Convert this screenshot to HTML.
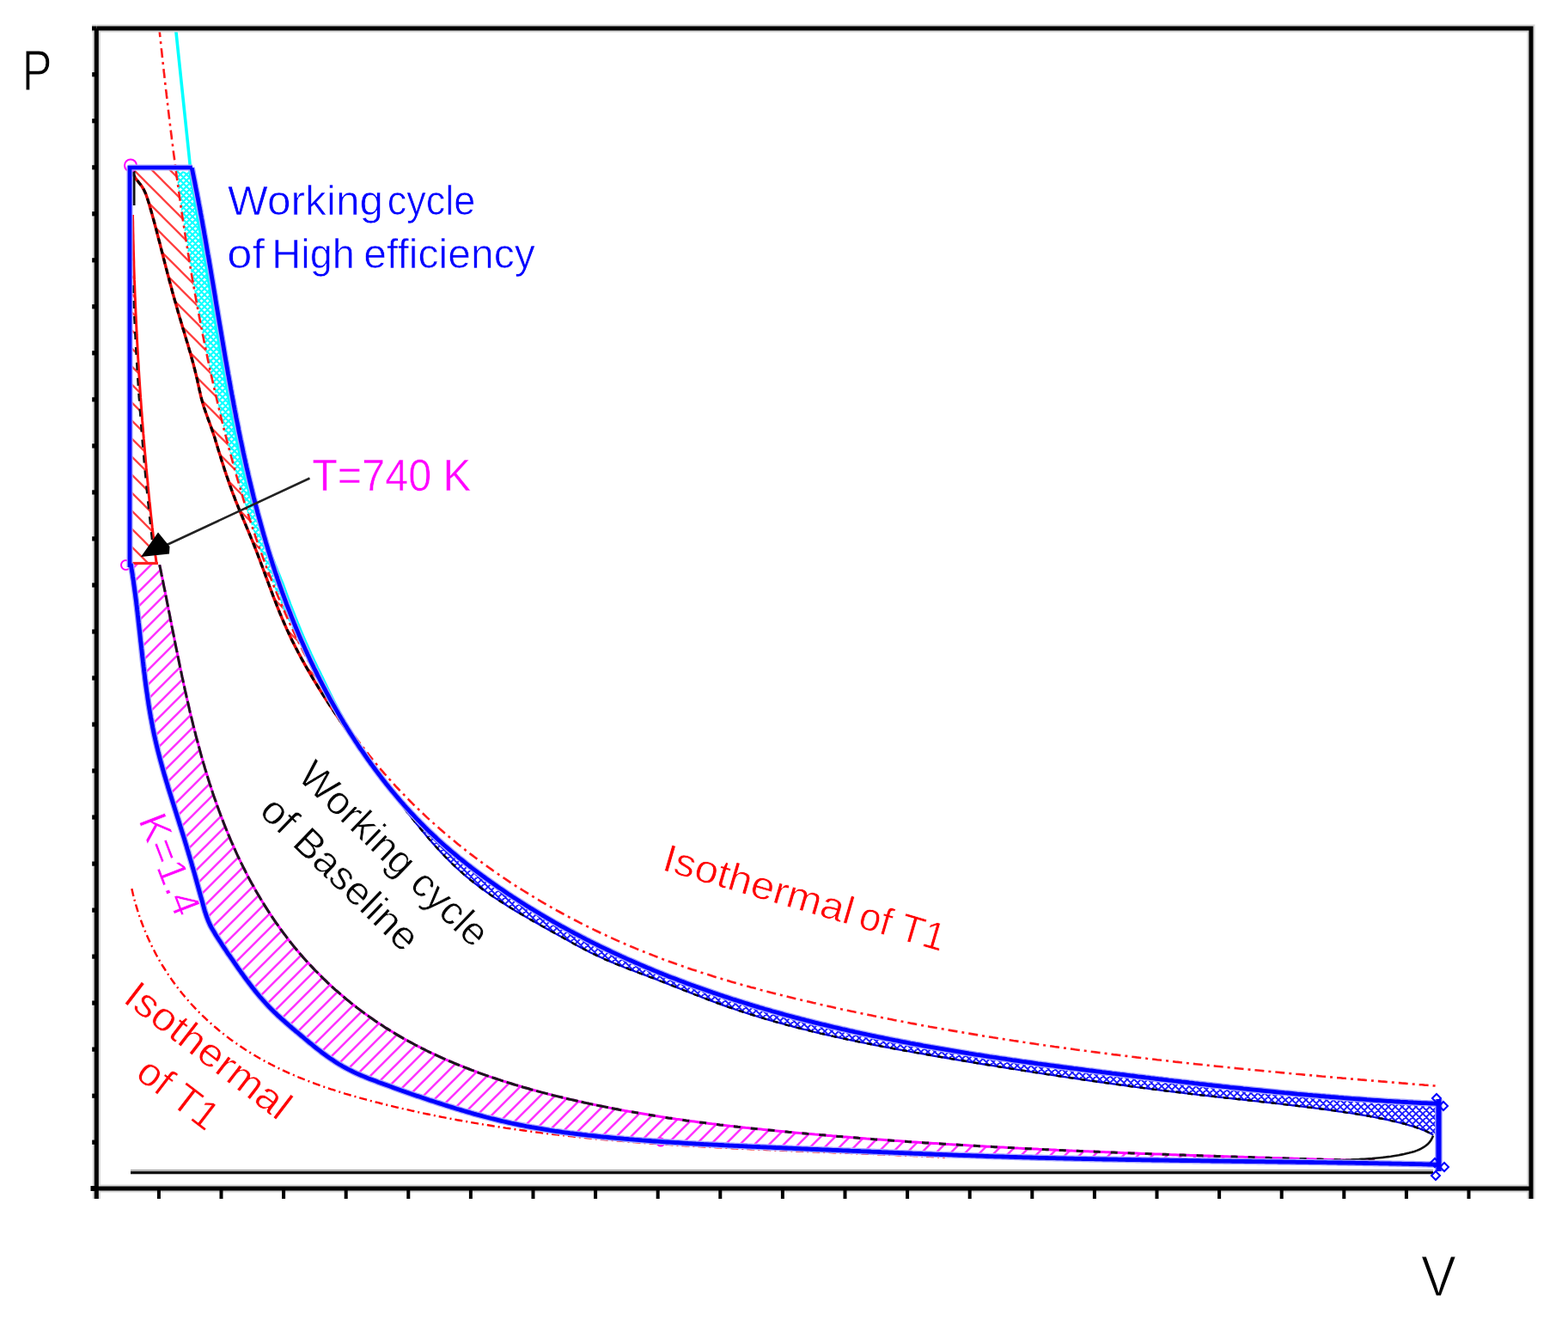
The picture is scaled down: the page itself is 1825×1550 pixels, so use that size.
<!DOCTYPE html>
<html><head><meta charset="utf-8"><title>P-V diagram</title>
<style>html,body{margin:0;padding:0;background:#fff;}svg{display:block;}</style></head>
<body><svg width="1825" height="1550" viewBox="0 0 1825 1550">
<rect width="1825" height="1550" fill="#fff"/>

<defs>
 <pattern id="hr" patternUnits="userSpaceOnUse" width="21" height="21">
   <path d="M-5,-5 L26,26 M-26,-5 L5,26 M16,-5 L47,26" stroke="#ff4040" stroke-width="2.3"/>
 </pattern>
 <pattern id="hm" patternUnits="userSpaceOnUse" width="17" height="17">
   <path d="M-4,21 L21,-4 M-21,21 L4,-4 M13,21 L38,-4" stroke="#ff33ff" stroke-width="2.6"/>
 </pattern>
 <pattern id="hc" patternUnits="userSpaceOnUse" width="7" height="7">
   <path d="M-2,-2 L9,9 M-9,-2 L2,9 M5,-2 L16,9 M-2,9 L9,-2 M-9,9 L2,-2 M5,9 L16,-2" stroke="#10ffff" stroke-width="2.2"/>
 </pattern>
 <pattern id="hb" patternUnits="userSpaceOnUse" width="8" height="8">
   <path d="M-2,-2 L10,10 M-10,-2 L2,10 M6,-2 L18,10 M-2,10 L10,-2 M-10,10 L2,-2 M6,10 L18,-2" stroke="#1818ff" stroke-width="1.9"/>
 </pattern>
</defs>
<path d="M153.0,250.0 L154.5,250.0 L154.5,253.0 L154.6,256.1 L154.7,259.1 L154.7,262.1 L154.8,265.2 L154.8,268.2 L154.9,271.3 L155.0,274.3 L155.0,277.3 L155.1,280.4 L155.2,283.4 L155.3,286.5 L155.3,289.5 L155.4,292.5 L155.5,295.6 L155.6,298.6 L155.7,301.6 L155.8,304.7 L155.8,307.7 L155.9,310.7 L156.0,313.8 L156.1,316.8 L156.2,319.9 L156.3,322.9 L156.4,325.9 L156.6,329.0 L156.7,332.0 L156.8,335.0 L156.9,338.1 L157.0,341.1 L157.1,344.1 L157.3,347.2 L157.4,350.2 L157.5,353.3 L157.6,356.3 L157.8,359.3 L157.9,362.4 L158.0,365.4 L158.2,368.4 L158.3,371.5 L158.5,374.5 L158.6,377.5 L158.8,380.6 L158.9,383.6 L159.1,386.6 L159.2,389.7 L159.4,392.7 L159.5,395.7 L159.7,398.8 L159.9,401.8 L160.0,404.8 L160.2,407.9 L160.4,410.9 L160.5,413.9 L160.7,417.0 L160.9,420.0 L161.1,423.0 L161.3,426.1 L161.4,429.1 L161.6,432.1 L161.8,435.2 L162.0,438.2 L162.2,441.2 L162.4,444.3 L162.6,447.3 L162.8,450.3 L163.0,453.4 L163.2,456.4 L163.4,459.4 L163.6,462.4 L163.9,465.5 L164.1,468.5 L164.3,471.5 L164.5,474.6 L164.7,477.6 L165.0,480.6 L165.2,483.7 L165.4,486.7 L165.6,489.7 L165.9,492.7 L166.1,495.8 L166.4,498.8 L166.6,501.8 L166.8,504.9 L167.1,507.9 L167.3,510.9 L167.6,513.9 L167.8,517.0 L168.1,520.0 L168.4,523.0 L168.6,526.0 L168.9,529.1 L169.2,532.1 L169.4,535.1 L169.7,538.2 L170.0,541.2 L170.2,544.2 L170.5,547.2 L170.8,550.3 L171.1,553.3 L171.4,556.3 L171.7,559.3 L172.0,562.4 L172.2,565.4 L172.5,568.4 L172.8,571.4 L173.1,574.4 L173.4,577.5 L173.7,580.5 L174.0,583.5 L174.4,586.5 L174.7,589.6 L175.0,592.6 L175.3,595.6 L175.6,598.6 L175.9,601.6 L176.3,604.7 L176.6,607.7 L176.9,610.7 L177.2,613.7 L177.6,616.7 L177.9,619.8 L178.3,622.8 L178.6,625.8 L178.9,628.8 L179.3,631.8 L179.6,634.9 L180.0,637.9 L180.3,640.9 L180.7,643.9 L181.0,646.9 L181.4,650.0 L181.8,653.0 L182.1,656.0 L182.0,657.0 L153.0,657.0 Z" fill="url(#hr)"/>
<path d="M153.0,197.0 L204.6,197.7 L205.0,200.7 L205.4,203.7 L205.8,206.6 L206.3,209.6 L206.7,212.6 L207.1,215.5 L207.5,218.5 L207.9,221.5 L208.3,224.4 L208.7,227.4 L209.1,230.3 L209.6,233.3 L210.0,236.3 L210.4,239.2 L210.8,242.2 L211.3,245.1 L211.7,248.1 L212.1,251.1 L212.6,254.0 L213.0,257.0 L213.5,259.9 L213.9,262.9 L214.4,265.8 L214.8,268.8 L215.3,271.7 L215.7,274.7 L216.2,277.6 L216.7,280.6 L217.1,283.5 L217.6,286.4 L218.1,289.4 L218.5,292.3 L219.0,295.3 L219.5,298.2 L220.0,301.2 L220.5,304.1 L220.9,307.0 L221.4,310.0 L221.9,312.9 L222.4,315.9 L222.9,318.8 L223.4,321.7 L223.9,324.7 L224.5,327.6 L225.0,330.6 L225.5,333.5 L226.0,336.4 L226.5,339.4 L227.0,342.3 L227.6,345.2 L228.1,348.2 L228.6,351.1 L229.2,354.0 L229.7,357.0 L230.3,359.9 L230.8,362.8 L231.4,365.8 L231.9,368.7 L232.5,371.6 L233.1,374.5 L233.6,377.5 L234.2,380.4 L234.8,383.3 L235.3,386.3 L235.9,389.2 L236.5,392.1 L237.1,395.0 L237.7,398.0 L238.3,400.9 L238.9,403.8 L239.5,406.7 L240.1,409.7 L240.7,412.6 L241.3,415.5 L241.9,418.4 L242.6,421.4 L243.2,424.3 L243.8,427.2 L244.4,430.1 L245.1,433.1 L245.7,436.0 L246.4,438.9 L247.0,441.8 L247.7,444.8 L248.3,447.7 L249.0,450.6 L249.7,453.5 L250.3,456.5 L251.0,459.4 L251.7,462.3 L252.4,465.2 L253.1,468.1 L253.8,471.1 L254.5,474.0 L255.2,476.9 L255.9,479.8 L256.6,482.8 L257.3,485.7 L258.0,488.6 L258.7,491.5 L259.5,494.5 L260.2,497.4 L260.9,500.3 L261.7,503.2 L262.4,506.1 L263.2,509.1 L263.9,512.0 L264.7,514.9 L265.5,517.8 L266.2,520.8 L267.0,523.7 L267.8,526.6 L268.6,529.5 L269.4,532.5 L270.2,535.4 L271.0,538.3 L271.8,541.2 L272.6,544.1 L273.4,547.1 L274.2,550.0 L275.0,552.9 L275.9,555.8 L276.7,558.7 L277.6,561.6 L278.4,564.5 L279.3,567.4 L280.1,570.4 L281.0,573.3 L281.9,576.2 L282.7,579.1 L283.6,582.0 L284.5,584.9 L285.4,587.8 L286.3,590.7 L287.2,593.6 L288.1,596.5 L289.1,599.4 L290.0,602.2 L290.9,605.1 L291.9,608.0 L292.8,610.9 L293.8,613.8 L294.7,616.7 L295.7,619.5 L296.7,622.4 L297.6,625.3 L298.6,628.1 L299.6,631.0 L300.6,633.9 L301.6,636.7 L302.6,639.6 L303.7,642.4 L304.7,645.3 L305.7,648.1 L306.8,651.0 L307.8,653.8 L308.9,656.7 L309.9,659.5 L311.0,662.3 L312.1,665.2 L313.2,668.0 L314.3,670.8 L315.4,673.6 L316.5,676.4 L317.6,679.2 L318.7,682.0 L319.8,684.8 L321.0,687.6 L322.1,690.4 L323.3,693.2 L324.4,696.0 L325.6,698.8 L326.8,701.6 L328.0,704.3 L329.1,707.1 L330.4,709.9 L331.6,712.6 L332.8,715.4 L334.0,718.1 L335.2,720.9 L336.5,723.6 L337.7,726.4 L339.0,729.1 L340.3,731.8 L341.5,734.5 L342.8,737.3 L344.1,740.0 L345.4,742.7 L346.7,745.4 L348.0,748.1 L349.4,750.8 L350.7,753.4 L352.1,756.1 L353.4,758.8 L354.8,761.5 L356.2,764.1 L357.5,766.8 L358.9,769.4 L360.3,772.1 L361.7,774.7 L363.2,777.3 L364.6,780.0 L366.0,782.6 L367.5,785.2 L368.9,787.8 L370.4,790.4 L371.9,793.0 L373.4,795.6 L374.9,798.2 L376.4,800.7 L377.9,803.3 L379.4,805.9 L380.9,808.4 L382.5,811.0 L384.0,813.5 L385.6,816.0 L387.2,818.6 L388.8,821.1 L390.4,823.6 L392.0,826.1 L393.6,828.6 L395.2,831.1 L396.9,833.6 L398.5,836.0 L400.2,838.5 L401.8,841.0 L403.5,843.4 L405.2,845.9 L406.9,848.3 L408.6,850.7 L410.3,853.2 L412.1,855.6 L413.8,858.0 L415.6,860.4 L417.3,862.8 L419.1,865.1 L420.9,867.5 L422.7,869.9 L416.6,868.1 L414.9,865.7 L413.1,863.2 L411.4,860.8 L409.7,858.3 L407.9,855.9 L406.2,853.4 L404.5,850.9 L402.8,848.5 L401.0,846.0 L399.3,843.5 L397.6,841.0 L395.9,838.6 L394.2,836.1 L392.5,833.6 L390.8,831.1 L389.1,828.6 L387.5,826.1 L385.8,823.6 L384.1,821.1 L382.5,818.6 L380.8,816.1 L379.2,813.5 L377.6,811.0 L376.0,808.5 L374.3,805.9 L372.7,803.4 L371.1,800.8 L369.6,798.3 L368.0,795.7 L366.4,793.2 L364.9,790.6 L363.3,788.0 L361.8,785.4 L360.3,782.9 L358.8,780.3 L357.3,777.7 L355.8,775.1 L354.3,772.4 L352.9,769.8 L351.4,767.2 L350.0,764.6 L348.6,761.9 L347.1,759.3 L345.8,756.6 L344.4,754.0 L343.0,751.3 L341.7,748.6 L340.3,745.9 L339.0,743.3 L337.7,740.6 L336.4,737.8 L335.2,735.1 L333.9,732.4 L332.7,729.7 L331.5,726.9 L330.3,724.2 L329.1,721.4 L327.9,718.7 L326.8,715.9 L325.6,713.1 L324.5,710.3 L323.4,707.6 L322.3,704.8 L321.2,702.0 L320.1,699.2 L319.0,696.4 L317.9,693.5 L316.9,690.7 L315.8,687.9 L314.8,685.1 L313.7,682.3 L312.7,679.5 L311.6,676.6 L310.6,673.8 L309.5,671.0 L308.5,668.2 L307.4,665.3 L306.4,662.5 L305.4,659.7 L304.3,656.9 L303.3,654.1 L302.2,651.2 L301.1,648.4 L300.1,645.6 L299.0,642.8 L297.9,640.0 L296.8,637.2 L295.7,634.4 L294.6,631.6 L293.5,628.8 L292.3,626.1 L291.2,623.3 L290.0,620.5 L288.9,617.8 L287.7,615.0 L286.5,612.2 L285.4,609.5 L284.2,606.7 L283.0,603.9 L281.9,601.2 L280.7,598.4 L279.6,595.6 L278.4,592.9 L277.3,590.1 L276.2,587.3 L275.0,584.5 L273.9,581.7 L272.9,578.9 L271.8,576.1 L270.7,573.3 L269.7,570.5 L268.7,567.6 L267.6,564.8 L266.6,562.0 L265.7,559.1 L264.7,556.3 L263.7,553.4 L262.8,550.6 L261.8,547.7 L260.9,544.9 L260.0,542.0 L259.0,539.1 L258.1,536.3 L257.2,533.4 L256.4,530.6 L255.5,527.7 L254.6,524.9 L253.7,522.0 L252.9,519.2 L252.0,516.3 L251.1,513.5 L250.3,510.6 L249.4,507.8 L248.4,505.0 L247.5,502.2 L246.5,499.4 L245.5,496.5 L244.5,493.7 L243.5,490.9 L242.4,488.1 L241.4,485.3 L240.4,482.5 L239.4,479.7 L238.4,476.8 L237.4,474.0 L236.5,471.1 L235.7,468.3 L234.9,465.4 L234.1,462.5 L233.4,459.6 L232.8,456.7 L232.1,453.8 L231.5,450.8 L230.8,447.9 L230.2,445.0 L229.6,442.1 L228.9,439.1 L228.2,436.2 L227.5,433.3 L226.8,430.4 L226.0,427.5 L225.3,424.6 L224.5,421.7 L223.7,418.8 L222.9,415.9 L222.1,413.0 L221.3,410.1 L220.4,407.2 L219.6,404.4 L218.8,401.5 L217.9,398.6 L217.0,395.7 L216.2,392.9 L215.3,390.0 L214.5,387.1 L213.6,384.2 L212.7,381.4 L211.9,378.5 L211.0,375.6 L210.2,372.8 L209.3,369.9 L208.5,367.0 L207.6,364.2 L206.8,361.3 L206.0,358.4 L205.2,355.5 L204.4,352.7 L203.5,349.8 L202.7,346.9 L201.9,344.0 L201.1,341.2 L200.3,338.3 L199.6,335.4 L198.8,332.5 L198.0,329.6 L197.2,326.7 L196.5,323.8 L195.7,320.9 L194.9,318.0 L194.2,315.1 L193.4,312.2 L192.7,309.3 L191.9,306.4 L191.2,303.5 L190.4,300.6 L189.7,297.7 L188.9,294.7 L188.2,291.8 L187.4,288.9 L186.7,286.0 L186.0,283.1 L185.2,280.2 L184.4,277.3 L183.7,274.4 L182.9,271.5 L182.2,268.5 L181.4,265.6 L180.6,262.8 L179.9,259.9 L179.1,257.0 L178.3,254.1 L177.5,251.2 L176.7,248.3 L175.9,245.5 L175.0,242.6 L174.2,239.7 L173.4,236.9 L172.5,234.0 L171.6,231.2 L170.7,228.5 L169.7,225.7 L168.5,223.1 L167.3,220.6 L165.9,218.1 L164.3,215.8 L162.6,213.6 L160.9,211.4 L159.1,209.3 L157.5,207.0 L156.1,204.7 L155.0,202.2 L154.3,199.5 Z" fill="url(#hr)"/>
<path d="M204.6,197.7 L205.0,200.7 L205.4,203.7 L205.8,206.6 L206.3,209.6 L206.7,212.6 L207.1,215.5 L207.5,218.5 L207.9,221.5 L208.3,224.4 L208.7,227.4 L209.1,230.3 L209.6,233.3 L210.0,236.3 L210.4,239.2 L210.8,242.2 L211.3,245.1 L211.7,248.1 L212.1,251.1 L212.6,254.0 L213.0,257.0 L213.5,259.9 L213.9,262.9 L214.4,265.8 L214.8,268.8 L215.3,271.7 L215.7,274.7 L216.2,277.6 L216.7,280.6 L217.1,283.5 L217.6,286.4 L218.1,289.4 L218.5,292.3 L219.0,295.3 L219.5,298.2 L220.0,301.2 L220.5,304.1 L220.9,307.0 L221.4,310.0 L221.9,312.9 L222.4,315.9 L222.9,318.8 L223.4,321.7 L223.9,324.7 L224.5,327.6 L225.0,330.6 L225.5,333.5 L226.0,336.4 L226.5,339.4 L227.0,342.3 L227.6,345.2 L228.1,348.2 L228.6,351.1 L229.2,354.0 L229.7,357.0 L230.3,359.9 L230.8,362.8 L231.4,365.8 L231.9,368.7 L232.5,371.6 L233.1,374.5 L233.6,377.5 L234.2,380.4 L234.8,383.3 L235.3,386.3 L235.9,389.2 L236.5,392.1 L237.1,395.0 L237.7,398.0 L238.3,400.9 L238.9,403.8 L239.5,406.7 L240.1,409.7 L240.7,412.6 L241.3,415.5 L241.9,418.4 L242.6,421.4 L243.2,424.3 L243.8,427.2 L244.4,430.1 L245.1,433.1 L245.7,436.0 L246.4,438.9 L247.0,441.8 L247.7,444.8 L248.3,447.7 L249.0,450.6 L249.7,453.5 L250.3,456.5 L251.0,459.4 L251.7,462.3 L252.4,465.2 L253.1,468.1 L253.8,471.1 L254.5,474.0 L255.2,476.9 L255.9,479.8 L256.6,482.8 L257.3,485.7 L258.0,488.6 L258.7,491.5 L259.5,494.5 L260.2,497.4 L260.9,500.3 L261.7,503.2 L262.4,506.1 L263.2,509.1 L263.9,512.0 L264.7,514.9 L265.5,517.8 L266.2,520.8 L267.0,523.7 L267.8,526.6 L268.6,529.5 L269.4,532.5 L270.2,535.4 L271.0,538.3 L271.8,541.2 L272.6,544.1 L273.4,547.1 L274.2,550.0 L275.0,552.9 L275.9,555.8 L276.7,558.7 L277.6,561.6 L278.4,564.5 L279.3,567.4 L280.1,570.4 L281.0,573.3 L281.9,576.2 L282.7,579.1 L283.6,582.0 L284.5,584.9 L285.4,587.8 L286.3,590.7 L287.2,593.6 L288.1,596.5 L289.1,599.4 L290.0,602.2 L290.9,605.1 L291.9,608.0 L292.8,610.9 L293.8,613.8 L294.7,616.7 L295.7,619.5 L296.7,622.4 L297.6,625.3 L298.6,628.1 L299.6,631.0 L300.6,633.9 L301.6,636.7 L302.6,639.6 L303.7,642.4 L304.7,645.3 L305.7,648.1 L306.8,651.0 L307.8,653.8 L308.9,656.7 L309.9,659.5 L311.0,662.3 L312.1,665.2 L313.2,668.0 L314.3,670.8 L315.4,673.6 L316.5,676.4 L317.6,679.2 L318.7,682.0 L319.8,684.8 L321.0,687.6 L322.1,690.4 L323.3,693.2 L324.4,696.0 L325.6,698.8 L326.8,701.6 L328.0,704.3 L329.1,707.1 L330.4,709.9 L331.6,712.6 L332.8,715.4 L334.0,718.1 L335.2,720.9 L336.5,723.6 L337.7,726.4 L339.0,729.1 L340.3,731.8 L341.5,734.5 L342.8,737.3 L344.1,740.0 L345.4,742.7 L346.7,745.4 L348.0,748.1 L349.4,750.8 L350.7,753.4 L352.1,756.1 L353.4,758.8 L354.8,761.5 L356.2,764.1 L357.5,766.8 L358.9,769.4 L360.3,772.1 L361.7,774.7 L363.2,777.3 L364.6,780.0 L366.0,782.6 L367.5,785.2 L368.9,787.8 L370.4,790.4 L371.9,793.0 L373.4,795.6 L374.9,798.2 L376.4,800.7 L377.9,803.3 L379.4,805.9 L380.9,808.4 L382.5,811.0 L384.0,813.5 L385.6,816.0 L387.2,818.6 L388.8,821.1 L390.4,823.6 L392.0,826.1 L393.6,828.6 L395.2,831.1 L396.9,833.6 L398.5,836.0 L400.2,838.5 L401.8,841.0 L403.5,843.4 L405.2,845.9 L406.9,848.3 L408.6,850.7 L410.3,853.2 L412.1,855.6 L413.8,858.0 L412.2,858.7 L410.7,856.2 L409.2,853.7 L407.7,851.1 L406.2,848.6 L404.8,846.0 L403.3,843.5 L401.9,840.9 L400.4,838.3 L399.0,835.8 L397.6,833.2 L396.2,830.6 L394.8,828.0 L393.4,825.4 L392.0,822.8 L390.6,820.2 L389.3,817.5 L387.9,814.9 L386.6,812.3 L385.3,809.6 L384.0,807.0 L382.7,804.3 L381.4,801.7 L380.1,799.0 L378.8,796.3 L377.6,793.7 L376.3,791.0 L375.0,788.3 L373.6,785.6 L372.3,782.9 L371.0,780.2 L369.6,777.5 L368.3,774.8 L367.0,772.1 L365.7,769.4 L364.4,766.6 L363.2,763.9 L361.9,761.2 L360.7,758.4 L359.4,755.7 L358.2,752.9 L357.0,750.2 L355.7,747.4 L354.5,744.7 L353.3,741.9 L352.1,739.1 L351.0,736.4 L349.8,733.6 L348.6,730.8 L347.5,728.0 L346.3,725.2 L345.2,722.4 L344.1,719.6 L343.0,716.8 L341.9,714.0 L340.8,711.2 L339.7,708.4 L338.6,705.6 L337.5,702.8 L336.5,700.0 L335.4,697.1 L334.4,694.3 L333.3,691.5 L332.3,688.7 L331.3,685.8 L330.3,683.0 L329.3,680.2 L328.1,677.3 L326.9,674.5 L325.8,671.6 L324.6,668.8 L323.4,665.9 L322.3,663.1 L321.2,660.2 L320.0,657.4 L318.9,654.5 L317.8,651.6 L316.7,648.8 L315.6,645.9 L314.5,643.0 L313.4,640.2 L312.3,637.3 L311.3,634.4 L310.2,631.5 L309.2,628.6 L308.1,625.8 L307.1,622.9 L306.0,620.0 L305.0,617.1 L304.0,614.2 L303.0,611.3 L302.0,608.4 L301.0,605.5 L300.0,602.6 L299.0,599.7 L298.0,596.8 L297.1,593.9 L296.1,591.0 L295.2,588.1 L294.2,585.2 L293.3,582.3 L292.3,579.4 L291.4,576.5 L290.5,573.6 L289.5,570.6 L288.6,567.7 L287.7,564.8 L286.8,561.9 L286.0,559.0 L285.3,556.0 L284.6,553.1 L284.0,550.2 L283.3,547.3 L282.6,544.3 L282.0,541.4 L281.3,538.5 L280.7,535.5 L280.0,532.6 L279.4,529.7 L278.7,526.7 L278.1,523.8 L277.5,520.8 L276.9,517.9 L276.3,515.0 L275.6,512.0 L275.0,509.1 L274.4,506.1 L273.8,503.2 L273.2,500.2 L272.7,497.3 L272.1,494.3 L271.5,491.4 L270.9,488.4 L270.3,485.5 L269.8,482.5 L269.2,479.6 L268.6,476.6 L268.1,473.7 L267.5,470.7 L267.0,467.7 L266.4,464.8 L265.9,461.8 L265.3,458.9 L264.8,455.9 L264.2,452.9 L263.7,450.0 L263.2,447.0 L262.6,444.1 L262.1,441.1 L261.6,438.1 L261.0,435.2 L260.5,432.2 L260.0,429.2 L259.5,426.3 L259.0,423.3 L258.4,420.3 L257.9,417.4 L257.4,414.4 L256.9,411.4 L256.4,408.5 L255.9,405.5 L255.4,402.5 L254.9,399.5 L254.4,396.6 L253.9,393.6 L253.4,390.6 L252.9,387.7 L252.4,384.7 L251.9,381.7 L251.4,378.7 L250.9,375.8 L250.4,372.8 L249.9,369.8 L249.4,366.9 L248.9,363.9 L248.4,360.9 L247.9,357.9 L247.4,355.0 L246.9,352.0 L246.4,349.0 L246.0,346.1 L245.5,343.1 L245.0,340.1 L244.5,337.1 L244.0,334.2 L243.5,331.2 L243.0,328.2 L242.5,325.3 L242.0,322.3 L241.5,319.3 L241.0,316.4 L240.5,313.4 L240.0,310.4 L239.5,307.5 L239.0,304.5 L238.5,301.5 L238.0,298.6 L237.4,295.6 L236.9,292.6 L236.4,289.7 L235.9,286.7 L235.4,283.7 L234.9,280.8 L234.4,277.8 L233.8,274.8 L233.3,271.9 L232.8,268.9 L232.3,266.0 L231.7,263.0 L231.2,260.0 L230.7,257.1 L230.3,254.1 L229.8,251.2 L229.3,248.2 L228.8,245.3 L228.3,242.3 L227.9,239.4 L227.4,236.4 L226.9,233.5 L226.4,230.5 L225.9,227.6 L225.4,224.6 L224.9,221.7 L224.4,218.7 L223.9,215.8 L223.3,212.8 L222.8,209.9 L222.3,207.0 L221.8,204.0 L221.2,201.1 Z" fill="url(#hc)"/>
<path d="M421.3,873.7 L423.0,876.2 L424.7,878.7 L426.4,881.1 L428.1,883.6 L429.9,886.0 L431.6,888.5 L433.4,890.9 L435.2,893.3 L437.0,895.7 L438.8,898.1 L440.6,900.5 L442.4,902.9 L444.2,905.3 L446.1,907.7 L447.9,910.0 L449.8,912.4 L451.7,914.7 L453.5,917.1 L455.4,919.4 L457.4,921.7 L459.3,924.0 L461.2,926.3 L463.2,928.6 L465.1,930.9 L467.1,933.2 L469.1,935.4 L471.0,937.7 L473.0,939.9 L475.1,942.1 L477.1,944.3 L479.1,946.5 L481.2,948.7 L483.2,950.9 L485.3,953.1 L487.4,955.2 L489.5,957.4 L491.6,959.5 L493.7,961.6 L495.8,963.8 L498.0,965.9 L500.1,967.9 L502.3,970.0 L504.5,972.1 L506.7,974.1 L508.9,976.2 L511.1,978.2 L513.3,980.2 L515.5,982.2 L517.8,984.2 L520.0,986.1 L522.3,988.1 L524.6,990.1 L526.9,992.0 L529.2,993.9 L531.5,995.8 L533.8,997.8 L536.1,999.6 L538.5,1001.5 L540.8,1003.4 L543.2,1005.3 L545.5,1007.1 L547.9,1009.0 L550.3,1010.8 L552.7,1012.6 L555.0,1014.4 L557.4,1016.2 L559.9,1018.0 L562.3,1019.8 L564.7,1021.5 L567.1,1023.3 L569.6,1025.0 L572.0,1026.8 L574.5,1028.5 L576.9,1030.2 L579.4,1032.0 L581.9,1033.7 L584.4,1035.3 L586.8,1037.0 L589.3,1038.7 L591.8,1040.4 L594.3,1042.0 L596.8,1043.7 L599.3,1045.3 L601.9,1047.0 L604.4,1048.6 L606.9,1050.2 L609.5,1051.8 L612.0,1053.4 L614.5,1055.0 L617.1,1056.6 L619.7,1058.1 L622.2,1059.7 L624.8,1061.2 L627.4,1062.8 L629.9,1064.3 L632.5,1065.8 L635.1,1067.4 L637.7,1068.9 L640.3,1070.4 L642.9,1071.9 L645.5,1073.4 L648.1,1074.8 L650.8,1076.3 L653.4,1077.8 L656.0,1079.2 L658.7,1080.7 L661.3,1082.1 L663.9,1083.5 L666.6,1084.9 L669.2,1086.3 L671.9,1087.7 L674.6,1089.1 L677.2,1090.5 L679.9,1091.9 L682.6,1093.3 L685.3,1094.6 L687.9,1096.0 L690.6,1097.3 L693.3,1098.7 L696.0,1100.0 L698.7,1101.3 L701.4,1102.6 L704.1,1103.9 L706.9,1105.2 L709.6,1106.5 L712.3,1107.8 L715.0,1109.1 L717.8,1110.4 L720.5,1111.6 L723.2,1112.9 L726.0,1114.1 L728.7,1115.4 L731.5,1116.6 L734.2,1117.8 L737.0,1119.0 L739.7,1120.2 L742.5,1121.4 L745.3,1122.6 L748.0,1123.8 L750.8,1125.0 L753.6,1126.2 L756.4,1127.3 L759.2,1128.5 L761.9,1129.6 L764.7,1130.8 L767.5,1131.9 L770.3,1133.0 L773.1,1134.1 L775.9,1135.3 L778.7,1136.4 L781.5,1137.5 L784.4,1138.5 L787.2,1139.6 L790.0,1140.7 L792.8,1141.8 L795.6,1142.8 L798.5,1143.9 L801.3,1144.9 L804.1,1146.0 L806.9,1147.0 L809.8,1148.1 L812.6,1149.1 L815.5,1150.1 L818.3,1151.1 L821.2,1152.1 L824.0,1153.1 L826.9,1154.1 L829.7,1155.1 L832.6,1156.0 L835.4,1157.0 L838.3,1158.0 L841.1,1158.9 L844.0,1159.9 L846.9,1160.8 L849.7,1161.7 L852.6,1162.7 L855.5,1163.6 L858.4,1164.5 L861.2,1165.4 L864.1,1166.3 L867.0,1167.2 L869.9,1168.1 L872.7,1169.0 L875.6,1169.9 L878.5,1170.7 L881.4,1171.6 L884.3,1172.5 L887.2,1173.3 L890.1,1174.2 L893.0,1175.0 L895.9,1175.8 L898.7,1176.7 L901.6,1177.5 L904.5,1178.3 L907.4,1179.1 L910.3,1179.9 L913.2,1180.7 L916.1,1181.5 L919.0,1182.3 L922.0,1183.1 L924.9,1183.9 L927.8,1184.6 L930.7,1185.4 L933.6,1186.2 L936.5,1186.9 L939.4,1187.7 L942.3,1188.4 L945.2,1189.1 L948.1,1189.9 L951.1,1190.6 L954.0,1191.3 L956.9,1192.0 L959.8,1192.7 L962.7,1193.4 L965.7,1194.1 L968.6,1194.8 L971.5,1195.5 L974.4,1196.2 L977.3,1196.9 L980.3,1197.6 L983.2,1198.2 L986.1,1198.9 L989.1,1199.6 L992.0,1200.2 L994.9,1200.9 L997.9,1201.5 L1000.8,1202.2 L1003.7,1202.8 L1006.7,1203.4 L1009.6,1204.0 L1012.5,1204.7 L1015.5,1205.3 L1018.4,1205.9 L1021.3,1206.5 L1024.3,1207.1 L1027.2,1207.7 L1030.2,1208.3 L1033.1,1208.9 L1036.1,1209.5 L1039.0,1210.1 L1041.9,1210.7 L1044.9,1211.2 L1047.8,1211.8 L1050.8,1212.4 L1053.7,1212.9 L1056.7,1213.5 L1059.6,1214.1 L1062.6,1214.6 L1065.5,1215.2 L1068.5,1215.7 L1071.4,1216.2 L1074.4,1216.8 L1077.3,1217.3 L1080.3,1217.8 L1083.3,1218.4 L1086.2,1218.9 L1089.2,1219.4 L1092.1,1219.9 L1095.1,1220.4 L1098.1,1220.9 L1101.0,1221.4 L1104.0,1221.9 L1106.9,1222.4 L1109.9,1222.9 L1112.9,1223.4 L1115.8,1223.9 L1118.8,1224.4 L1121.8,1224.9 L1124.7,1225.4 L1127.7,1225.9 L1130.7,1226.3 L1133.6,1226.8 L1136.6,1227.3 L1139.6,1227.7 L1142.5,1228.2 L1145.5,1228.7 L1148.5,1229.1 L1151.4,1229.6 L1154.4,1230.0 L1157.4,1230.5 L1160.4,1230.9 L1163.3,1231.4 L1166.3,1231.8 L1169.3,1232.2 L1172.2,1232.7 L1175.2,1233.1 L1178.2,1233.6 L1181.2,1234.0 L1184.2,1234.4 L1187.1,1234.8 L1190.1,1235.3 L1193.1,1235.7 L1196.1,1236.1 L1199.0,1236.5 L1202.0,1236.9 L1205.0,1237.3 L1208.0,1237.8 L1211.0,1238.2 L1213.9,1238.6 L1216.9,1239.0 L1219.9,1239.4 L1222.9,1239.8 L1225.9,1240.2 L1228.8,1240.6 L1231.8,1241.0 L1234.8,1241.4 L1237.8,1241.8 L1240.8,1242.2 L1243.8,1242.6 L1246.7,1243.0 L1249.7,1243.4 L1252.7,1243.7 L1255.7,1244.1 L1258.7,1244.5 L1261.7,1244.9 L1264.7,1245.3 L1267.6,1245.7 L1270.6,1246.0 L1273.6,1246.4 L1276.6,1246.8 L1279.6,1247.2 L1282.6,1247.6 L1285.6,1247.9 L1288.6,1248.3 L1291.5,1248.7 L1294.5,1249.1 L1297.5,1249.4 L1300.5,1249.8 L1303.5,1250.2 L1306.5,1250.5 L1309.5,1250.9 L1312.5,1251.3 L1315.4,1251.7 L1318.4,1252.0 L1321.4,1252.4 L1324.4,1252.8 L1327.4,1253.1 L1330.4,1253.5 L1333.4,1253.9 L1336.4,1254.2 L1339.4,1254.6 L1342.4,1254.9 L1345.3,1255.3 L1348.3,1255.7 L1351.3,1256.0 L1354.3,1256.4 L1357.3,1256.7 L1360.3,1257.1 L1363.3,1257.4 L1366.3,1257.8 L1369.3,1258.1 L1372.3,1258.5 L1375.3,1258.9 L1378.2,1259.2 L1381.2,1259.5 L1384.2,1259.9 L1387.2,1260.2 L1390.2,1260.6 L1393.2,1260.9 L1396.2,1261.3 L1399.2,1261.6 L1402.2,1261.9 L1405.2,1262.3 L1408.2,1262.6 L1411.2,1263.0 L1414.2,1263.3 L1417.1,1263.6 L1420.1,1263.9 L1423.1,1264.3 L1426.1,1264.6 L1429.1,1264.9 L1432.1,1265.3 L1435.1,1265.6 L1438.1,1265.9 L1441.1,1266.2 L1444.1,1266.5 L1447.1,1266.9 L1450.1,1267.2 L1453.1,1267.5 L1456.1,1267.8 L1459.1,1268.1 L1462.1,1268.4 L1465.1,1268.7 L1468.1,1269.0 L1471.0,1269.3 L1474.0,1269.6 L1477.0,1269.9 L1480.0,1270.2 L1483.0,1270.5 L1486.0,1270.8 L1489.0,1271.1 L1492.0,1271.4 L1495.0,1271.7 L1498.0,1271.9 L1501.0,1272.2 L1504.0,1272.5 L1507.0,1272.8 L1510.0,1273.1 L1513.0,1273.3 L1516.0,1273.6 L1519.0,1273.9 L1522.0,1274.2 L1525.0,1274.4 L1528.0,1274.7 L1531.0,1274.9 L1534.0,1275.2 L1537.0,1275.5 L1540.0,1275.7 L1543.0,1276.0 L1546.0,1276.2 L1549.0,1276.5 L1552.0,1276.7 L1555.0,1276.9 L1558.0,1277.2 L1561.0,1277.4 L1563.9,1277.7 L1566.9,1277.9 L1569.9,1278.1 L1572.9,1278.4 L1575.9,1278.6 L1578.9,1278.8 L1581.9,1279.0 L1584.9,1279.2 L1587.9,1279.4 L1590.9,1279.7 L1593.9,1279.9 L1596.9,1280.1 L1599.9,1280.3 L1602.9,1280.5 L1605.9,1280.7 L1608.9,1280.9 L1611.9,1281.1 L1614.9,1281.3 L1617.9,1281.4 L1620.9,1281.6 L1623.9,1281.8 L1626.9,1282.0 L1629.9,1282.2 L1632.9,1282.3 L1635.9,1282.5 L1638.9,1282.7 L1641.9,1282.8 L1644.9,1283.0 L1647.9,1283.1 L1650.9,1283.3 L1653.9,1283.5 L1656.9,1283.6 L1659.9,1283.7 L1662.9,1283.9 L1665.9,1284.0 L1668.9,1284.2 L1671.9,1284.3 L1674.9,1284.4 L1675.0,1284.0 L1675.0,1322.0 L1668.2,1320.5 L1665.7,1319.2 L1663.1,1317.9 L1660.4,1316.6 L1657.7,1315.5 L1654.9,1314.4 L1652.1,1313.3 L1649.3,1312.3 L1646.5,1311.3 L1643.6,1310.4 L1640.7,1309.6 L1637.8,1308.7 L1634.9,1307.9 L1631.9,1307.1 L1629.0,1306.4 L1626.0,1305.7 L1623.1,1305.0 L1620.1,1304.3 L1617.2,1303.6 L1614.2,1303.0 L1611.3,1302.4 L1608.4,1301.7 L1605.4,1301.2 L1602.5,1300.6 L1599.5,1300.0 L1596.6,1299.5 L1593.6,1298.9 L1590.7,1298.4 L1587.7,1297.9 L1584.8,1297.4 L1581.8,1296.9 L1578.9,1296.4 L1575.9,1295.9 L1573.0,1295.5 L1570.0,1295.0 L1567.1,1294.6 L1564.1,1294.1 L1561.2,1293.7 L1558.2,1293.3 L1555.2,1292.8 L1552.3,1292.4 L1549.3,1292.0 L1546.3,1291.6 L1543.4,1291.2 L1540.4,1290.8 L1537.4,1290.4 L1534.5,1290.0 L1531.5,1289.6 L1528.5,1289.2 L1525.5,1288.8 L1522.6,1288.5 L1519.6,1288.1 L1516.6,1287.7 L1513.6,1287.4 L1510.6,1287.0 L1507.7,1286.6 L1504.7,1286.3 L1501.7,1285.9 L1498.7,1285.6 L1495.7,1285.2 L1492.7,1284.9 L1489.8,1284.5 L1486.8,1284.2 L1483.8,1283.9 L1480.8,1283.5 L1477.8,1283.2 L1474.8,1282.8 L1471.8,1282.5 L1468.8,1282.2 L1465.8,1281.8 L1462.9,1281.5 L1459.9,1281.2 L1456.9,1280.9 L1453.9,1280.5 L1450.9,1280.2 L1447.9,1279.9 L1444.9,1279.5 L1441.9,1279.2 L1438.9,1278.9 L1435.9,1278.6 L1432.9,1278.2 L1429.9,1277.9 L1426.9,1277.6 L1424.0,1277.2 L1421.0,1276.9 L1418.0,1276.6 L1415.0,1276.2 L1412.0,1275.9 L1409.0,1275.6 L1406.0,1275.2 L1403.0,1274.9 L1400.0,1274.6 L1397.0,1274.2 L1394.0,1273.9 L1391.1,1273.5 L1388.1,1273.2 L1385.1,1272.8 L1382.1,1272.5 L1379.1,1272.1 L1376.1,1271.7 L1373.1,1271.4 L1370.2,1271.0 L1367.2,1270.7 L1364.2,1270.3 L1361.2,1269.9 L1358.2,1269.6 L1355.2,1269.2 L1352.3,1268.8 L1349.3,1268.4 L1346.3,1268.0 L1343.3,1267.7 L1340.3,1267.3 L1337.4,1266.9 L1334.4,1266.5 L1331.4,1266.1 L1328.4,1265.7 L1325.4,1265.3 L1322.5,1265.0 L1319.5,1264.6 L1316.5,1264.2 L1313.5,1263.8 L1310.5,1263.4 L1307.6,1263.0 L1304.6,1262.6 L1301.6,1262.1 L1298.6,1261.7 L1295.7,1261.3 L1292.7,1260.9 L1289.7,1260.5 L1286.7,1260.1 L1283.8,1259.7 L1280.8,1259.3 L1277.8,1258.8 L1274.8,1258.4 L1271.9,1258.0 L1268.9,1257.6 L1265.9,1257.1 L1263.0,1256.7 L1260.0,1256.3 L1257.0,1255.8 L1254.0,1255.4 L1251.1,1255.0 L1248.1,1254.5 L1245.1,1254.1 L1242.2,1253.7 L1239.2,1253.2 L1236.2,1252.8 L1233.2,1252.3 L1230.3,1251.9 L1227.3,1251.4 L1224.3,1251.0 L1221.4,1250.5 L1218.4,1250.1 L1215.4,1249.6 L1212.5,1249.2 L1209.5,1248.7 L1206.5,1248.2 L1203.6,1247.8 L1200.6,1247.3 L1197.6,1246.9 L1194.7,1246.4 L1191.7,1245.9 L1188.7,1245.5 L1185.8,1245.0 L1182.8,1244.5 L1179.8,1244.0 L1176.9,1243.6 L1173.9,1243.1 L1170.9,1242.6 L1168.0,1242.1 L1165.0,1241.7 L1162.0,1241.2 L1159.1,1240.7 L1156.1,1240.2 L1153.1,1239.7 L1150.2,1239.3 L1147.2,1238.8 L1144.2,1238.3 L1141.3,1237.8 L1138.3,1237.3 L1135.3,1236.8 L1132.4,1236.3 L1129.4,1235.8 L1126.4,1235.3 L1123.5,1234.8 L1120.5,1234.3 L1117.5,1233.8 L1114.6,1233.3 L1111.6,1232.8 L1108.6,1232.3 L1105.7,1231.8 L1102.7,1231.3 L1099.7,1230.8 L1096.8,1230.3 L1093.8,1229.8 L1090.8,1229.3 L1087.9,1228.8 L1084.9,1228.3 L1081.9,1227.7 L1079.0,1227.2 L1076.0,1226.7 L1073.0,1226.2 L1070.1,1225.7 L1067.1,1225.1 L1064.2,1224.6 L1061.2,1224.1 L1058.2,1223.5 L1055.3,1223.0 L1052.3,1222.5 L1049.3,1221.9 L1046.4,1221.4 L1043.4,1220.8 L1040.5,1220.3 L1037.5,1219.7 L1034.5,1219.2 L1031.6,1218.6 L1028.6,1218.1 L1025.7,1217.5 L1022.7,1216.9 L1019.8,1216.4 L1016.8,1215.8 L1013.9,1215.2 L1010.9,1214.6 L1008.0,1214.0 L1005.0,1213.4 L1002.1,1212.8 L999.1,1212.2 L996.2,1211.6 L993.2,1211.0 L990.3,1210.4 L987.3,1209.8 L984.4,1209.1 L981.5,1208.5 L978.5,1207.9 L975.6,1207.2 L972.7,1206.6 L969.7,1205.9 L966.8,1205.3 L963.9,1204.6 L960.9,1203.9 L958.0,1203.2 L955.1,1202.6 L952.2,1201.9 L949.2,1201.2 L946.3,1200.5 L943.4,1199.8 L940.5,1199.0 L937.6,1198.3 L934.7,1197.6 L931.8,1196.9 L928.8,1196.1 L925.9,1195.4 L923.0,1194.6 L920.1,1193.8 L917.2,1193.1 L914.3,1192.3 L911.4,1191.5 L908.5,1190.7 L905.7,1189.9 L902.8,1189.1 L899.9,1188.3 L897.0,1187.5 L894.1,1186.6 L891.2,1185.8 L888.4,1184.9 L885.5,1184.1 L882.6,1183.2 L879.7,1182.3 L876.9,1181.4 L874.0,1180.5 L871.2,1179.6 L868.3,1178.7 L865.4,1177.8 L862.6,1176.9 L859.7,1175.9 L856.9,1175.0 L854.1,1174.0 L851.2,1173.0 L848.4,1172.1 L845.5,1171.1 L842.7,1170.1 L839.9,1169.1 L837.1,1168.0 L834.2,1167.0 L831.4,1166.0 L828.6,1164.9 L825.8,1163.9 L823.0,1162.8 L820.2,1161.7 L817.4,1160.7 L814.6,1159.6 L811.8,1158.5 L808.9,1157.4 L806.1,1156.3 L803.3,1155.2 L800.5,1154.1 L797.7,1153.0 L794.9,1151.9 L792.1,1150.8 L789.3,1149.7 L786.5,1148.6 L783.7,1147.5 L780.9,1146.4 L778.1,1145.3 L775.3,1144.2 L772.5,1143.1 L769.7,1142.0 L766.9,1140.9 L764.1,1139.8 L761.2,1138.7 L758.4,1137.6 L755.6,1136.6 L752.8,1135.5 L749.9,1134.4 L747.1,1133.4 L744.3,1132.3 L741.5,1131.3 L738.6,1130.2 L735.8,1129.1 L733.0,1128.1 L730.2,1127.0 L727.4,1125.9 L724.6,1124.8 L721.8,1123.7 L719.0,1122.6 L716.2,1121.5 L713.5,1120.3 L710.7,1119.2 L707.9,1118.0 L705.2,1116.8 L702.5,1115.6 L699.8,1114.3 L697.0,1113.1 L694.4,1111.8 L691.7,1110.5 L689.0,1109.2 L686.3,1107.9 L683.7,1106.5 L681.0,1105.2 L678.4,1103.8 L675.8,1102.4 L673.1,1101.0 L670.5,1099.6 L667.9,1098.2 L665.3,1096.7 L662.6,1095.3 L660.0,1093.8 L657.4,1092.4 L654.8,1090.9 L652.2,1089.5 L649.5,1088.0 L646.9,1086.6 L644.3,1085.1 L641.6,1083.7 L639.0,1082.2 L636.4,1080.7 L633.7,1079.3 L631.1,1077.8 L628.5,1076.3 L625.8,1074.9 L623.2,1073.4 L620.5,1071.9 L617.9,1070.4 L615.3,1068.9 L612.7,1067.4 L610.1,1065.8 L607.4,1064.3 L604.8,1062.8 L602.2,1061.2 L599.6,1059.7 L597.0,1058.1 L594.5,1056.5 L591.9,1055.0 L589.3,1053.4 L586.8,1051.7 L584.2,1050.1 L581.7,1048.5 L579.2,1046.8 L576.6,1045.2 L574.1,1043.5 L571.6,1041.8 L569.2,1040.1 L566.7,1038.4 L564.3,1036.6 L561.8,1034.9 L559.4,1033.1 L557.0,1031.3 L554.6,1029.5 L552.2,1027.6 L549.9,1025.8 L547.5,1023.9 L545.2,1022.0 L542.9,1020.1 L540.6,1018.2 L538.4,1016.2 L536.1,1014.2 L533.9,1012.2 L531.7,1010.2 L529.5,1008.2 L527.4,1006.1 L525.2,1004.0 L523.1,1001.9 L521.0,999.8 L518.9,997.7 L516.8,995.5 L514.7,993.3 L512.7,991.2 L510.7,989.0 L508.6,986.7 L506.6,984.5 L504.6,982.3 L502.6,980.0 L500.7,977.8 L498.7,975.5 L496.8,973.2 L494.8,970.9 L492.9,968.6 L491.0,966.3 L489.1,964.0 L487.2,961.6 L485.3,959.3 L483.4,957.0 L481.5,954.6 L479.6,952.3 L477.8,949.9 L475.9,947.5 L474.0,945.2 L472.2,942.8 L470.3,940.4 L468.5,938.1 L466.7,935.7 L464.8,933.3 L463.0,930.9 L461.2,928.5 L459.3,926.2 L457.5,923.8 L455.7,921.4 L453.9,919.0 L452.1,916.6 L450.3,914.2 L448.5,911.8 L446.7,909.4 L444.9,907.0 L443.1,904.6 L441.3,902.2 L439.5,899.7 L437.8,897.3 L436.0,894.9 L434.2,892.5 L432.4,890.1 L430.7,887.6 L428.9,885.2 L427.2,882.8 L425.4,880.3 L423.6,877.9 L421.9,875.5 L420.1,873.0 Z" fill="url(#hb)"/>
<path d="M185.7,657.3 L186.3,660.1 L186.9,662.9 L187.5,665.7 L188.0,668.6 L188.6,671.4 L189.2,674.2 L189.8,677.0 L190.3,679.9 L190.9,682.7 L191.5,685.6 L192.1,688.4 L192.6,691.3 L193.2,694.1 L193.8,697.0 L194.3,699.9 L194.9,702.7 L195.5,705.6 L196.0,708.5 L196.6,711.4 L197.2,714.3 L197.8,717.2 L198.3,720.1 L198.9,723.0 L199.5,725.9 L200.0,728.8 L200.6,731.7 L201.2,734.6 L201.8,737.6 L202.4,740.5 L202.9,743.4 L203.5,746.4 L204.1,749.3 L204.7,752.2 L205.3,755.2 L205.9,758.1 L206.5,761.0 L207.1,764.0 L207.7,766.9 L208.3,769.9 L208.9,772.8 L209.5,775.8 L210.2,778.7 L210.8,781.7 L211.4,784.7 L212.0,787.6 L212.7,790.6 L213.3,793.5 L213.9,796.5 L214.6,799.4 L215.2,802.4 L215.9,805.4 L216.6,808.3 L217.2,811.3 L217.9,814.3 L218.6,817.2 L219.3,820.2 L220.0,823.2 L220.6,826.1 L221.3,829.1 L222.1,832.0 L222.8,835.0 L223.5,838.0 L224.2,840.9 L224.9,843.9 L225.7,846.8 L226.4,849.8 L227.2,852.7 L227.9,855.7 L228.7,858.7 L229.5,861.6 L230.3,864.5 L231.1,867.5 L231.9,870.4 L232.7,873.4 L233.5,876.3 L234.3,879.3 L235.1,882.2 L236.0,885.1 L236.8,888.1 L237.7,891.0 L238.5,893.9 L239.4,896.8 L240.3,899.7 L241.2,902.7 L242.1,905.6 L243.0,908.5 L243.9,911.4 L244.9,914.3 L245.8,917.2 L246.8,920.1 L247.7,923.0 L248.7,925.9 L249.7,928.7 L250.7,931.6 L251.7,934.5 L252.7,937.3 L253.8,940.2 L254.8,943.1 L255.9,945.9 L256.9,948.8 L258.0,951.6 L259.1,954.4 L260.2,957.3 L261.3,960.1 L262.4,962.9 L263.6,965.7 L264.7,968.5 L265.9,971.3 L267.1,974.1 L268.2,976.9 L269.4,979.7 L270.7,982.5 L271.9,985.2 L273.1,988.0 L274.4,990.8 L275.6,993.5 L276.9,996.3 L278.2,999.0 L279.5,1001.7 L280.8,1004.4 L282.2,1007.1 L283.5,1009.8 L284.9,1012.5 L286.2,1015.2 L287.6,1017.9 L289.0,1020.6 L290.4,1023.2 L291.9,1025.9 L293.3,1028.5 L294.8,1031.1 L296.2,1033.7 L297.7,1036.4 L299.2,1039.0 L300.7,1041.6 L302.2,1044.1 L303.8,1046.7 L305.3,1049.3 L306.9,1051.8 L308.5,1054.4 L310.1,1056.9 L311.7,1059.4 L313.3,1061.9 L314.9,1064.4 L316.6,1066.9 L318.3,1069.4 L320.0,1071.8 L321.7,1074.3 L323.4,1076.7 L325.1,1079.1 L326.8,1081.5 L328.6,1083.9 L330.4,1086.3 L332.2,1088.7 L334.0,1091.1 L335.8,1093.4 L337.6,1095.8 L339.5,1098.1 L341.3,1100.4 L343.2,1102.7 L345.1,1105.0 L347.0,1107.3 L348.9,1109.5 L350.9,1111.8 L352.8,1114.0 L354.8,1116.2 L356.8,1118.4 L358.8,1120.6 L360.8,1122.8 L362.8,1124.9 L364.9,1127.1 L366.9,1129.2 L369.0,1131.3 L371.1,1133.4 L373.2,1135.5 L375.3,1137.6 L377.4,1139.7 L379.5,1141.7 L381.7,1143.8 L383.9,1145.8 L386.0,1147.8 L388.2,1149.8 L390.4,1151.8 L392.6,1153.7 L394.9,1155.7 L397.1,1157.6 L399.4,1159.5 L401.6,1161.4 L403.9,1163.3 L406.2,1165.2 L408.5,1167.1 L410.8,1168.9 L413.2,1170.7 L415.5,1172.6 L417.9,1174.4 L420.2,1176.1 L422.6,1177.9 L425.0,1179.7 L427.4,1181.4 L429.8,1183.1 L432.2,1184.8 L434.7,1186.5 L437.1,1188.2 L439.6,1189.9 L442.1,1191.5 L444.5,1193.1 L447.0,1194.8 L449.5,1196.4 L452.0,1197.9 L454.6,1199.5 L457.1,1201.0 L459.7,1202.6 L462.2,1204.1 L464.8,1205.6 L467.4,1207.1 L469.9,1208.6 L472.5,1210.0 L475.2,1211.5 L477.8,1212.9 L480.4,1214.3 L483.0,1215.7 L485.7,1217.1 L488.3,1218.4 L491.0,1219.8 L493.7,1221.1 L496.3,1222.5 L499.0,1223.8 L501.7,1225.1 L504.4,1226.4 L507.2,1227.6 L509.9,1228.9 L512.6,1230.1 L515.3,1231.4 L518.1,1232.6 L520.8,1233.8 L523.6,1235.0 L526.4,1236.1 L529.1,1237.3 L531.9,1238.5 L534.7,1239.6 L537.5,1240.7 L540.3,1241.8 L543.1,1242.9 L545.9,1244.0 L548.7,1245.1 L551.6,1246.2 L554.4,1247.2 L557.2,1248.3 L560.1,1249.3 L562.9,1250.3 L565.8,1251.3 L568.7,1252.3 L571.5,1253.3 L574.4,1254.3 L577.3,1255.2 L580.1,1256.2 L583.0,1257.1 L585.9,1258.1 L588.8,1259.0 L591.7,1259.9 L594.6,1260.8 L597.5,1261.7 L600.4,1262.6 L603.3,1263.4 L606.2,1264.3 L609.2,1265.2 L612.1,1266.0 L615.0,1266.8 L617.9,1267.7 L620.9,1268.5 L623.8,1269.3 L626.7,1270.1 L629.7,1270.9 L632.6,1271.6 L635.5,1272.4 L638.5,1273.2 L641.4,1273.9 L644.4,1274.7 L647.3,1275.4 L650.3,1276.1 L653.2,1276.8 L656.2,1277.6 L659.1,1278.3 L662.1,1279.0 L665.1,1279.6 L668.0,1280.3 L671.0,1281.0 L673.9,1281.7 L676.9,1282.3 L679.8,1283.0 L682.8,1283.6 L685.8,1284.3 L688.7,1284.9 L691.7,1285.5 L694.7,1286.1 L697.6,1286.7 L700.6,1287.3 L703.6,1287.9 L706.5,1288.5 L709.5,1289.1 L712.5,1289.7 L715.4,1290.3 L718.4,1290.8 L721.4,1291.4 L724.4,1291.9 L727.3,1292.5 L730.3,1293.0 L733.3,1293.6 L736.3,1294.1 L739.2,1294.6 L742.2,1295.1 L745.2,1295.6 L748.2,1296.1 L751.2,1296.6 L754.1,1297.1 L757.1,1297.6 L760.1,1298.1 L763.1,1298.6 L766.1,1299.0 L769.1,1299.5 L772.0,1299.9 L775.0,1300.4 L778.0,1300.9 L781.0,1301.3 L784.0,1301.7 L787.0,1302.2 L789.9,1302.6 L792.9,1303.0 L795.9,1303.4 L798.9,1303.9 L801.9,1304.3 L804.9,1304.7 L807.9,1305.1 L810.9,1305.5 L813.9,1305.9 L816.9,1306.2 L819.8,1306.6 L822.8,1307.0 L825.8,1307.4 L828.8,1307.8 L831.8,1308.1 L834.8,1308.5 L837.8,1308.9 L840.8,1309.2 L843.8,1309.6 L846.8,1309.9 L849.8,1310.3 L852.8,1310.6 L855.8,1310.9 L858.8,1311.3 L861.7,1311.6 L864.7,1311.9 L867.7,1312.3 L870.7,1312.6 L873.7,1312.9 L876.7,1313.2 L879.7,1313.5 L882.7,1313.8 L885.7,1314.1 L888.7,1314.4 L891.7,1314.7 L894.7,1315.0 L897.7,1315.3 L900.7,1315.6 L903.7,1315.9 L906.7,1316.2 L909.7,1316.5 L912.7,1316.8 L915.7,1317.1 L918.7,1317.4 L921.7,1317.6 L924.7,1317.9 L927.7,1318.2 L930.7,1318.5 L933.7,1318.7 L936.7,1319.0 L939.6,1319.3 L942.6,1319.5 L945.6,1319.8 L948.6,1320.1 L951.6,1320.3 L954.6,1320.6 L957.6,1320.8 L960.6,1321.1 L963.6,1321.4 L966.6,1321.6 L969.6,1321.9 L972.6,1322.1 L975.6,1322.4 L978.6,1322.6 L981.6,1322.9 L984.6,1323.1 L987.6,1323.3 L990.6,1323.6 L993.6,1323.8 L996.6,1324.0 L999.6,1324.3 L1002.5,1324.5 L1005.5,1324.7 L1008.5,1325.0 L1011.5,1325.2 L1014.5,1325.4 L1017.5,1325.7 L1020.5,1325.9 L1023.5,1326.1 L1026.5,1326.3 L1029.5,1326.5 L1032.5,1326.8 L1035.5,1327.0 L1038.5,1327.2 L1041.5,1327.4 L1044.5,1327.6 L1047.5,1327.8 L1050.5,1328.0 L1053.5,1328.2 L1056.5,1328.5 L1059.4,1328.7 L1062.4,1328.9 L1065.4,1329.1 L1068.4,1329.3 L1071.4,1329.5 L1074.4,1329.7 L1077.4,1329.9 L1080.4,1330.0 L1083.4,1330.2 L1086.4,1330.4 L1089.4,1330.6 L1092.4,1330.8 L1095.4,1331.0 L1098.4,1331.2 L1101.4,1331.4 L1104.4,1331.6 L1107.4,1331.7 L1110.4,1331.9 L1113.3,1332.1 L1116.3,1332.3 L1119.3,1332.5 L1122.3,1332.6 L1125.3,1332.8 L1128.3,1333.0 L1131.3,1333.2 L1134.3,1333.3 L1137.3,1333.5 L1140.3,1333.7 L1143.3,1333.8 L1146.3,1334.0 L1149.3,1334.2 L1152.3,1334.3 L1155.3,1334.5 L1158.3,1334.7 L1161.3,1334.8 L1164.3,1335.0 L1167.3,1335.1 L1170.3,1335.3 L1173.2,1335.5 L1176.2,1335.6 L1179.2,1335.8 L1182.2,1335.9 L1185.2,1336.1 L1188.2,1336.2 L1191.2,1336.4 L1194.2,1336.5 L1197.2,1336.7 L1200.2,1336.8 L1203.2,1337.0 L1206.2,1337.1 L1209.2,1337.3 L1212.2,1337.4 L1215.2,1337.6 L1218.2,1337.7 L1221.2,1337.8 L1224.2,1338.0 L1227.2,1338.1 L1230.2,1338.3 L1233.2,1338.4 L1236.2,1338.5 L1239.2,1338.7 L1242.2,1338.8 L1245.2,1338.9 L1248.2,1339.1 L1251.2,1339.2 L1254.2,1339.3 L1257.2,1339.5 L1260.2,1339.6 L1263.2,1339.7 L1266.2,1339.8 L1269.2,1340.0 L1272.2,1340.1 L1275.2,1340.2 L1278.2,1340.3 L1281.2,1340.5 L1284.2,1340.6 L1287.2,1340.7 L1290.2,1340.8 L1293.2,1341.0 L1296.2,1341.1 L1299.2,1341.2 L1302.2,1341.3 L1305.2,1341.4 L1308.2,1341.6 L1311.2,1341.7 L1314.2,1341.8 L1317.2,1341.9 L1320.2,1342.0 L1323.2,1342.1 L1326.2,1342.2 L1329.2,1342.4 L1332.2,1342.5 L1335.2,1342.6 L1338.2,1342.7 L1341.2,1342.8 L1344.2,1342.9 L1347.2,1343.0 L1350.2,1343.1 L1353.2,1343.2 L1356.2,1343.3 L1359.2,1343.4 L1362.2,1343.6 L1365.2,1343.7 L1368.2,1343.8 L1371.2,1343.9 L1374.2,1344.0 L1377.2,1344.1 L1380.2,1344.2 L1383.2,1344.3 L1386.2,1344.4 L1389.2,1344.5 L1392.2,1344.6 L1395.3,1344.7 L1398.3,1344.8 L1401.3,1344.9 L1404.3,1345.0 L1407.3,1345.1 L1410.3,1345.2 L1413.3,1345.3 L1416.3,1345.4 L1419.3,1345.5 L1422.3,1345.6 L1425.3,1345.7 L1428.3,1345.8 L1431.3,1345.9 L1434.3,1346.0 L1437.4,1346.1 L1440.4,1346.2 L1443.4,1346.3 L1446.4,1346.3 L1449.4,1346.4 L1452.4,1346.5 L1455.4,1346.6 L1458.4,1346.7 L1461.4,1346.8 L1464.4,1346.9 L1467.5,1347.0 L1470.5,1347.1 L1473.5,1347.2 L1476.5,1347.3 L1479.5,1347.4 L1482.5,1347.5 L1485.5,1347.6 L1488.5,1347.6 L1491.6,1347.7 L1494.6,1347.8 L1497.6,1347.9 L1500.6,1348.0 L1503.6,1348.1 L1506.6,1348.2 L1509.6,1348.3 L1512.7,1348.4 L1515.7,1348.5 L1518.7,1348.6 L1521.7,1348.6 L1524.7,1348.7 L1527.7,1348.8 L1530.8,1348.9 L1533.8,1349.0 L1536.8,1349.1 L1539.8,1349.2 L1542.8,1349.3 L1545.9,1349.4 L1548.9,1349.5 L1551.9,1349.5 L1554.9,1349.6 L1557.9,1349.7 L1560.9,1349.8 L1564.0,1349.9 L1567.0,1350.0 L1570.0,1350.1 L1573.0,1350.2 L1576.1,1350.3 L1579.1,1350.4 L1582.1,1350.5 L1585.1,1350.5 L1588.1,1350.6 L1591.2,1350.7 L1594.2,1350.8 L1597.2,1350.9 L1600.2,1351.0 L1675.0,1352.0 L1675.0,1355.2 L1672.0,1355.2 L1669.0,1355.1 L1666.0,1355.0 L1663.0,1355.0 L1660.0,1354.9 L1657.0,1354.8 L1654.0,1354.7 L1651.0,1354.7 L1648.0,1354.6 L1645.0,1354.5 L1642.0,1354.5 L1638.9,1354.4 L1635.9,1354.4 L1632.9,1354.3 L1629.9,1354.2 L1626.9,1354.2 L1623.9,1354.1 L1620.9,1354.1 L1617.9,1354.0 L1614.9,1353.9 L1611.9,1353.9 L1608.9,1353.8 L1605.9,1353.8 L1602.9,1353.7 L1599.9,1353.7 L1596.9,1353.6 L1593.9,1353.6 L1590.9,1353.5 L1587.9,1353.5 L1584.9,1353.4 L1581.9,1353.3 L1578.9,1353.3 L1575.9,1353.2 L1572.9,1353.2 L1569.9,1353.2 L1566.8,1353.1 L1563.8,1353.1 L1560.8,1353.0 L1557.8,1353.0 L1554.8,1352.9 L1551.8,1352.9 L1548.8,1352.8 L1545.8,1352.8 L1542.8,1352.7 L1539.8,1352.7 L1536.8,1352.6 L1533.8,1352.6 L1530.8,1352.6 L1527.8,1352.5 L1524.8,1352.5 L1521.8,1352.4 L1518.8,1352.4 L1515.8,1352.3 L1512.8,1352.3 L1509.8,1352.3 L1506.7,1352.2 L1503.7,1352.2 L1500.7,1352.1 L1497.7,1352.1 L1494.7,1352.1 L1491.7,1352.0 L1488.7,1352.0 L1485.7,1351.9 L1482.7,1351.9 L1479.7,1351.9 L1476.7,1351.8 L1473.7,1351.8 L1470.7,1351.7 L1467.7,1351.7 L1464.7,1351.7 L1461.7,1351.6 L1458.7,1351.6 L1455.7,1351.5 L1452.7,1351.5 L1449.7,1351.5 L1446.6,1351.4 L1443.6,1351.4 L1440.6,1351.3 L1437.6,1351.3 L1434.6,1351.3 L1431.6,1351.2 L1428.6,1351.2 L1425.6,1351.2 L1422.6,1351.1 L1419.6,1351.1 L1416.6,1351.0 L1413.6,1351.0 L1410.6,1351.0 L1407.6,1350.9 L1404.6,1350.9 L1401.6,1350.8 L1398.6,1350.8 L1395.6,1350.7 L1392.6,1350.7 L1389.5,1350.7 L1386.5,1350.6 L1383.5,1350.6 L1380.5,1350.5 L1377.5,1350.5 L1374.5,1350.5 L1371.5,1350.4 L1368.5,1350.4 L1365.5,1350.3 L1362.5,1350.3 L1359.5,1350.2 L1356.5,1350.2 L1353.5,1350.1 L1350.5,1350.1 L1347.5,1350.0 L1344.5,1350.0 L1341.5,1350.0 L1338.5,1349.9 L1335.5,1349.9 L1332.5,1349.8 L1329.4,1349.8 L1326.4,1349.7 L1323.4,1349.7 L1320.4,1349.6 L1317.4,1349.6 L1314.4,1349.5 L1311.4,1349.5 L1308.4,1349.4 L1305.4,1349.3 L1302.4,1349.3 L1299.4,1349.2 L1296.4,1349.2 L1293.4,1349.1 L1290.4,1349.1 L1287.4,1349.0 L1284.4,1349.0 L1281.4,1348.9 L1278.4,1348.8 L1275.4,1348.8 L1272.4,1348.7 L1269.4,1348.7 L1266.4,1348.6 L1263.4,1348.5 L1260.3,1348.5 L1257.3,1348.4 L1254.3,1348.3 L1251.3,1348.3 L1248.3,1348.2 L1245.3,1348.1 L1242.3,1348.1 L1239.3,1348.0 L1236.3,1347.9 L1233.3,1347.9 L1230.3,1347.8 L1227.3,1347.7 L1224.3,1347.6 L1221.3,1347.6 L1218.3,1347.5 L1215.3,1347.4 L1212.3,1347.3 L1209.3,1347.3 L1206.3,1347.2 L1203.3,1347.1 L1200.3,1347.0 L1197.3,1346.9 L1194.3,1346.8 L1191.3,1346.8 L1188.3,1346.7 L1185.3,1346.6 L1182.3,1346.5 L1179.3,1346.4 L1176.3,1346.3 L1173.3,1346.2 L1170.3,1346.1 L1167.2,1346.0 L1164.2,1345.9 L1161.2,1345.8 L1158.2,1345.8 L1155.2,1345.7 L1152.2,1345.6 L1149.2,1345.5 L1146.2,1345.4 L1143.2,1345.2 L1140.2,1345.1 L1137.2,1345.0 L1134.2,1344.9 L1131.2,1344.8 L1128.2,1344.7 L1125.2,1344.6 L1122.2,1344.5 L1119.2,1344.4 L1116.2,1344.3 L1113.2,1344.2 L1110.2,1344.1 L1107.2,1343.9 L1104.2,1343.8 L1101.2,1343.7 L1098.2,1343.6 L1095.2,1343.5 L1092.2,1343.4 L1089.2,1343.3 L1086.2,1343.1 L1083.2,1343.0 L1080.2,1342.9 L1077.2,1342.8 L1074.2,1342.7 L1071.2,1342.5 L1068.2,1342.4 L1065.2,1342.3 L1062.2,1342.2 L1059.2,1342.0 L1056.2,1341.9 L1053.2,1341.8 L1050.2,1341.7 L1047.2,1341.6 L1044.2,1341.4 L1041.2,1341.3 L1038.2,1341.2 L1035.2,1341.1 L1032.2,1340.9 L1029.1,1340.8 L1026.1,1340.7 L1023.1,1340.5 L1020.1,1340.4 L1017.1,1340.3 L1014.1,1340.2 L1011.1,1340.0 L1008.1,1339.9 L1005.1,1339.8 L1002.1,1339.7 L999.1,1339.5 L996.1,1339.4 L993.1,1339.3 L990.1,1339.2 L987.1,1339.0 L984.1,1338.9 L981.1,1338.8 L978.1,1338.6 L975.1,1338.5 L972.1,1338.4 L969.1,1338.3 L966.1,1338.1 L963.0,1338.0 L960.0,1337.9 L957.0,1337.8 L954.0,1337.6 L951.0,1337.5 L948.0,1337.4 L945.0,1337.3 L942.0,1337.1 L939.0,1337.0 L936.0,1336.9 L933.0,1336.8 L930.0,1336.6 L927.0,1336.5 L924.0,1336.4 L921.0,1336.2 L918.0,1336.1 L915.0,1336.0 L911.9,1335.9 L908.9,1335.7 L905.9,1335.6 L902.9,1335.5 L899.9,1335.3 L896.9,1335.2 L893.9,1335.1 L890.9,1334.9 L887.9,1334.8 L884.9,1334.7 L881.9,1334.5 L878.9,1334.4 L875.9,1334.3 L872.9,1334.1 L869.9,1334.0 L866.9,1333.8 L863.9,1333.7 L860.9,1333.6 L857.9,1333.4 L854.9,1333.3 L851.9,1333.1 L848.9,1333.0 L845.9,1332.8 L842.9,1332.7 L839.9,1332.5 L836.9,1332.4 L833.9,1332.2 L830.9,1332.1 L827.9,1331.9 L825.0,1331.8 L822.0,1331.6 L819.0,1331.5 L816.0,1331.3 L813.0,1331.1 L810.0,1331.0 L807.0,1330.8 L804.0,1330.6 L801.0,1330.5 L798.0,1330.3 L795.0,1330.1 L792.0,1329.9 L789.1,1329.7 L786.1,1329.6 L783.1,1329.4 L780.1,1329.2 L777.1,1329.0 L774.1,1328.8 L771.1,1328.6 L768.1,1328.4 L765.1,1328.2 L762.1,1328.0 L759.1,1327.8 L756.2,1327.5 L753.2,1327.3 L750.2,1327.1 L747.2,1326.9 L744.2,1326.6 L741.2,1326.4 L738.2,1326.2 L735.2,1325.9 L732.2,1325.7 L729.2,1325.4 L726.2,1325.2 L723.2,1324.9 L720.2,1324.6 L717.2,1324.4 L714.2,1324.1 L711.2,1323.8 L708.2,1323.5 L705.2,1323.2 L702.2,1323.0 L699.2,1322.7 L696.2,1322.3 L693.2,1322.0 L690.2,1321.7 L687.2,1321.4 L684.2,1321.1 L681.2,1320.7 L678.2,1320.4 L675.3,1320.0 L672.3,1319.7 L669.3,1319.3 L666.3,1318.9 L663.3,1318.6 L660.3,1318.2 L657.3,1317.8 L654.3,1317.4 L651.3,1316.9 L648.3,1316.5 L645.4,1316.1 L642.4,1315.6 L639.4,1315.2 L636.4,1314.7 L633.5,1314.2 L630.5,1313.7 L627.5,1313.2 L624.5,1312.7 L621.6,1312.2 L618.6,1311.7 L615.7,1311.1 L612.7,1310.6 L609.8,1310.0 L606.8,1309.4 L603.9,1308.8 L600.9,1308.2 L598.0,1307.6 L595.1,1307.0 L592.2,1306.3 L589.2,1305.7 L586.3,1305.0 L583.4,1304.3 L580.5,1303.6 L577.6,1302.9 L574.7,1302.2 L571.8,1301.5 L568.9,1300.7 L566.0,1300.0 L563.1,1299.2 L560.2,1298.4 L557.3,1297.6 L554.4,1296.9 L551.5,1296.1 L548.6,1295.2 L545.8,1294.4 L542.9,1293.6 L540.0,1292.8 L537.1,1291.9 L534.3,1291.0 L531.4,1290.2 L528.5,1289.3 L525.7,1288.4 L522.8,1287.5 L519.9,1286.6 L517.1,1285.7 L514.2,1284.8 L511.4,1283.9 L508.5,1283.0 L505.7,1282.1 L502.8,1281.1 L499.9,1280.2 L497.1,1279.2 L494.2,1278.3 L491.4,1277.3 L488.6,1276.3 L485.7,1275.4 L482.9,1274.4 L480.0,1273.4 L477.2,1272.4 L474.3,1271.4 L471.5,1270.4 L468.6,1269.4 L465.8,1268.4 L463.0,1267.4 L460.1,1266.4 L457.3,1265.4 L454.4,1264.3 L451.6,1263.3 L448.7,1262.3 L445.9,1261.3 L443.1,1260.2 L440.2,1259.2 L437.4,1258.1 L434.6,1257.1 L431.7,1256.0 L428.9,1254.9 L426.1,1253.8 L423.4,1252.6 L420.6,1251.5 L417.8,1250.3 L415.1,1249.1 L412.4,1247.8 L409.7,1246.5 L407.0,1245.2 L404.4,1243.8 L401.7,1242.4 L399.1,1241.0 L396.6,1239.5 L394.0,1238.0 L391.5,1236.4 L389.0,1234.8 L386.5,1233.1 L384.1,1231.5 L381.6,1229.8 L379.2,1228.0 L376.8,1226.3 L374.4,1224.5 L372.1,1222.7 L369.7,1220.8 L367.3,1219.0 L365.0,1217.1 L362.7,1215.2 L360.3,1213.3 L358.0,1211.4 L355.7,1209.5 L353.4,1207.5 L351.1,1205.6 L348.8,1203.7 L346.5,1201.7 L344.1,1199.8 L341.8,1197.8 L339.5,1195.9 L337.2,1193.9 L334.9,1191.9 L332.6,1189.9 L330.4,1187.9 L328.1,1185.9 L325.9,1183.9 L323.6,1181.9 L321.5,1179.8 L319.3,1177.7 L317.1,1175.6 L315.0,1173.5 L312.9,1171.4 L310.9,1169.2 L308.9,1167.0 L306.9,1164.8 L304.9,1162.5 L302.9,1160.3 L301.0,1158.0 L299.1,1155.7 L297.2,1153.4 L295.4,1151.1 L293.5,1148.7 L291.7,1146.4 L289.9,1144.0 L288.1,1141.6 L286.3,1139.2 L284.5,1136.8 L282.8,1134.4 L281.0,1132.0 L279.3,1129.5 L277.5,1127.1 L275.8,1124.6 L274.1,1122.2 L272.4,1119.7 L270.7,1117.2 L268.9,1114.7 L267.2,1112.2 L265.5,1109.8 L263.8,1107.3 L262.2,1104.8 L260.5,1102.3 L258.8,1099.8 L257.2,1097.2 L255.5,1094.7 L253.9,1092.2 L252.3,1089.7 L250.7,1087.2 L249.2,1084.6 L247.7,1082.1 L246.2,1079.5 L244.8,1076.9 L243.6,1074.2 L242.4,1071.5 L241.3,1068.7 L240.3,1065.9 L239.4,1063.1 L238.4,1060.2 L237.6,1057.3 L236.8,1054.4 L236.0,1051.5 L235.2,1048.6 L234.4,1045.7 L233.6,1042.8 L232.8,1039.9 L232.0,1037.0 L231.2,1034.1 L230.4,1031.2 L229.6,1028.3 L228.8,1025.4 L228.0,1022.5 L227.2,1019.6 L226.4,1016.7 L225.6,1013.8 L224.8,1011.0 L223.9,1008.1 L223.1,1005.2 L222.3,1002.3 L221.4,999.4 L220.6,996.6 L219.7,993.7 L218.9,990.8 L218.0,988.0 L217.2,985.1 L216.3,982.2 L215.4,979.3 L214.6,976.5 L213.7,973.6 L212.8,970.7 L211.9,967.9 L211.0,965.0 L210.1,962.1 L209.2,959.3 L208.3,956.4 L207.4,953.5 L206.5,950.7 L205.6,947.8 L204.7,944.9 L203.8,942.1 L202.9,939.2 L202.0,936.3 L201.1,933.5 L200.2,930.6 L199.3,927.7 L198.4,924.8 L197.5,922.0 L196.6,919.1 L195.7,916.2 L194.9,913.3 L194.0,910.4 L193.1,907.6 L192.3,904.7 L191.4,901.8 L190.6,898.9 L189.8,896.0 L189.0,893.1 L188.2,890.2 L187.4,887.3 L186.6,884.4 L185.8,881.5 L185.1,878.6 L184.3,875.7 L183.6,872.8 L182.9,869.9 L182.2,867.0 L181.5,864.0 L180.8,861.1 L180.2,858.2 L179.5,855.3 L178.9,852.3 L178.3,849.4 L177.7,846.4 L177.2,843.5 L176.6,840.6 L176.1,837.6 L175.5,834.7 L175.0,831.7 L174.5,828.8 L174.0,825.8 L173.5,822.8 L173.0,819.9 L172.6,816.9 L172.1,814.0 L171.7,811.0 L171.3,808.0 L170.8,805.0 L170.4,802.1 L170.0,799.1 L169.6,796.1 L169.2,793.1 L168.8,790.2 L168.5,787.2 L168.1,784.2 L167.7,781.2 L167.4,778.2 L167.0,775.3 L166.7,772.3 L166.3,769.3 L166.0,766.3 L165.6,763.3 L165.3,760.3 L165.0,757.3 L164.6,754.3 L164.3,751.4 L164.0,748.4 L163.6,745.4 L163.3,742.4 L163.0,739.4 L162.7,736.4 L162.3,733.4 L162.0,730.4 L161.7,727.4 L161.3,724.5 L161.0,721.5 L160.7,718.5 L160.3,715.5 L160.0,712.5 L159.6,709.5 L159.3,706.5 L158.9,703.5 L158.6,700.6 L158.2,697.6 L157.8,694.6 L157.4,691.6 L157.0,688.6 L156.6,685.7 L156.2,682.7 L155.8,679.7 L155.4,676.7 L155.0,673.8 L154.5,670.8 L154.1,667.8 L153.6,664.9 L153.1,661.9 L152.7,659.0 L152.2,656.0 Z" fill="url(#hm)"/>
<path d="M152,1364.5 L1668,1364.5" stroke="#111" stroke-width="3.4" fill="none"/>
<path d="M152,1361.5 L1668,1361.5" stroke="#999" stroke-width="1.2" fill="none"/>
<path d="M153.3,1034.1 L154.1,1037.3 L154.8,1040.5 L155.7,1043.7 L156.5,1046.9 L157.3,1050.0 L158.2,1053.2 L159.2,1056.3 L160.1,1059.4 L161.1,1062.4 L162.1,1065.5 L163.1,1068.5 L164.2,1071.5 L165.3,1074.5 L166.4,1077.4 L167.6,1080.4 L168.8,1083.3 L170.0,1086.2 L171.2,1089.1 L172.5,1091.9 L173.8,1094.7 L175.1,1097.6 L176.4,1100.3 L177.8,1103.1 L179.2,1105.8 L180.6,1108.6 L182.0,1111.3 L183.5,1114.0 L185.0,1116.6 L186.5,1119.3 L188.1,1121.9 L189.7,1124.5 L191.3,1127.0 L192.9,1129.6 L194.5,1132.1 L196.2,1134.6 L197.9,1137.1 L199.6,1139.6 L201.3,1142.0 L203.1,1144.5 L204.9,1146.9 L206.7,1149.3 L208.5,1151.6 L210.4,1154.0 L212.2,1156.3 L214.1,1158.6 L216.0,1160.9 L218.0,1163.1 L219.9,1165.3 L221.9,1167.6 L223.9,1169.8 L225.9,1171.9 L228.0,1174.1 L230.0,1176.2 L232.1,1178.3 L234.2,1180.4 L236.3,1182.5 L238.5,1184.5 L240.6,1186.5 L242.8,1188.5 L245.0,1190.5 L247.2,1192.5 L249.4,1194.4 L251.7,1196.3 L254.0,1198.2 L256.2,1200.1 L258.5,1202.0 L260.9,1203.8 L263.2,1205.6 L265.5,1207.4 L267.9,1209.2 L270.3,1210.9 L272.7,1212.6 L275.1,1214.3 L277.5,1216.0 L280.0,1217.7 L282.4,1219.3 L284.9,1221.0 L287.4,1222.6 L289.9,1224.1 L292.4,1225.7 L295.0,1227.2 L297.5,1228.8 L300.1,1230.2 L302.6,1231.7 L305.2,1233.2 L307.8,1234.6 L310.4,1236.0 L313.1,1237.4 L315.7,1238.8 L318.4,1240.1 L321.0,1241.5 L323.7,1242.8 L326.4,1244.1 L329.1,1245.3 L331.8,1246.6 L334.5,1247.8 L337.2,1249.1 L340.0,1250.3 L342.7,1251.4 L345.5,1252.6 L348.2,1253.8 L351.0,1254.9 L353.8,1256.0 L356.6,1257.1 L359.4,1258.2 L362.2,1259.3 L365.0,1260.3 L367.8,1261.4 L370.7,1262.4 L373.5,1263.4 L376.3,1264.4 L379.2,1265.4 L382.1,1266.3 L384.9,1267.3 L387.8,1268.2 L390.7,1269.2 L393.6,1270.1 L396.5,1271.0 L399.3,1271.9 L402.2,1272.8 L405.2,1273.6 L408.1,1274.5 L411.0,1275.3 L413.9,1276.2 L416.8,1277.0 L419.7,1277.8 L422.7,1278.6 L425.6,1279.4 L428.5,1280.2 L431.5,1281.0 L434.4,1281.7 L437.4,1282.5 L440.3,1283.2 L443.2,1284.0 L446.2,1284.7 L449.1,1285.5 L452.1,1286.2 L455.0,1286.9 L458.0,1287.6 L460.9,1288.3 L463.9,1289.0 L466.8,1289.7 L469.8,1290.4 L472.8,1291.0 L475.7,1291.7 L478.7,1292.4 L481.6,1293.0 L484.6,1293.7 L487.5,1294.3 L490.5,1295.0 L493.5,1295.6 L496.4,1296.2 L499.4,1296.8 L502.4,1297.4 L505.3,1298.0 L508.3,1298.6 L511.3,1299.2 L514.2,1299.8 L517.2,1300.4 L520.2,1301.0 L523.1,1301.5 L526.1,1302.1 L529.1,1302.6 L532.0,1303.2 L535.0,1303.7 L538.0,1304.3 L541.0,1304.8 L543.9,1305.3 L546.9,1305.9 L549.9,1306.4 L552.9,1306.9 L555.9,1307.4 L558.8,1307.9 L561.8,1308.4 L564.8,1308.9 L567.8,1309.3 L570.8,1309.8 L573.7,1310.3 L576.7,1310.7 L579.7,1311.2 L582.7,1311.7 L585.7,1312.1 L588.7,1312.6 L591.6,1313.0 L594.6,1313.4 L597.6,1313.9 L600.6,1314.3 L603.6,1314.7 L606.6,1315.1 L609.6,1315.5 L612.6,1315.9 L615.6,1316.3 L618.5,1316.7 L621.5,1317.1 L624.5,1317.5 L627.5,1317.9 L630.5,1318.3 L633.5,1318.6 L636.5,1319.0 L639.5,1319.4 L642.5,1319.7 L645.5,1320.1 L648.5,1320.4 L651.5,1320.8 L654.5,1321.1 L657.5,1321.4 L660.5,1321.8 L663.5,1322.1 L666.5,1322.4 L669.5,1322.7 L672.5,1323.1 L675.5,1323.4 L678.5,1323.7 L681.5,1324.0 L684.5,1324.3 L687.5,1324.6 L690.5,1324.9 L693.5,1325.2 L696.5,1325.5 L699.5,1325.7 L702.5,1326.0 L705.5,1326.3 L708.5,1326.6 L711.5,1326.8 L714.5,1327.1 L717.5,1327.4 L720.5,1327.6 L723.5,1327.9 L726.6,1328.1 L729.6,1328.4 L732.6,1328.6 L735.6,1328.9 L738.6,1329.1 L741.6,1329.3 L744.6,1329.6 L747.6,1329.8 L750.6,1330.0 L753.6,1330.2 L756.6,1330.5 L759.7,1330.7 L762.7,1330.9 L765.7,1331.1 L768.7,1331.3 L771.7,1331.5 L774.7,1331.7 L777.7,1331.9 L780.7,1332.1 L783.7,1332.3 L786.8,1332.5 L789.8,1332.7 L792.8,1332.9 L795.8,1333.1 L798.8,1333.3 L801.8,1333.4 L804.8,1333.6 L807.8,1333.8 L810.9,1334.0 L813.9,1334.1 L816.9,1334.3 L819.9,1334.5 L822.9,1334.6 L825.9,1334.8 L828.9,1335.0 L832.0,1335.1 L835.0,1335.3 L838.0,1335.4 L841.0,1335.6 L844.0,1335.8 L847.0,1335.9 L850.0,1336.1 L853.1,1336.2 L856.1,1336.4 L859.1,1336.5 L862.1,1336.6 L865.1,1336.8 L868.1,1336.9 L871.2,1337.1 L874.2,1337.2 L877.2,1337.3 L880.2,1337.5 L883.2,1337.6 L886.2,1337.7 L889.2,1337.9 L892.3,1338.0 L895.3,1338.1 L898.3,1338.3 L901.3,1338.4 L904.3,1338.5 L907.3,1338.6 L910.3,1338.8 L913.4,1338.9 L916.4,1339.0 L919.4,1339.1 L922.4,1339.3 L925.4,1339.4 L928.4,1339.5 L931.4,1339.6 L934.5,1339.8 L937.5,1339.9 L940.5,1340.0 L943.5,1340.1 L946.5,1340.2 L949.5,1340.3 L952.5,1340.5 L955.5,1340.6 L958.6,1340.7 L961.6,1340.8 L964.6,1340.9 L967.6,1341.1 L970.6,1341.2 L973.6,1341.3 L976.6,1341.4 L979.6,1341.5 L982.6,1341.6 L985.7,1341.8 L988.7,1341.9 L991.7,1342.0 L994.7,1342.1 L997.7,1342.2 L1000.7,1342.3 L1003.7,1342.5 L1006.7,1342.6 L1009.7,1342.7 L1012.7,1342.8 L1015.7,1342.9 L1018.7,1343.1 L1021.8,1343.2 L1024.8,1343.3 L1027.8,1343.4 L1030.8,1343.6 L1033.8,1343.7 L1036.8,1343.8 L1039.8,1343.9 L1042.8,1344.1 L1045.8,1344.2 L1048.8,1344.3 L1051.8,1344.5 L1054.8,1344.6 L1057.8,1344.7 L1060.8,1344.9 L1063.8,1345.0 L1066.8,1345.1 L1069.8,1345.3 L1072.8,1345.4 L1075.8,1345.6 L1078.8,1345.7 L1081.8,1345.8 L1084.8,1346.0 L1087.8,1346.1 L1090.8,1346.3 L1093.8,1346.4 L1096.8,1346.6 L1099.8,1346.7" stroke="#ff0000" stroke-width="2.4" fill="none" stroke-dasharray="9,4,2,4"/>
<path d="M185.2,32.3 L185.6,35.4 L185.9,38.4 L186.2,41.5 L186.5,44.5 L186.9,47.6 L187.2,50.6 L187.5,53.6 L187.8,56.7 L188.2,59.7 L188.5,62.7 L188.8,65.8 L189.2,68.8 L189.5,71.8 L189.8,74.8 L190.2,77.9 L190.5,80.9 L190.8,83.9 L191.2,86.9 L191.5,90.0 L191.8,93.0 L192.2,96.0 L192.5,99.0 L192.9,102.0 L193.2,105.0 L193.6,108.0 L193.9,111.0 L194.3,114.0 L194.6,117.1 L195.0,120.1 L195.3,123.1 L195.7,126.1 L196.0,129.1 L196.4,132.1 L196.7,135.1 L197.1,138.1 L197.4,141.0 L197.8,144.0 L198.2,147.0 L198.5,150.0 L198.9,153.0 L199.3,156.0 L199.7,159.0 L200.0,162.0 L200.4,165.0 L200.8,167.9 L201.2,170.9 L201.5,173.9 L201.9,176.9 L202.3,179.9 L202.7,182.8 L203.1,185.8 L203.5,188.8 L203.9,191.8 L204.3,194.7 L204.6,197.7 L205.0,200.7 L205.4,203.7 L205.8,206.6 L206.3,209.6 L206.7,212.6 L207.1,215.5 L207.5,218.5 L207.9,221.5 L208.3,224.4 L208.7,227.4 L209.1,230.3 L209.6,233.3 L210.0,236.3 L210.4,239.2 L210.8,242.2 L211.3,245.1 L211.7,248.1 L212.1,251.1 L212.6,254.0 L213.0,257.0 L213.5,259.9 L213.9,262.9 L214.4,265.8 L214.8,268.8 L215.3,271.7 L215.7,274.7 L216.2,277.6 L216.7,280.6 L217.1,283.5 L217.6,286.4 L218.1,289.4 L218.5,292.3 L219.0,295.3 L219.5,298.2 L220.0,301.2 L220.5,304.1 L220.9,307.0 L221.4,310.0 L221.9,312.9 L222.4,315.9 L222.9,318.8 L223.4,321.7 L223.9,324.7 L224.5,327.6 L225.0,330.6 L225.5,333.5 L226.0,336.4 L226.5,339.4 L227.0,342.3 L227.6,345.2 L228.1,348.2 L228.6,351.1 L229.2,354.0 L229.7,357.0 L230.3,359.9 L230.8,362.8 L231.4,365.8 L231.9,368.7 L232.5,371.6 L233.1,374.5 L233.6,377.5 L234.2,380.4 L234.8,383.3 L235.3,386.3 L235.9,389.2 L236.5,392.1 L237.1,395.0 L237.7,398.0 L238.3,400.9 L238.9,403.8 L239.5,406.7 L240.1,409.7 L240.7,412.6 L241.3,415.5 L241.9,418.4 L242.6,421.4 L243.2,424.3 L243.8,427.2 L244.4,430.1 L245.1,433.1 L245.7,436.0 L246.4,438.9 L247.0,441.8 L247.7,444.8 L248.3,447.7 L249.0,450.6 L249.7,453.5 L250.3,456.5 L251.0,459.4 L251.7,462.3 L252.4,465.2 L253.1,468.1 L253.8,471.1 L254.5,474.0 L255.2,476.9 L255.9,479.8 L256.6,482.8 L257.3,485.7 L258.0,488.6 L258.7,491.5 L259.5,494.5 L260.2,497.4 L260.9,500.3 L261.7,503.2 L262.4,506.1 L263.2,509.1 L263.9,512.0 L264.7,514.9 L265.5,517.8 L266.2,520.8 L267.0,523.7 L267.8,526.6 L268.6,529.5 L269.4,532.5 L270.2,535.4 L271.0,538.3 L271.8,541.2 L272.6,544.1 L273.4,547.1 L274.2,550.0 L275.0,552.9 L275.9,555.8 L276.7,558.7 L277.6,561.6 L278.4,564.5 L279.3,567.4 L280.1,570.4 L281.0,573.3 L281.9,576.2 L282.7,579.1 L283.6,582.0 L284.5,584.9 L285.4,587.8 L286.3,590.7 L287.2,593.6 L288.1,596.5 L289.1,599.4 L290.0,602.2 L290.9,605.1 L291.9,608.0 L292.8,610.9 L293.8,613.8 L294.7,616.7 L295.7,619.5 L296.7,622.4 L297.6,625.3 L298.6,628.1 L299.6,631.0 L300.6,633.9 L301.6,636.7 L302.6,639.6 L303.7,642.4 L304.7,645.3 L305.7,648.1 L306.8,651.0 L307.8,653.8 L308.9,656.7 L309.9,659.5 L311.0,662.3 L312.1,665.2 L313.2,668.0 L314.3,670.8 L315.4,673.6 L316.5,676.4 L317.6,679.2 L318.7,682.0 L319.8,684.8 L321.0,687.6 L322.1,690.4 L323.3,693.2 L324.4,696.0 L325.6,698.8 L326.8,701.6 L328.0,704.3 L329.1,707.1 L330.4,709.9 L331.6,712.6 L332.8,715.4 L334.0,718.1 L335.2,720.9 L336.5,723.6 L337.7,726.4 L339.0,729.1 L340.3,731.8 L341.5,734.5 L342.8,737.3 L344.1,740.0 L345.4,742.7 L346.7,745.4 L348.0,748.1 L349.4,750.8 L350.7,753.4 L352.1,756.1 L353.4,758.8 L354.8,761.5 L356.2,764.1 L357.5,766.8 L358.9,769.4 L360.3,772.1 L361.7,774.7 L363.2,777.3 L364.6,780.0 L366.0,782.6 L367.5,785.2 L368.9,787.8 L370.4,790.4 L371.9,793.0 L373.4,795.6 L374.9,798.2 L376.4,800.7 L377.9,803.3 L379.4,805.9 L380.9,808.4 L382.5,811.0 L384.0,813.5 L385.6,816.0 L387.2,818.6 L388.8,821.1 L390.4,823.6 L392.0,826.1 L393.6,828.6 L395.2,831.1 L396.9,833.6 L398.5,836.0 L400.2,838.5 L401.8,841.0 L403.5,843.4 L405.2,845.9 L406.9,848.3 L408.6,850.7 L410.3,853.2 L412.1,855.6 L413.8,858.0 L415.6,860.4 L417.3,862.8 L419.1,865.1 L420.9,867.5 L422.7,869.9 L424.5,872.2 L426.3,874.6 L428.2,876.9 L430.0,879.2 L431.9,881.6 L433.7,883.9 L435.6,886.2 L437.5,888.5 L439.4,890.7 L441.3,893.0 L443.2,895.3 L445.2,897.5 L447.1,899.8 L449.1,902.0 L451.0,904.3 L453.0,906.5 L455.0,908.7 L457.0,910.9 L459.0,913.1 L461.0,915.3 L463.1,917.5 L465.1,919.6 L467.2,921.8 L469.2,923.9 L471.3,926.1 L473.4,928.2 L475.5,930.3 L477.6,932.5 L479.7,934.6 L481.8,936.7 L483.9,938.7 L486.1,940.8 L488.2,942.9 L490.4,945.0 L492.6,947.0 L494.8,949.1 L496.9,951.1 L499.1,953.1 L501.4,955.1 L503.6,957.1 L505.8,959.1 L508.0,961.1 L510.3,963.1 L512.5,965.1 L514.8,967.0 L517.1,969.0 L519.4,970.9 L521.6,972.9 L523.9,974.8 L526.2,976.7 L528.6,978.6 L530.9,980.5 L533.2,982.4 L535.6,984.3 L537.9,986.2 L540.3,988.0 L542.6,989.9 L545.0,991.7 L547.4,993.6 L549.8,995.4 L552.2,997.2 L554.6,999.0 L557.0,1000.8 L559.4,1002.6 L561.8,1004.4 L564.3,1006.2 L566.7,1007.9 L569.2,1009.7 L571.6,1011.4 L574.1,1013.2 L576.6,1014.9 L579.0,1016.6 L581.5,1018.3 L584.0,1020.0 L586.5,1021.7 L589.0,1023.4 L591.5,1025.1 L594.0,1026.8 L596.6,1028.4 L599.1,1030.1 L601.6,1031.7 L604.2,1033.3 L606.7,1034.9 L609.3,1036.5 L611.9,1038.1 L614.4,1039.7 L617.0,1041.3 L619.6,1042.9 L622.2,1044.5 L624.8,1046.0 L627.4,1047.5 L630.0,1049.1 L632.6,1050.6 L635.2,1052.1 L637.8,1053.6 L640.5,1055.1 L643.1,1056.6 L645.7,1058.1 L648.4,1059.6 L651.0,1061.0 L653.7,1062.5 L656.3,1063.9 L659.0,1065.4 L661.7,1066.8 L664.3,1068.2 L667.0,1069.6 L669.7,1071.0 L672.4,1072.4 L675.1,1073.8 L677.8,1075.2 L680.5,1076.5 L683.2,1077.9 L685.9,1079.2 L688.6,1080.5 L691.3,1081.9 L694.1,1083.2 L696.8,1084.5 L699.5,1085.8 L702.2,1087.1 L705.0,1088.3 L707.7,1089.6 L710.5,1090.9 L713.2,1092.1 L716.0,1093.4 L718.7,1094.6 L721.5,1095.8 L724.3,1097.0 L727.0,1098.2 L729.8,1099.4 L732.6,1100.6 L735.3,1101.8 L738.1,1102.9 L740.9,1104.1 L743.7,1105.2 L746.5,1106.4 L749.3,1107.5 L752.1,1108.6 L754.9,1109.7 L757.7,1110.8 L760.5,1111.9 L763.3,1113.0 L766.1,1114.1 L768.9,1115.1 L771.7,1116.2 L774.5,1117.2 L777.3,1118.3 L780.1,1119.3 L783.0,1120.3 L785.8,1121.3 L788.6,1122.3 L791.4,1123.3 L794.3,1124.3 L797.1,1125.3 L799.9,1126.3 L802.8,1127.2 L805.6,1128.2 L808.4,1129.1 L811.3,1130.0 L814.1,1131.0 L817.0,1131.9 L819.8,1132.8 L822.7,1133.7 L825.5,1134.6 L828.4,1135.5 L831.2,1136.4 L834.1,1137.3 L836.9,1138.1 L839.8,1139.0 L842.7,1139.9 L845.5,1140.7 L848.4,1141.5 L851.3,1142.4 L854.1,1143.2 L857.0,1144.0 L859.9,1144.9 L862.8,1145.7 L865.6,1146.5 L868.5,1147.3 L871.4,1148.1 L874.3,1148.9 L877.2,1149.6 L880.0,1150.4 L882.9,1151.2 L885.8,1152.0 L888.7,1152.7 L891.6,1153.5 L894.5,1154.2 L897.4,1155.0 L900.3,1155.7 L903.2,1156.4 L906.1,1157.2 L909.0,1157.9 L911.9,1158.6 L914.8,1159.3 L917.7,1160.1 L920.6,1160.8 L923.5,1161.5 L926.4,1162.2 L929.3,1162.9 L932.2,1163.6 L935.1,1164.2 L938.0,1164.9 L940.9,1165.6 L943.9,1166.3 L946.8,1167.0 L949.7,1167.6 L952.6,1168.3 L955.5,1169.0 L958.4,1169.6 L961.4,1170.3 L964.3,1170.9 L967.2,1171.6 L970.1,1172.2 L973.0,1172.9 L976.0,1173.5 L978.9,1174.2 L981.8,1174.8 L984.7,1175.4 L987.7,1176.1 L990.6,1176.7 L993.5,1177.3 L996.5,1177.9 L999.4,1178.6 L1002.3,1179.2 L1005.3,1179.8 L1008.2,1180.4 L1011.1,1181.0 L1014.1,1181.6 L1017.0,1182.2 L1019.9,1182.8 L1022.9,1183.4 L1025.8,1184.0 L1028.8,1184.6 L1031.7,1185.2 L1034.6,1185.7 L1037.6,1186.3 L1040.5,1186.9 L1043.5,1187.5 L1046.4,1188.0 L1049.4,1188.6 L1052.3,1189.2 L1055.3,1189.7 L1058.2,1190.3 L1061.2,1190.9 L1064.1,1191.4 L1067.1,1192.0 L1070.0,1192.5 L1073.0,1193.1 L1075.9,1193.6 L1078.9,1194.1 L1081.8,1194.7 L1084.8,1195.2 L1087.7,1195.7 L1090.7,1196.3 L1093.6,1196.8 L1096.6,1197.3 L1099.6,1197.8 L1102.5,1198.4 L1105.5,1198.9 L1108.4,1199.4 L1111.4,1199.9 L1114.4,1200.4 L1117.3,1200.9 L1120.3,1201.4 L1123.3,1201.9 L1126.2,1202.4 L1129.2,1202.9 L1132.1,1203.4 L1135.1,1203.9 L1138.1,1204.4 L1141.0,1204.9 L1144.0,1205.4 L1147.0,1205.8 L1150.0,1206.3 L1152.9,1206.8 L1155.9,1207.3 L1158.9,1207.7 L1161.8,1208.2 L1164.8,1208.7 L1167.8,1209.1 L1170.8,1209.6 L1173.7,1210.1 L1176.7,1210.5 L1179.7,1211.0 L1182.6,1211.4 L1185.6,1211.9 L1188.6,1212.3 L1191.6,1212.8 L1194.6,1213.2 L1197.5,1213.7 L1200.5,1214.1 L1203.5,1214.5 L1206.5,1215.0 L1209.4,1215.4 L1212.4,1215.8 L1215.4,1216.3 L1218.4,1216.7 L1221.4,1217.1 L1224.4,1217.5 L1227.3,1218.0 L1230.3,1218.4 L1233.3,1218.8 L1236.3,1219.2 L1239.3,1219.6 L1242.2,1220.0 L1245.2,1220.4 L1248.2,1220.8 L1251.2,1221.3 L1254.2,1221.7 L1257.2,1222.1 L1260.2,1222.5 L1263.1,1222.8 L1266.1,1223.2 L1269.1,1223.6 L1272.1,1224.0 L1275.1,1224.4 L1278.1,1224.8 L1281.1,1225.2 L1284.1,1225.6 L1287.1,1225.9 L1290.0,1226.3 L1293.0,1226.7 L1296.0,1227.1 L1299.0,1227.4 L1302.0,1227.8 L1305.0,1228.2 L1308.0,1228.6 L1311.0,1228.9 L1314.0,1229.3 L1317.0,1229.7 L1320.0,1230.0 L1322.9,1230.4 L1325.9,1230.7 L1328.9,1231.1 L1331.9,1231.4 L1334.9,1231.8 L1337.9,1232.1 L1340.9,1232.5 L1343.9,1232.8 L1346.9,1233.2 L1349.9,1233.5 L1352.9,1233.9 L1355.9,1234.2 L1358.9,1234.5 L1361.9,1234.9 L1364.9,1235.2 L1367.9,1235.6 L1370.8,1235.9 L1373.8,1236.2 L1376.8,1236.6 L1379.8,1236.9 L1382.8,1237.2 L1385.8,1237.5 L1388.8,1237.9 L1391.8,1238.2 L1394.8,1238.5 L1397.8,1238.8 L1400.8,1239.1 L1403.8,1239.5 L1406.8,1239.8 L1409.8,1240.1 L1412.8,1240.4 L1415.8,1240.7 L1418.8,1241.0 L1421.8,1241.3 L1424.8,1241.6 L1427.8,1241.9 L1430.8,1242.3 L1433.8,1242.6 L1436.8,1242.9 L1439.8,1243.2 L1442.7,1243.5 L1445.7,1243.8 L1448.7,1244.1 L1451.7,1244.4 L1454.7,1244.6 L1457.7,1244.9 L1460.7,1245.2 L1463.7,1245.5 L1466.7,1245.8 L1469.7,1246.1 L1472.7,1246.4 L1475.7,1246.7 L1478.7,1247.0 L1481.7,1247.3 L1484.7,1247.5 L1487.7,1247.8 L1490.7,1248.1 L1493.7,1248.4 L1496.7,1248.7 L1499.7,1248.9 L1502.7,1249.2 L1505.6,1249.5 L1508.6,1249.8 L1511.6,1250.0 L1514.6,1250.3 L1517.6,1250.6 L1520.6,1250.9 L1523.6,1251.1 L1526.6,1251.4 L1529.6,1251.7 L1532.6,1251.9 L1535.6,1252.2 L1538.6,1252.5 L1541.6,1252.7 L1544.6,1253.0 L1547.5,1253.3 L1550.5,1253.5 L1553.5,1253.8 L1556.5,1254.1 L1559.5,1254.3 L1562.5,1254.6 L1565.5,1254.8 L1568.5,1255.1 L1571.5,1255.4 L1574.5,1255.6 L1577.4,1255.9 L1580.4,1256.1 L1583.4,1256.4 L1586.4,1256.6 L1589.4,1256.9 L1592.4,1257.1 L1595.4,1257.4 L1598.4,1257.6 L1601.3,1257.9 L1604.3,1258.1 L1607.3,1258.4 L1610.3,1258.6 L1613.3,1258.9 L1616.3,1259.1 L1619.2,1259.4 L1622.2,1259.6 L1625.2,1259.9 L1628.2,1260.1 L1631.2,1260.4 L1634.2,1260.6 L1637.1,1260.9 L1640.1,1261.1 L1643.1,1261.4 L1646.1,1261.6 L1649.1,1261.8 L1652.0,1262.1 L1655.0,1262.3 L1658.0,1262.6 L1661.0,1262.8 L1664.0,1263.1 L1666.9,1263.3 L1669.9,1263.5 L1672.9,1263.8" stroke="#ff1a1a" stroke-width="2.6" fill="none" stroke-dasharray="11,5,3,5"/>
<path d="M154.3,199.5 L155.0,202.2 L156.1,204.7 L157.5,207.0 L159.1,209.3 L160.9,211.4 L162.6,213.6 L164.3,215.8 L165.9,218.1 L167.3,220.6 L168.5,223.1 L169.7,225.7 L170.7,228.5 L171.6,231.2 L172.5,234.0 L173.4,236.9 L174.2,239.7 L175.0,242.6 L175.9,245.5 L176.7,248.3 L177.5,251.2 L178.3,254.1 L179.1,257.0 L179.9,259.9 L180.6,262.8 L181.4,265.6 L182.2,268.5 L182.9,271.5 L183.7,274.4 L184.4,277.3 L185.2,280.2 L186.0,283.1 L186.7,286.0 L187.4,288.9 L188.2,291.8 L188.9,294.7 L189.7,297.7 L190.4,300.6 L191.2,303.5 L191.9,306.4 L192.7,309.3 L193.4,312.2 L194.2,315.1 L194.9,318.0 L195.7,320.9 L196.5,323.8 L197.2,326.7 L198.0,329.6 L198.8,332.5 L199.6,335.4 L200.3,338.3 L201.1,341.2 L201.9,344.0 L202.7,346.9 L203.5,349.8 L204.4,352.7 L205.2,355.5 L206.0,358.4 L206.8,361.3 L207.6,364.2 L208.5,367.0 L209.3,369.9 L210.2,372.8 L211.0,375.6 L211.9,378.5 L212.7,381.4 L213.6,384.2 L214.5,387.1 L215.3,390.0 L216.2,392.9 L217.0,395.7 L217.9,398.6 L218.8,401.5 L219.6,404.4 L220.4,407.2 L221.3,410.1 L222.1,413.0 L222.9,415.9 L223.7,418.8 L224.5,421.7 L225.3,424.6 L226.0,427.5 L226.8,430.4 L227.5,433.3 L228.2,436.2 L228.9,439.1 L229.6,442.1 L230.2,445.0 L230.8,447.9 L231.5,450.8 L232.1,453.8 L232.8,456.7 L233.4,459.6 L234.1,462.5 L234.9,465.4 L235.7,468.3 L236.5,471.1 L237.4,474.0 L238.4,476.8 L239.4,479.7 L240.4,482.5 L241.4,485.3 L242.4,488.1 L243.5,490.9 L244.5,493.7 L245.5,496.5 L246.5,499.4 L247.5,502.2 L248.4,505.0 L249.4,507.8 L250.3,510.6 L251.1,513.5 L252.0,516.3 L252.9,519.2 L253.7,522.0 L254.6,524.9 L255.5,527.7 L256.4,530.6 L257.2,533.4 L258.1,536.3 L259.0,539.1 L260.0,542.0 L260.9,544.9 L261.8,547.7 L262.8,550.6 L263.7,553.4 L264.7,556.3 L265.7,559.1 L266.6,562.0 L267.6,564.8 L268.7,567.6 L269.7,570.5 L270.7,573.3 L271.8,576.1 L272.9,578.9 L273.9,581.7 L275.0,584.5 L276.2,587.3 L277.3,590.1 L278.4,592.9 L279.6,595.6 L280.7,598.4 L281.9,601.2 L283.0,603.9 L284.2,606.7 L285.4,609.5 L286.5,612.2 L287.7,615.0 L288.9,617.8 L290.0,620.5 L291.2,623.3 L292.3,626.1 L293.5,628.8 L294.6,631.6 L295.7,634.4 L296.8,637.2 L297.9,640.0 L299.0,642.8 L300.1,645.6 L301.1,648.4 L302.2,651.2 L303.3,654.1 L304.3,656.9 L305.4,659.7 L306.4,662.5 L307.4,665.3 L308.5,668.2 L309.5,671.0 L310.6,673.8 L311.6,676.6 L312.7,679.5 L313.7,682.3 L314.8,685.1 L315.8,687.9 L316.9,690.7 L317.9,693.5 L319.0,696.4 L320.1,699.2 L321.2,702.0 L322.3,704.8 L323.4,707.6 L324.5,710.3 L325.6,713.1 L326.8,715.9 L327.9,718.7 L329.1,721.4 L330.3,724.2 L331.5,726.9 L332.7,729.7 L333.9,732.4 L335.2,735.1 L336.4,737.8 L337.7,740.6 L339.0,743.3 L340.3,745.9 L341.7,748.6 L343.0,751.3 L344.4,754.0 L345.8,756.6 L347.1,759.3 L348.6,761.9 L350.0,764.6 L351.4,767.2 L352.9,769.8 L354.3,772.4 L355.8,775.1 L357.3,777.7 L358.8,780.3 L360.3,782.9 L361.8,785.4 L363.3,788.0 L364.9,790.6 L366.4,793.2 L368.0,795.7 L369.6,798.3 L371.1,800.8 L372.7,803.4 L374.3,805.9 L376.0,808.5 L377.6,811.0 L379.2,813.5 L380.8,816.1 L382.5,818.6 L384.1,821.1 L385.8,823.6 L387.5,826.1 L389.1,828.6 L390.8,831.1 L392.5,833.6 L394.2,836.1 L395.9,838.6 L397.6,841.0 L399.3,843.5 L401.0,846.0 L402.8,848.5 L404.5,850.9 L406.2,853.4 L407.9,855.9 L409.7,858.3" stroke="#e00000" stroke-width="3.4" fill="none"/>
<path d="M154.3,199.5 L155.0,202.2 L156.1,204.7 L157.5,207.0 L159.1,209.3 L160.9,211.4 L162.6,213.6 L164.3,215.8 L165.9,218.1 L167.3,220.6 L168.5,223.1 L169.7,225.7 L170.7,228.5 L171.6,231.2 L172.5,234.0 L173.4,236.9 L174.2,239.7 L175.0,242.6 L175.9,245.5 L176.7,248.3 L177.5,251.2 L178.3,254.1 L179.1,257.0 L179.9,259.9 L180.6,262.8 L181.4,265.6 L182.2,268.5 L182.9,271.5 L183.7,274.4 L184.4,277.3 L185.2,280.2 L186.0,283.1 L186.7,286.0 L187.4,288.9 L188.2,291.8 L188.9,294.7 L189.7,297.7 L190.4,300.6 L191.2,303.5 L191.9,306.4 L192.7,309.3 L193.4,312.2 L194.2,315.1 L194.9,318.0 L195.7,320.9 L196.5,323.8 L197.2,326.7 L198.0,329.6 L198.8,332.5 L199.6,335.4 L200.3,338.3 L201.1,341.2 L201.9,344.0 L202.7,346.9 L203.5,349.8 L204.4,352.7 L205.2,355.5 L206.0,358.4 L206.8,361.3 L207.6,364.2 L208.5,367.0 L209.3,369.9 L210.2,372.8 L211.0,375.6 L211.9,378.5 L212.7,381.4 L213.6,384.2 L214.5,387.1 L215.3,390.0 L216.2,392.9 L217.0,395.7 L217.9,398.6 L218.8,401.5 L219.6,404.4 L220.4,407.2 L221.3,410.1 L222.1,413.0 L222.9,415.9 L223.7,418.8 L224.5,421.7 L225.3,424.6 L226.0,427.5 L226.8,430.4 L227.5,433.3 L228.2,436.2 L228.9,439.1 L229.6,442.1 L230.2,445.0 L230.8,447.9 L231.5,450.8 L232.1,453.8 L232.8,456.7 L233.4,459.6 L234.1,462.5 L234.9,465.4 L235.7,468.3 L236.5,471.1 L237.4,474.0 L238.4,476.8 L239.4,479.7 L240.4,482.5 L241.4,485.3 L242.4,488.1 L243.5,490.9 L244.5,493.7 L245.5,496.5 L246.5,499.4 L247.5,502.2 L248.4,505.0 L249.4,507.8 L250.3,510.6 L251.1,513.5 L252.0,516.3 L252.9,519.2 L253.7,522.0 L254.6,524.9 L255.5,527.7 L256.4,530.6 L257.2,533.4 L258.1,536.3 L259.0,539.1 L260.0,542.0 L260.9,544.9 L261.8,547.7 L262.8,550.6 L263.7,553.4 L264.7,556.3 L265.7,559.1 L266.6,562.0 L267.6,564.8 L268.7,567.6 L269.7,570.5 L270.7,573.3 L271.8,576.1 L272.9,578.9 L273.9,581.7 L275.0,584.5 L276.2,587.3 L277.3,590.1 L278.4,592.9 L279.6,595.6 L280.7,598.4 L281.9,601.2 L283.0,603.9 L284.2,606.7 L285.4,609.5 L286.5,612.2 L287.7,615.0 L288.9,617.8 L290.0,620.5 L291.2,623.3 L292.3,626.1 L293.5,628.8 L294.6,631.6 L295.7,634.4 L296.8,637.2 L297.9,640.0 L299.0,642.8 L300.1,645.6 L301.1,648.4 L302.2,651.2 L303.3,654.1 L304.3,656.9 L305.4,659.7 L306.4,662.5 L307.4,665.3 L308.5,668.2 L309.5,671.0 L310.6,673.8 L311.6,676.6 L312.7,679.5 L313.7,682.3 L314.8,685.1 L315.8,687.9 L316.9,690.7 L317.9,693.5 L319.0,696.4 L320.1,699.2 L321.2,702.0 L322.3,704.8 L323.4,707.6 L324.5,710.3 L325.6,713.1 L326.8,715.9 L327.9,718.7 L329.1,721.4 L330.3,724.2 L331.5,726.9 L332.7,729.7 L333.9,732.4 L335.2,735.1 L336.4,737.8 L337.7,740.6 L339.0,743.3 L340.3,745.9 L341.7,748.6 L343.0,751.3 L344.4,754.0 L345.8,756.6 L347.1,759.3 L348.6,761.9 L350.0,764.6 L351.4,767.2 L352.9,769.8 L354.3,772.4 L355.8,775.1 L357.3,777.7 L358.8,780.3 L360.3,782.9 L361.8,785.4 L363.3,788.0 L364.9,790.6 L366.4,793.2 L368.0,795.7 L369.6,798.3 L371.1,800.8 L372.7,803.4 L374.3,805.9 L376.0,808.5 L377.6,811.0 L379.2,813.5 L380.8,816.1 L382.5,818.6 L384.1,821.1 L385.8,823.6 L387.5,826.1 L389.1,828.6 L390.8,831.1 L392.5,833.6 L394.2,836.1 L395.9,838.6 L397.6,841.0 L399.3,843.5 L401.0,846.0 L402.8,848.5 L404.5,850.9 L406.2,853.4 L407.9,855.9 L409.7,858.3" stroke="#000" stroke-width="3" fill="none" stroke-dasharray="7,5"/>
<path d="M404.5,850.9 L406.2,853.4 L407.9,855.9 L409.7,858.3 L411.4,860.8 L413.1,863.2 L414.9,865.7 L416.6,868.1 L418.4,870.6 L420.1,873.0 L421.9,875.5 L423.6,877.9 L425.4,880.3 L427.2,882.8 L428.9,885.2 L430.7,887.6 L432.4,890.1 L434.2,892.5 L436.0,894.9 L437.8,897.3 L439.5,899.7 L441.3,902.2 L443.1,904.6 L444.9,907.0 L446.7,909.4 L448.5,911.8 L450.3,914.2 L452.1,916.6 L453.9,919.0 L455.7,921.4 L457.5,923.8 L459.3,926.2 L461.2,928.5 L463.0,930.9 L464.8,933.3 L466.7,935.7 L468.5,938.1 L470.3,940.4 L472.2,942.8 L474.0,945.2 L475.9,947.5 L477.8,949.9 L479.6,952.3 L481.5,954.6 L483.4,957.0 L485.3,959.3 L487.2,961.6 L489.1,964.0 L491.0,966.3 L492.9,968.6 L494.8,970.9 L496.8,973.2 L498.7,975.5 L500.7,977.8 L502.6,980.0 L504.6,982.3 L506.6,984.5 L508.6,986.7 L510.7,989.0 L512.7,991.2 L514.7,993.3 L516.8,995.5 L518.9,997.7 L521.0,999.8 L523.1,1001.9 L525.2,1004.0 L527.4,1006.1 L529.5,1008.2 L531.7,1010.2 L533.9,1012.2 L536.1,1014.2 L538.4,1016.2 L540.6,1018.2 L542.9,1020.1 L545.2,1022.0 L547.5,1023.9 L549.9,1025.8 L552.2,1027.6 L554.6,1029.5 L557.0,1031.3 L559.4,1033.1 L561.8,1034.9 L564.3,1036.6 L566.7,1038.4 L569.2,1040.1 L571.6,1041.8 L574.1,1043.5 L576.6,1045.2 L579.2,1046.8 L581.7,1048.5 L584.2,1050.1 L586.8,1051.7 L589.3,1053.4 L591.9,1055.0 L594.5,1056.5 L597.0,1058.1 L599.6,1059.7 L602.2,1061.2 L604.8,1062.8 L607.4,1064.3 L610.1,1065.8 L612.7,1067.4 L615.3,1068.9 L617.9,1070.4 L620.5,1071.9 L623.2,1073.4 L625.8,1074.9 L628.5,1076.3 L631.1,1077.8 L633.7,1079.3 L636.4,1080.7 L639.0,1082.2 L641.6,1083.7 L644.3,1085.1 L646.9,1086.6 L649.5,1088.0 L652.2,1089.5 L654.8,1090.9 L657.4,1092.4 L660.0,1093.8 L662.6,1095.3 L665.3,1096.7 L667.9,1098.2 L670.5,1099.6 L673.1,1101.0 L675.8,1102.4 L678.4,1103.8 L681.0,1105.2 L683.7,1106.5 L686.3,1107.9 L689.0,1109.2 L691.7,1110.5 L694.4,1111.8 L697.0,1113.1 L699.8,1114.3 L702.5,1115.6 L705.2,1116.8 L707.9,1118.0 L710.7,1119.2 L713.5,1120.3 L716.2,1121.5 L719.0,1122.6 L721.8,1123.7 L724.6,1124.8 L727.4,1125.9 L730.2,1127.0 L733.0,1128.1 L735.8,1129.1 L738.6,1130.2 L741.5,1131.3 L744.3,1132.3 L747.1,1133.4 L749.9,1134.4 L752.8,1135.5 L755.6,1136.6 L758.4,1137.6 L761.2,1138.7 L764.1,1139.8 L766.9,1140.9 L769.7,1142.0 L772.5,1143.1 L775.3,1144.2 L778.1,1145.3 L780.9,1146.4 L783.7,1147.5 L786.5,1148.6 L789.3,1149.7 L792.1,1150.8 L794.9,1151.9 L797.7,1153.0 L800.5,1154.1 L803.3,1155.2 L806.1,1156.3 L808.9,1157.4 L811.8,1158.5 L814.6,1159.6 L817.4,1160.7 L820.2,1161.7 L823.0,1162.8 L825.8,1163.9 L828.6,1164.9 L831.4,1166.0 L834.2,1167.0 L837.1,1168.0 L839.9,1169.1 L842.7,1170.1 L845.5,1171.1 L848.4,1172.1 L851.2,1173.0 L854.1,1174.0 L856.9,1175.0 L859.7,1175.9 L862.6,1176.9 L865.4,1177.8 L868.3,1178.7 L871.2,1179.6 L874.0,1180.5 L876.9,1181.4 L879.7,1182.3 L882.6,1183.2 L885.5,1184.1 L888.4,1184.9 L891.2,1185.8 L894.1,1186.6 L897.0,1187.5 L899.9,1188.3 L902.8,1189.1 L905.7,1189.9 L908.5,1190.7 L911.4,1191.5 L914.3,1192.3 L917.2,1193.1 L920.1,1193.8 L923.0,1194.6 L925.9,1195.4 L928.8,1196.1 L931.8,1196.9 L934.7,1197.6 L937.6,1198.3 L940.5,1199.0 L943.4,1199.8 L946.3,1200.5 L949.2,1201.2 L952.2,1201.9 L955.1,1202.6 L958.0,1203.2 L960.9,1203.9 L963.9,1204.6 L966.8,1205.3 L969.7,1205.9 L972.7,1206.6 L975.6,1207.2 L978.5,1207.9 L981.5,1208.5 L984.4,1209.1 L987.3,1209.8 L990.3,1210.4 L993.2,1211.0 L996.2,1211.6 L999.1,1212.2 L1002.1,1212.8 L1005.0,1213.4 L1008.0,1214.0 L1010.9,1214.6 L1013.9,1215.2 L1016.8,1215.8 L1019.8,1216.4 L1022.7,1216.9 L1025.7,1217.5 L1028.6,1218.1 L1031.6,1218.6 L1034.5,1219.2 L1037.5,1219.7 L1040.5,1220.3 L1043.4,1220.8 L1046.4,1221.4 L1049.3,1221.9 L1052.3,1222.5 L1055.3,1223.0 L1058.2,1223.5 L1061.2,1224.1 L1064.2,1224.6 L1067.1,1225.1 L1070.1,1225.7 L1073.0,1226.2 L1076.0,1226.7 L1079.0,1227.2 L1081.9,1227.7 L1084.9,1228.3 L1087.9,1228.8 L1090.8,1229.3 L1093.8,1229.8 L1096.8,1230.3 L1099.7,1230.8 L1102.7,1231.3 L1105.7,1231.8 L1108.6,1232.3 L1111.6,1232.8 L1114.6,1233.3 L1117.5,1233.8 L1120.5,1234.3 L1123.5,1234.8 L1126.4,1235.3 L1129.4,1235.8 L1132.4,1236.3 L1135.3,1236.8 L1138.3,1237.3 L1141.3,1237.8 L1144.2,1238.3 L1147.2,1238.8 L1150.2,1239.3 L1153.1,1239.7 L1156.1,1240.2 L1159.1,1240.7 L1162.0,1241.2 L1165.0,1241.7 L1168.0,1242.1 L1170.9,1242.6 L1173.9,1243.1 L1176.9,1243.6 L1179.8,1244.0 L1182.8,1244.5 L1185.8,1245.0 L1188.7,1245.5 L1191.7,1245.9 L1194.7,1246.4 L1197.6,1246.9 L1200.6,1247.3 L1203.6,1247.8 L1206.5,1248.2 L1209.5,1248.7 L1212.5,1249.2 L1215.4,1249.6 L1218.4,1250.1 L1221.4,1250.5 L1224.3,1251.0 L1227.3,1251.4 L1230.3,1251.9 L1233.2,1252.3 L1236.2,1252.8 L1239.2,1253.2 L1242.2,1253.7 L1245.1,1254.1 L1248.1,1254.5 L1251.1,1255.0 L1254.0,1255.4 L1257.0,1255.8 L1260.0,1256.3 L1263.0,1256.7 L1265.9,1257.1 L1268.9,1257.6 L1271.9,1258.0 L1274.8,1258.4 L1277.8,1258.8 L1280.8,1259.3 L1283.8,1259.7 L1286.7,1260.1 L1289.7,1260.5 L1292.7,1260.9 L1295.7,1261.3 L1298.6,1261.7 L1301.6,1262.1 L1304.6,1262.6 L1307.6,1263.0 L1310.5,1263.4 L1313.5,1263.8 L1316.5,1264.2 L1319.5,1264.6 L1322.5,1265.0 L1325.4,1265.3 L1328.4,1265.7 L1331.4,1266.1 L1334.4,1266.5 L1337.4,1266.9 L1340.3,1267.3 L1343.3,1267.7 L1346.3,1268.0 L1349.3,1268.4 L1352.3,1268.8 L1355.2,1269.2 L1358.2,1269.6 L1361.2,1269.9 L1364.2,1270.3 L1367.2,1270.7 L1370.2,1271.0 L1373.1,1271.4 L1376.1,1271.7 L1379.1,1272.1 L1382.1,1272.5 L1385.1,1272.8 L1388.1,1273.2 L1391.1,1273.5 L1394.0,1273.9 L1397.0,1274.2 L1400.0,1274.6 L1403.0,1274.9 L1406.0,1275.2 L1409.0,1275.6 L1412.0,1275.9 L1415.0,1276.2 L1418.0,1276.6 L1421.0,1276.9 L1424.0,1277.2 L1426.9,1277.6 L1429.9,1277.9 L1432.9,1278.2 L1435.9,1278.6 L1438.9,1278.9 L1441.9,1279.2 L1444.9,1279.5 L1447.9,1279.9 L1450.9,1280.2 L1453.9,1280.5 L1456.9,1280.9 L1459.9,1281.2 L1462.9,1281.5 L1465.8,1281.8 L1468.8,1282.2 L1471.8,1282.5 L1474.8,1282.8 L1477.8,1283.2 L1480.8,1283.5 L1483.8,1283.9 L1486.8,1284.2 L1489.8,1284.5 L1492.7,1284.9 L1495.7,1285.2 L1498.7,1285.6 L1501.7,1285.9 L1504.7,1286.3 L1507.7,1286.6 L1510.6,1287.0 L1513.6,1287.4 L1516.6,1287.7 L1519.6,1288.1 L1522.6,1288.5 L1525.5,1288.8 L1528.5,1289.2 L1531.5,1289.6 L1534.5,1290.0 L1537.4,1290.4 L1540.4,1290.8 L1543.4,1291.2 L1546.3,1291.6 L1549.3,1292.0 L1552.3,1292.4 L1555.2,1292.8 L1558.2,1293.3 L1561.2,1293.7 L1564.1,1294.1 L1567.1,1294.6 L1570.0,1295.0 L1573.0,1295.5 L1575.9,1295.9 L1578.9,1296.4 L1581.8,1296.9 L1584.8,1297.4 L1587.7,1297.9 L1590.7,1298.4 L1593.6,1298.9 L1596.6,1299.5 L1599.5,1300.0 L1602.5,1300.6 L1605.4,1301.2 L1608.4,1301.7 L1611.3,1302.4 L1614.2,1303.0 L1617.2,1303.6 L1620.1,1304.3 L1623.1,1305.0 L1626.0,1305.7 L1629.0,1306.4 L1631.9,1307.1 L1634.9,1307.9 L1637.8,1308.7 L1640.7,1309.6 L1643.6,1310.4 L1646.5,1311.3 L1649.3,1312.3 L1652.1,1313.3 L1654.9,1314.4 L1657.7,1315.5 L1660.4,1316.6 L1663.1,1317.9 L1665.7,1319.2 L1668.2,1320.5" stroke="#0000cc" stroke-width="2.2" fill="none"/>
<path d="M404.5,850.9 L406.2,853.4 L407.9,855.9 L409.7,858.3 L411.4,860.8 L413.1,863.2 L414.9,865.7 L416.6,868.1 L418.4,870.6 L420.1,873.0 L421.9,875.5 L423.6,877.9 L425.4,880.3 L427.2,882.8 L428.9,885.2 L430.7,887.6 L432.4,890.1 L434.2,892.5 L436.0,894.9 L437.8,897.3 L439.5,899.7 L441.3,902.2 L443.1,904.6 L444.9,907.0 L446.7,909.4 L448.5,911.8 L450.3,914.2 L452.1,916.6 L453.9,919.0 L455.7,921.4 L457.5,923.8 L459.3,926.2 L461.2,928.5 L463.0,930.9 L464.8,933.3 L466.7,935.7 L468.5,938.1 L470.3,940.4 L472.2,942.8 L474.0,945.2 L475.9,947.5 L477.8,949.9 L479.6,952.3 L481.5,954.6 L483.4,957.0 L485.3,959.3 L487.2,961.6 L489.1,964.0 L491.0,966.3 L492.9,968.6 L494.8,970.9 L496.8,973.2 L498.7,975.5 L500.7,977.8 L502.6,980.0 L504.6,982.3 L506.6,984.5 L508.6,986.7 L510.7,989.0 L512.7,991.2 L514.7,993.3 L516.8,995.5 L518.9,997.7 L521.0,999.8 L523.1,1001.9 L525.2,1004.0 L527.4,1006.1 L529.5,1008.2 L531.7,1010.2 L533.9,1012.2 L536.1,1014.2 L538.4,1016.2 L540.6,1018.2 L542.9,1020.1 L545.2,1022.0 L547.5,1023.9 L549.9,1025.8 L552.2,1027.6 L554.6,1029.5 L557.0,1031.3 L559.4,1033.1 L561.8,1034.9 L564.3,1036.6 L566.7,1038.4 L569.2,1040.1 L571.6,1041.8 L574.1,1043.5 L576.6,1045.2 L579.2,1046.8 L581.7,1048.5 L584.2,1050.1 L586.8,1051.7 L589.3,1053.4 L591.9,1055.0 L594.5,1056.5 L597.0,1058.1 L599.6,1059.7 L602.2,1061.2 L604.8,1062.8 L607.4,1064.3 L610.1,1065.8 L612.7,1067.4 L615.3,1068.9 L617.9,1070.4 L620.5,1071.9 L623.2,1073.4 L625.8,1074.9 L628.5,1076.3 L631.1,1077.8 L633.7,1079.3 L636.4,1080.7 L639.0,1082.2 L641.6,1083.7 L644.3,1085.1 L646.9,1086.6 L649.5,1088.0 L652.2,1089.5 L654.8,1090.9 L657.4,1092.4 L660.0,1093.8 L662.6,1095.3 L665.3,1096.7 L667.9,1098.2 L670.5,1099.6 L673.1,1101.0 L675.8,1102.4 L678.4,1103.8 L681.0,1105.2 L683.7,1106.5 L686.3,1107.9 L689.0,1109.2 L691.7,1110.5 L694.4,1111.8 L697.0,1113.1 L699.8,1114.3 L702.5,1115.6 L705.2,1116.8 L707.9,1118.0 L710.7,1119.2 L713.5,1120.3 L716.2,1121.5 L719.0,1122.6 L721.8,1123.7 L724.6,1124.8 L727.4,1125.9 L730.2,1127.0 L733.0,1128.1 L735.8,1129.1 L738.6,1130.2 L741.5,1131.3 L744.3,1132.3 L747.1,1133.4 L749.9,1134.4 L752.8,1135.5 L755.6,1136.6 L758.4,1137.6 L761.2,1138.7 L764.1,1139.8 L766.9,1140.9 L769.7,1142.0 L772.5,1143.1 L775.3,1144.2 L778.1,1145.3 L780.9,1146.4 L783.7,1147.5 L786.5,1148.6 L789.3,1149.7 L792.1,1150.8 L794.9,1151.9 L797.7,1153.0 L800.5,1154.1 L803.3,1155.2 L806.1,1156.3 L808.9,1157.4 L811.8,1158.5 L814.6,1159.6 L817.4,1160.7 L820.2,1161.7 L823.0,1162.8 L825.8,1163.9 L828.6,1164.9 L831.4,1166.0 L834.2,1167.0 L837.1,1168.0 L839.9,1169.1 L842.7,1170.1 L845.5,1171.1 L848.4,1172.1 L851.2,1173.0 L854.1,1174.0 L856.9,1175.0 L859.7,1175.9 L862.6,1176.9 L865.4,1177.8 L868.3,1178.7 L871.2,1179.6 L874.0,1180.5 L876.9,1181.4 L879.7,1182.3 L882.6,1183.2 L885.5,1184.1 L888.4,1184.9 L891.2,1185.8 L894.1,1186.6 L897.0,1187.5 L899.9,1188.3 L902.8,1189.1 L905.7,1189.9 L908.5,1190.7 L911.4,1191.5 L914.3,1192.3 L917.2,1193.1 L920.1,1193.8 L923.0,1194.6 L925.9,1195.4 L928.8,1196.1 L931.8,1196.9 L934.7,1197.6 L937.6,1198.3 L940.5,1199.0 L943.4,1199.8 L946.3,1200.5 L949.2,1201.2 L952.2,1201.9 L955.1,1202.6 L958.0,1203.2 L960.9,1203.9 L963.9,1204.6 L966.8,1205.3 L969.7,1205.9 L972.7,1206.6 L975.6,1207.2 L978.5,1207.9 L981.5,1208.5 L984.4,1209.1 L987.3,1209.8 L990.3,1210.4 L993.2,1211.0 L996.2,1211.6 L999.1,1212.2 L1002.1,1212.8 L1005.0,1213.4 L1008.0,1214.0 L1010.9,1214.6 L1013.9,1215.2 L1016.8,1215.8 L1019.8,1216.4 L1022.7,1216.9 L1025.7,1217.5 L1028.6,1218.1 L1031.6,1218.6 L1034.5,1219.2 L1037.5,1219.7 L1040.5,1220.3 L1043.4,1220.8 L1046.4,1221.4 L1049.3,1221.9 L1052.3,1222.5 L1055.3,1223.0 L1058.2,1223.5 L1061.2,1224.1 L1064.2,1224.6 L1067.1,1225.1 L1070.1,1225.7 L1073.0,1226.2 L1076.0,1226.7 L1079.0,1227.2 L1081.9,1227.7 L1084.9,1228.3 L1087.9,1228.8 L1090.8,1229.3 L1093.8,1229.8 L1096.8,1230.3 L1099.7,1230.8 L1102.7,1231.3 L1105.7,1231.8 L1108.6,1232.3 L1111.6,1232.8 L1114.6,1233.3 L1117.5,1233.8 L1120.5,1234.3 L1123.5,1234.8 L1126.4,1235.3 L1129.4,1235.8 L1132.4,1236.3 L1135.3,1236.8 L1138.3,1237.3 L1141.3,1237.8 L1144.2,1238.3 L1147.2,1238.8 L1150.2,1239.3 L1153.1,1239.7 L1156.1,1240.2 L1159.1,1240.7 L1162.0,1241.2 L1165.0,1241.7 L1168.0,1242.1 L1170.9,1242.6 L1173.9,1243.1 L1176.9,1243.6 L1179.8,1244.0 L1182.8,1244.5 L1185.8,1245.0 L1188.7,1245.5 L1191.7,1245.9 L1194.7,1246.4 L1197.6,1246.9 L1200.6,1247.3 L1203.6,1247.8 L1206.5,1248.2 L1209.5,1248.7 L1212.5,1249.2 L1215.4,1249.6 L1218.4,1250.1 L1221.4,1250.5 L1224.3,1251.0 L1227.3,1251.4 L1230.3,1251.9 L1233.2,1252.3 L1236.2,1252.8 L1239.2,1253.2 L1242.2,1253.7 L1245.1,1254.1 L1248.1,1254.5 L1251.1,1255.0 L1254.0,1255.4 L1257.0,1255.8 L1260.0,1256.3 L1263.0,1256.7 L1265.9,1257.1 L1268.9,1257.6 L1271.9,1258.0 L1274.8,1258.4 L1277.8,1258.8 L1280.8,1259.3 L1283.8,1259.7 L1286.7,1260.1 L1289.7,1260.5 L1292.7,1260.9 L1295.7,1261.3 L1298.6,1261.7 L1301.6,1262.1 L1304.6,1262.6 L1307.6,1263.0 L1310.5,1263.4 L1313.5,1263.8 L1316.5,1264.2 L1319.5,1264.6 L1322.5,1265.0 L1325.4,1265.3 L1328.4,1265.7 L1331.4,1266.1 L1334.4,1266.5 L1337.4,1266.9 L1340.3,1267.3 L1343.3,1267.7 L1346.3,1268.0 L1349.3,1268.4 L1352.3,1268.8 L1355.2,1269.2 L1358.2,1269.6 L1361.2,1269.9 L1364.2,1270.3 L1367.2,1270.7 L1370.2,1271.0 L1373.1,1271.4 L1376.1,1271.7 L1379.1,1272.1 L1382.1,1272.5 L1385.1,1272.8 L1388.1,1273.2 L1391.1,1273.5 L1394.0,1273.9 L1397.0,1274.2 L1400.0,1274.6 L1403.0,1274.9 L1406.0,1275.2 L1409.0,1275.6 L1412.0,1275.9 L1415.0,1276.2 L1418.0,1276.6 L1421.0,1276.9 L1424.0,1277.2 L1426.9,1277.6 L1429.9,1277.9 L1432.9,1278.2 L1435.9,1278.6 L1438.9,1278.9 L1441.9,1279.2 L1444.9,1279.5 L1447.9,1279.9 L1450.9,1280.2 L1453.9,1280.5 L1456.9,1280.9 L1459.9,1281.2 L1462.9,1281.5 L1465.8,1281.8 L1468.8,1282.2 L1471.8,1282.5 L1474.8,1282.8 L1477.8,1283.2 L1480.8,1283.5 L1483.8,1283.9 L1486.8,1284.2 L1489.8,1284.5 L1492.7,1284.9 L1495.7,1285.2 L1498.7,1285.6 L1501.7,1285.9 L1504.7,1286.3 L1507.7,1286.6 L1510.6,1287.0 L1513.6,1287.4 L1516.6,1287.7 L1519.6,1288.1 L1522.6,1288.5 L1525.5,1288.8 L1528.5,1289.2 L1531.5,1289.6 L1534.5,1290.0 L1537.4,1290.4 L1540.4,1290.8 L1543.4,1291.2 L1546.3,1291.6 L1549.3,1292.0 L1552.3,1292.4 L1555.2,1292.8 L1558.2,1293.3 L1561.2,1293.7 L1564.1,1294.1 L1567.1,1294.6 L1570.0,1295.0 L1573.0,1295.5 L1575.9,1295.9 L1578.9,1296.4 L1581.8,1296.9 L1584.8,1297.4 L1587.7,1297.9 L1590.7,1298.4 L1593.6,1298.9 L1596.6,1299.5 L1599.5,1300.0 L1602.5,1300.6 L1605.4,1301.2 L1608.4,1301.7 L1611.3,1302.4 L1614.2,1303.0 L1617.2,1303.6 L1620.1,1304.3 L1623.1,1305.0 L1626.0,1305.7 L1629.0,1306.4 L1631.9,1307.1 L1634.9,1307.9 L1637.8,1308.7 L1640.7,1309.6 L1643.6,1310.4 L1646.5,1311.3 L1649.3,1312.3 L1652.1,1313.3 L1654.9,1314.4 L1657.7,1315.5 L1660.4,1316.6 L1663.1,1317.9 L1665.7,1319.2 L1668.2,1320.5" stroke="#000" stroke-width="2.4" fill="none" stroke-dasharray="6,8"/>
<path d="M156,199 L156,239" stroke="#111" stroke-width="3" fill="none"/>
<path d="M154.5,250.0 L154.5,253.0 L154.6,256.1 L154.7,259.1 L154.7,262.1 L154.8,265.2 L154.8,268.2 L154.9,271.3 L155.0,274.3 L155.0,277.3 L155.1,280.4 L155.2,283.4 L155.3,286.5 L155.3,289.5 L155.4,292.5 L155.5,295.6 L155.6,298.6 L155.7,301.6 L155.8,304.7 L155.8,307.7 L155.9,310.7 L156.0,313.8 L156.1,316.8 L156.2,319.9 L156.3,322.9 L156.4,325.9 L156.6,329.0 L156.7,332.0 L156.8,335.0 L156.9,338.1 L157.0,341.1 L157.1,344.1 L157.3,347.2 L157.4,350.2 L157.5,353.3 L157.6,356.3 L157.8,359.3 L157.9,362.4 L158.0,365.4 L158.2,368.4 L158.3,371.5 L158.5,374.5 L158.6,377.5 L158.8,380.6 L158.9,383.6 L159.1,386.6 L159.2,389.7 L159.4,392.7 L159.5,395.7 L159.7,398.8 L159.9,401.8 L160.0,404.8 L160.2,407.9 L160.4,410.9 L160.5,413.9 L160.7,417.0 L160.9,420.0 L161.1,423.0 L161.3,426.1 L161.4,429.1 L161.6,432.1 L161.8,435.2 L162.0,438.2 L162.2,441.2 L162.4,444.3 L162.6,447.3 L162.8,450.3 L163.0,453.4 L163.2,456.4 L163.4,459.4 L163.6,462.4 L163.9,465.5 L164.1,468.5 L164.3,471.5 L164.5,474.6 L164.7,477.6 L165.0,480.6 L165.2,483.7 L165.4,486.7 L165.6,489.7 L165.9,492.7 L166.1,495.8 L166.4,498.8 L166.6,501.8 L166.8,504.9 L167.1,507.9 L167.3,510.9 L167.6,513.9 L167.8,517.0 L168.1,520.0 L168.4,523.0 L168.6,526.0 L168.9,529.1 L169.2,532.1 L169.4,535.1 L169.7,538.2 L170.0,541.2 L170.2,544.2 L170.5,547.2 L170.8,550.3 L171.1,553.3 L171.4,556.3 L171.7,559.3 L172.0,562.4 L172.2,565.4 L172.5,568.4 L172.8,571.4 L173.1,574.4 L173.4,577.5 L173.7,580.5 L174.0,583.5 L174.4,586.5 L174.7,589.6 L175.0,592.6 L175.3,595.6 L175.6,598.6 L175.9,601.6 L176.3,604.7 L176.6,607.7 L176.9,610.7 L177.2,613.7 L177.6,616.7 L177.9,619.8 L178.3,622.8 L178.6,625.8 L178.9,628.8 L179.3,631.8 L179.6,634.9 L180.0,637.9 L180.3,640.9 L180.7,643.9 L181.0,646.9 L181.4,650.0 L181.8,653.0 L182.1,656.0" stroke="#ff1010" stroke-width="3" fill="none"/>
<path d="M154.7,332.0 L154.8,335.0 L154.9,338.1 L155.0,341.1 L155.1,344.1 L155.3,347.2 L155.4,350.2 L155.5,353.3 L155.6,356.3 L155.8,359.3 L155.9,362.4 L156.0,365.4 L156.2,368.4 L156.3,371.5 L156.5,374.5 L156.6,377.5 L156.8,380.6 L156.9,383.6 L157.1,386.6 L157.2,389.7 L157.4,392.7 L157.5,395.7 L157.7,398.8 L157.9,401.8 L158.0,404.8 L158.2,407.9 L158.4,410.9 L158.5,413.9 L158.7,417.0 L158.9,420.0 L159.1,423.0 L159.3,426.1 L159.4,429.1 L159.6,432.1 L159.8,435.2 L160.0,438.2 L160.2,441.2 L160.4,444.3 L160.6,447.3 L160.8,450.3 L161.0,453.4 L161.2,456.4 L161.4,459.4 L161.6,462.4 L161.9,465.5 L162.1,468.5 L162.3,471.5 L162.5,474.6 L162.7,477.6 L163.0,480.6 L163.2,483.7 L163.4,486.7 L163.6,489.7 L163.9,492.7 L164.1,495.8 L164.4,498.8 L164.6,501.8 L164.8,504.9 L165.1,507.9 L165.3,510.9 L165.6,513.9 L165.8,517.0 L166.1,520.0 L166.4,523.0 L166.6,526.0 L166.9,529.1 L167.2,532.1 L167.4,535.1 L167.7,538.2 L168.0,541.2 L168.2,544.2 L168.5,547.2 L168.8,550.3 L169.1,553.3 L169.4,556.3 L169.7,559.3 L170.0,562.4 L170.2,565.4 L170.5,568.4 L170.8,571.4 L171.1,574.4 L171.4,577.5 L171.7,580.5 L172.0,583.5 L172.4,586.5 L172.7,589.6 L173.0,592.6 L173.3,595.6 L173.6,598.6 L173.9,601.6 L174.3,604.7 L174.6,607.7 L174.9,610.7 L175.2,613.7 L175.6,616.7 L175.9,619.8 L176.3,622.8 L176.6,625.8 L176.9,628.8 L177.3,631.8 L177.6,634.9 L178.0,637.9 L178.3,640.9 L178.7,643.9 L179.0,646.9 L179.4,650.0 L179.8,653.0 L180.1,656.0" stroke="#111" stroke-width="2.2" fill="none" stroke-dasharray="9,9"/>
<path d="M153,655.5 L184,655.5" stroke="#ff2020" stroke-width="3.2" fill="none"/>
<path d="M185.7,657.3 L186.3,660.1 L186.9,662.9 L187.5,665.7 L188.0,668.6 L188.6,671.4 L189.2,674.2 L189.8,677.0 L190.3,679.9 L190.9,682.7 L191.5,685.6 L192.1,688.4 L192.6,691.3 L193.2,694.1 L193.8,697.0 L194.3,699.9 L194.9,702.7 L195.5,705.6 L196.0,708.5 L196.6,711.4 L197.2,714.3 L197.8,717.2 L198.3,720.1 L198.9,723.0 L199.5,725.9 L200.0,728.8 L200.6,731.7 L201.2,734.6 L201.8,737.6 L202.4,740.5 L202.9,743.4 L203.5,746.4 L204.1,749.3 L204.7,752.2 L205.3,755.2 L205.9,758.1 L206.5,761.0 L207.1,764.0 L207.7,766.9 L208.3,769.9 L208.9,772.8 L209.5,775.8 L210.2,778.7 L210.8,781.7 L211.4,784.7 L212.0,787.6 L212.7,790.6 L213.3,793.5 L213.9,796.5 L214.6,799.4 L215.2,802.4 L215.9,805.4 L216.6,808.3 L217.2,811.3 L217.9,814.3 L218.6,817.2 L219.3,820.2 L220.0,823.2 L220.6,826.1 L221.3,829.1 L222.1,832.0 L222.8,835.0 L223.5,838.0 L224.2,840.9 L224.9,843.9 L225.7,846.8 L226.4,849.8 L227.2,852.7 L227.9,855.7 L228.7,858.7 L229.5,861.6 L230.3,864.5 L231.1,867.5 L231.9,870.4 L232.7,873.4 L233.5,876.3 L234.3,879.3 L235.1,882.2 L236.0,885.1 L236.8,888.1 L237.7,891.0 L238.5,893.9 L239.4,896.8 L240.3,899.7 L241.2,902.7 L242.1,905.6 L243.0,908.5 L243.9,911.4 L244.9,914.3 L245.8,917.2 L246.8,920.1 L247.7,923.0 L248.7,925.9 L249.7,928.7 L250.7,931.6 L251.7,934.5 L252.7,937.3 L253.8,940.2 L254.8,943.1 L255.9,945.9 L256.9,948.8 L258.0,951.6 L259.1,954.4 L260.2,957.3 L261.3,960.1 L262.4,962.9 L263.6,965.7 L264.7,968.5 L265.9,971.3 L267.1,974.1 L268.2,976.9 L269.4,979.7 L270.7,982.5 L271.9,985.2 L273.1,988.0 L274.4,990.8 L275.6,993.5 L276.9,996.3 L278.2,999.0 L279.5,1001.7 L280.8,1004.4 L282.2,1007.1 L283.5,1009.8 L284.9,1012.5 L286.2,1015.2 L287.6,1017.9 L289.0,1020.6 L290.4,1023.2 L291.9,1025.9 L293.3,1028.5 L294.8,1031.1 L296.2,1033.7 L297.7,1036.4 L299.2,1039.0 L300.7,1041.6 L302.2,1044.1 L303.8,1046.7 L305.3,1049.3 L306.9,1051.8 L308.5,1054.4 L310.1,1056.9 L311.7,1059.4 L313.3,1061.9 L314.9,1064.4 L316.6,1066.9 L318.3,1069.4 L320.0,1071.8 L321.7,1074.3 L323.4,1076.7 L325.1,1079.1 L326.8,1081.5 L328.6,1083.9 L330.4,1086.3 L332.2,1088.7 L334.0,1091.1 L335.8,1093.4 L337.6,1095.8 L339.5,1098.1 L341.3,1100.4 L343.2,1102.7 L345.1,1105.0 L347.0,1107.3 L348.9,1109.5 L350.9,1111.8 L352.8,1114.0 L354.8,1116.2 L356.8,1118.4 L358.8,1120.6 L360.8,1122.8 L362.8,1124.9 L364.9,1127.1 L366.9,1129.2 L369.0,1131.3 L371.1,1133.4 L373.2,1135.5 L375.3,1137.6 L377.4,1139.7 L379.5,1141.7 L381.7,1143.8 L383.9,1145.8 L386.0,1147.8 L388.2,1149.8 L390.4,1151.8 L392.6,1153.7 L394.9,1155.7 L397.1,1157.6 L399.4,1159.5 L401.6,1161.4 L403.9,1163.3 L406.2,1165.2 L408.5,1167.1 L410.8,1168.9 L413.2,1170.7 L415.5,1172.6 L417.9,1174.4 L420.2,1176.1 L422.6,1177.9 L425.0,1179.7 L427.4,1181.4 L429.8,1183.1 L432.2,1184.8 L434.7,1186.5 L437.1,1188.2 L439.6,1189.9 L442.1,1191.5 L444.5,1193.1 L447.0,1194.8 L449.5,1196.4 L452.0,1197.9 L454.6,1199.5 L457.1,1201.0 L459.7,1202.6 L462.2,1204.1 L464.8,1205.6 L467.4,1207.1 L469.9,1208.6 L472.5,1210.0 L475.2,1211.5 L477.8,1212.9 L480.4,1214.3 L483.0,1215.7 L485.7,1217.1 L488.3,1218.4 L491.0,1219.8 L493.7,1221.1 L496.3,1222.5 L499.0,1223.8 L501.7,1225.1 L504.4,1226.4 L507.2,1227.6 L509.9,1228.9 L512.6,1230.1 L515.3,1231.4 L518.1,1232.6 L520.8,1233.8 L523.6,1235.0 L526.4,1236.1 L529.1,1237.3 L531.9,1238.5 L534.7,1239.6 L537.5,1240.7 L540.3,1241.8 L543.1,1242.9 L545.9,1244.0 L548.7,1245.1 L551.6,1246.2 L554.4,1247.2 L557.2,1248.3 L560.1,1249.3 L562.9,1250.3 L565.8,1251.3 L568.7,1252.3 L571.5,1253.3 L574.4,1254.3 L577.3,1255.2 L580.1,1256.2 L583.0,1257.1 L585.9,1258.1 L588.8,1259.0 L591.7,1259.9 L594.6,1260.8 L597.5,1261.7 L600.4,1262.6 L603.3,1263.4 L606.2,1264.3 L609.2,1265.2 L612.1,1266.0 L615.0,1266.8 L617.9,1267.7 L620.9,1268.5 L623.8,1269.3 L626.7,1270.1 L629.7,1270.9 L632.6,1271.6 L635.5,1272.4 L638.5,1273.2 L641.4,1273.9 L644.4,1274.7 L647.3,1275.4 L650.3,1276.1 L653.2,1276.8 L656.2,1277.6 L659.1,1278.3 L662.1,1279.0 L665.1,1279.6 L668.0,1280.3 L671.0,1281.0 L673.9,1281.7 L676.9,1282.3 L679.8,1283.0 L682.8,1283.6 L685.8,1284.3 L688.7,1284.9 L691.7,1285.5 L694.7,1286.1 L697.6,1286.7 L700.6,1287.3 L703.6,1287.9 L706.5,1288.5 L709.5,1289.1 L712.5,1289.7 L715.4,1290.3 L718.4,1290.8 L721.4,1291.4 L724.4,1291.9 L727.3,1292.5 L730.3,1293.0 L733.3,1293.6 L736.3,1294.1 L739.2,1294.6 L742.2,1295.1 L745.2,1295.6 L748.2,1296.1 L751.2,1296.6 L754.1,1297.1 L757.1,1297.6 L760.1,1298.1 L763.1,1298.6 L766.1,1299.0 L769.1,1299.5 L772.0,1299.9 L775.0,1300.4 L778.0,1300.9 L781.0,1301.3 L784.0,1301.7 L787.0,1302.2 L789.9,1302.6 L792.9,1303.0 L795.9,1303.4 L798.9,1303.9 L801.9,1304.3 L804.9,1304.7 L807.9,1305.1 L810.9,1305.5 L813.9,1305.9 L816.9,1306.2 L819.8,1306.6 L822.8,1307.0 L825.8,1307.4 L828.8,1307.8 L831.8,1308.1 L834.8,1308.5 L837.8,1308.9 L840.8,1309.2 L843.8,1309.6 L846.8,1309.9 L849.8,1310.3 L852.8,1310.6 L855.8,1310.9 L858.8,1311.3 L861.7,1311.6 L864.7,1311.9 L867.7,1312.3 L870.7,1312.6 L873.7,1312.9 L876.7,1313.2 L879.7,1313.5 L882.7,1313.8 L885.7,1314.1 L888.7,1314.4 L891.7,1314.7 L894.7,1315.0 L897.7,1315.3 L900.7,1315.6 L903.7,1315.9 L906.7,1316.2 L909.7,1316.5 L912.7,1316.8 L915.7,1317.1 L918.7,1317.4 L921.7,1317.6 L924.7,1317.9 L927.7,1318.2 L930.7,1318.5 L933.7,1318.7 L936.7,1319.0 L939.6,1319.3 L942.6,1319.5 L945.6,1319.8 L948.6,1320.1 L951.6,1320.3 L954.6,1320.6 L957.6,1320.8 L960.6,1321.1 L963.6,1321.4 L966.6,1321.6 L969.6,1321.9 L972.6,1322.1 L975.6,1322.4 L978.6,1322.6 L981.6,1322.9 L984.6,1323.1 L987.6,1323.3 L990.6,1323.6 L993.6,1323.8 L996.6,1324.0 L999.6,1324.3 L1002.5,1324.5 L1005.5,1324.7 L1008.5,1325.0 L1011.5,1325.2 L1014.5,1325.4 L1017.5,1325.7 L1020.5,1325.9 L1023.5,1326.1 L1026.5,1326.3 L1029.5,1326.5 L1032.5,1326.8 L1035.5,1327.0 L1038.5,1327.2 L1041.5,1327.4 L1044.5,1327.6 L1047.5,1327.8 L1050.5,1328.0 L1053.5,1328.2 L1056.5,1328.5 L1059.4,1328.7 L1062.4,1328.9 L1065.4,1329.1 L1068.4,1329.3 L1071.4,1329.5 L1074.4,1329.7 L1077.4,1329.9 L1080.4,1330.0 L1083.4,1330.2 L1086.4,1330.4 L1089.4,1330.6 L1092.4,1330.8 L1095.4,1331.0 L1098.4,1331.2 L1101.4,1331.4 L1104.4,1331.6 L1107.4,1331.7 L1110.4,1331.9 L1113.3,1332.1 L1116.3,1332.3 L1119.3,1332.5 L1122.3,1332.6 L1125.3,1332.8 L1128.3,1333.0 L1131.3,1333.2 L1134.3,1333.3 L1137.3,1333.5 L1140.3,1333.7 L1143.3,1333.8 L1146.3,1334.0 L1149.3,1334.2 L1152.3,1334.3 L1155.3,1334.5 L1158.3,1334.7 L1161.3,1334.8 L1164.3,1335.0 L1167.3,1335.1 L1170.3,1335.3 L1173.2,1335.5 L1176.2,1335.6 L1179.2,1335.8 L1182.2,1335.9 L1185.2,1336.1 L1188.2,1336.2 L1191.2,1336.4 L1194.2,1336.5 L1197.2,1336.7 L1200.2,1336.8 L1203.2,1337.0 L1206.2,1337.1 L1209.2,1337.3 L1212.2,1337.4 L1215.2,1337.6 L1218.2,1337.7 L1221.2,1337.8 L1224.2,1338.0 L1227.2,1338.1 L1230.2,1338.3 L1233.2,1338.4 L1236.2,1338.5 L1239.2,1338.7 L1242.2,1338.8 L1245.2,1338.9 L1248.2,1339.1 L1251.2,1339.2 L1254.2,1339.3 L1257.2,1339.5 L1260.2,1339.6 L1263.2,1339.7 L1266.2,1339.8 L1269.2,1340.0 L1272.2,1340.1 L1275.2,1340.2 L1278.2,1340.3 L1281.2,1340.5 L1284.2,1340.6 L1287.2,1340.7 L1290.2,1340.8 L1293.2,1341.0 L1296.2,1341.1 L1299.2,1341.2 L1302.2,1341.3 L1305.2,1341.4 L1308.2,1341.6 L1311.2,1341.7 L1314.2,1341.8 L1317.2,1341.9 L1320.2,1342.0 L1323.2,1342.1 L1326.2,1342.2 L1329.2,1342.4 L1332.2,1342.5 L1335.2,1342.6 L1338.2,1342.7 L1341.2,1342.8 L1344.2,1342.9 L1347.2,1343.0 L1350.2,1343.1 L1353.2,1343.2 L1356.2,1343.3 L1359.2,1343.4 L1362.2,1343.6 L1365.2,1343.7 L1368.2,1343.8 L1371.2,1343.9 L1374.2,1344.0 L1377.2,1344.1 L1380.2,1344.2 L1383.2,1344.3 L1386.2,1344.4 L1389.2,1344.5 L1392.2,1344.6 L1395.3,1344.7 L1398.3,1344.8 L1401.3,1344.9 L1404.3,1345.0 L1407.3,1345.1 L1410.3,1345.2 L1413.3,1345.3 L1416.3,1345.4 L1419.3,1345.5 L1422.3,1345.6 L1425.3,1345.7 L1428.3,1345.8 L1431.3,1345.9 L1434.3,1346.0 L1437.4,1346.1 L1440.4,1346.2 L1443.4,1346.3 L1446.4,1346.3 L1449.4,1346.4 L1452.4,1346.5 L1455.4,1346.6 L1458.4,1346.7 L1461.4,1346.8 L1464.4,1346.9 L1467.5,1347.0 L1470.5,1347.1 L1473.5,1347.2 L1476.5,1347.3 L1479.5,1347.4 L1482.5,1347.5 L1485.5,1347.6 L1488.5,1347.6 L1491.6,1347.7 L1494.6,1347.8 L1497.6,1347.9 L1500.6,1348.0 L1503.6,1348.1 L1506.6,1348.2 L1509.6,1348.3 L1512.7,1348.4 L1515.7,1348.5 L1518.7,1348.6 L1521.7,1348.6 L1524.7,1348.7 L1527.7,1348.8 L1530.8,1348.9 L1533.8,1349.0 L1536.8,1349.1 L1539.8,1349.2 L1542.8,1349.3 L1545.9,1349.4 L1548.9,1349.5 L1551.9,1349.5 L1554.9,1349.6 L1557.9,1349.7 L1560.9,1349.8 L1564.0,1349.9 L1567.0,1350.0 L1570.0,1350.1 L1573.0,1350.2 L1576.1,1350.3 L1579.1,1350.4 L1582.1,1350.5 L1585.1,1350.5 L1588.1,1350.6 L1591.2,1350.7 L1594.2,1350.8 L1597.2,1350.9 L1600.2,1351.0" stroke="#ff00ff" stroke-width="3" fill="none"/>
<path d="M185.7,657.3 L186.3,660.1 L186.9,662.9 L187.5,665.7 L188.0,668.6 L188.6,671.4 L189.2,674.2 L189.8,677.0 L190.3,679.9 L190.9,682.7 L191.5,685.6 L192.1,688.4 L192.6,691.3 L193.2,694.1 L193.8,697.0 L194.3,699.9 L194.9,702.7 L195.5,705.6 L196.0,708.5 L196.6,711.4 L197.2,714.3 L197.8,717.2 L198.3,720.1 L198.9,723.0 L199.5,725.9 L200.0,728.8 L200.6,731.7 L201.2,734.6 L201.8,737.6 L202.4,740.5 L202.9,743.4 L203.5,746.4 L204.1,749.3 L204.7,752.2 L205.3,755.2 L205.9,758.1 L206.5,761.0 L207.1,764.0 L207.7,766.9 L208.3,769.9 L208.9,772.8 L209.5,775.8 L210.2,778.7 L210.8,781.7 L211.4,784.7 L212.0,787.6 L212.7,790.6 L213.3,793.5 L213.9,796.5 L214.6,799.4 L215.2,802.4 L215.9,805.4 L216.6,808.3 L217.2,811.3 L217.9,814.3 L218.6,817.2 L219.3,820.2 L220.0,823.2 L220.6,826.1 L221.3,829.1 L222.1,832.0 L222.8,835.0 L223.5,838.0 L224.2,840.9 L224.9,843.9 L225.7,846.8 L226.4,849.8 L227.2,852.7 L227.9,855.7 L228.7,858.7 L229.5,861.6 L230.3,864.5 L231.1,867.5 L231.9,870.4 L232.7,873.4 L233.5,876.3 L234.3,879.3 L235.1,882.2 L236.0,885.1 L236.8,888.1 L237.7,891.0 L238.5,893.9 L239.4,896.8 L240.3,899.7 L241.2,902.7 L242.1,905.6 L243.0,908.5 L243.9,911.4 L244.9,914.3 L245.8,917.2 L246.8,920.1 L247.7,923.0 L248.7,925.9 L249.7,928.7 L250.7,931.6 L251.7,934.5 L252.7,937.3 L253.8,940.2 L254.8,943.1 L255.9,945.9 L256.9,948.8 L258.0,951.6 L259.1,954.4 L260.2,957.3 L261.3,960.1 L262.4,962.9 L263.6,965.7 L264.7,968.5 L265.9,971.3 L267.1,974.1 L268.2,976.9 L269.4,979.7 L270.7,982.5 L271.9,985.2 L273.1,988.0 L274.4,990.8 L275.6,993.5 L276.9,996.3 L278.2,999.0 L279.5,1001.7 L280.8,1004.4 L282.2,1007.1 L283.5,1009.8 L284.9,1012.5 L286.2,1015.2 L287.6,1017.9 L289.0,1020.6 L290.4,1023.2 L291.9,1025.9 L293.3,1028.5 L294.8,1031.1 L296.2,1033.7 L297.7,1036.4 L299.2,1039.0 L300.7,1041.6 L302.2,1044.1 L303.8,1046.7 L305.3,1049.3 L306.9,1051.8 L308.5,1054.4 L310.1,1056.9 L311.7,1059.4 L313.3,1061.9 L314.9,1064.4 L316.6,1066.9 L318.3,1069.4 L320.0,1071.8 L321.7,1074.3 L323.4,1076.7 L325.1,1079.1 L326.8,1081.5 L328.6,1083.9 L330.4,1086.3 L332.2,1088.7 L334.0,1091.1 L335.8,1093.4 L337.6,1095.8 L339.5,1098.1 L341.3,1100.4 L343.2,1102.7 L345.1,1105.0 L347.0,1107.3 L348.9,1109.5 L350.9,1111.8 L352.8,1114.0 L354.8,1116.2 L356.8,1118.4 L358.8,1120.6 L360.8,1122.8 L362.8,1124.9 L364.9,1127.1 L366.9,1129.2 L369.0,1131.3 L371.1,1133.4 L373.2,1135.5 L375.3,1137.6 L377.4,1139.7 L379.5,1141.7 L381.7,1143.8 L383.9,1145.8 L386.0,1147.8 L388.2,1149.8 L390.4,1151.8 L392.6,1153.7 L394.9,1155.7 L397.1,1157.6 L399.4,1159.5 L401.6,1161.4 L403.9,1163.3 L406.2,1165.2 L408.5,1167.1 L410.8,1168.9 L413.2,1170.7 L415.5,1172.6 L417.9,1174.4 L420.2,1176.1 L422.6,1177.9 L425.0,1179.7 L427.4,1181.4 L429.8,1183.1 L432.2,1184.8 L434.7,1186.5 L437.1,1188.2 L439.6,1189.9 L442.1,1191.5 L444.5,1193.1 L447.0,1194.8 L449.5,1196.4 L452.0,1197.9 L454.6,1199.5 L457.1,1201.0 L459.7,1202.6 L462.2,1204.1 L464.8,1205.6 L467.4,1207.1 L469.9,1208.6 L472.5,1210.0 L475.2,1211.5 L477.8,1212.9 L480.4,1214.3 L483.0,1215.7 L485.7,1217.1 L488.3,1218.4 L491.0,1219.8 L493.7,1221.1 L496.3,1222.5 L499.0,1223.8 L501.7,1225.1 L504.4,1226.4 L507.2,1227.6 L509.9,1228.9 L512.6,1230.1 L515.3,1231.4 L518.1,1232.6 L520.8,1233.8 L523.6,1235.0 L526.4,1236.1 L529.1,1237.3 L531.9,1238.5 L534.7,1239.6 L537.5,1240.7 L540.3,1241.8 L543.1,1242.9 L545.9,1244.0 L548.7,1245.1 L551.6,1246.2 L554.4,1247.2 L557.2,1248.3 L560.1,1249.3 L562.9,1250.3 L565.8,1251.3 L568.7,1252.3 L571.5,1253.3 L574.4,1254.3 L577.3,1255.2 L580.1,1256.2 L583.0,1257.1 L585.9,1258.1 L588.8,1259.0 L591.7,1259.9 L594.6,1260.8 L597.5,1261.7 L600.4,1262.6 L603.3,1263.4 L606.2,1264.3 L609.2,1265.2 L612.1,1266.0 L615.0,1266.8 L617.9,1267.7 L620.9,1268.5 L623.8,1269.3 L626.7,1270.1 L629.7,1270.9 L632.6,1271.6 L635.5,1272.4 L638.5,1273.2 L641.4,1273.9 L644.4,1274.7 L647.3,1275.4 L650.3,1276.1 L653.2,1276.8 L656.2,1277.6 L659.1,1278.3 L662.1,1279.0 L665.1,1279.6 L668.0,1280.3 L671.0,1281.0 L673.9,1281.7 L676.9,1282.3 L679.8,1283.0 L682.8,1283.6 L685.8,1284.3 L688.7,1284.9 L691.7,1285.5 L694.7,1286.1 L697.6,1286.7 L700.6,1287.3 L703.6,1287.9 L706.5,1288.5 L709.5,1289.1 L712.5,1289.7 L715.4,1290.3 L718.4,1290.8" stroke="#1a1a1a" stroke-width="3" fill="none" stroke-dasharray="14,4"/>
<path d="M715.4,1290.3 L718.4,1290.8 L721.4,1291.4 L724.4,1291.9 L727.3,1292.5 L730.3,1293.0 L733.3,1293.6 L736.3,1294.1 L739.2,1294.6 L742.2,1295.1 L745.2,1295.6 L748.2,1296.1 L751.2,1296.6 L754.1,1297.1 L757.1,1297.6 L760.1,1298.1 L763.1,1298.6 L766.1,1299.0 L769.1,1299.5 L772.0,1299.9 L775.0,1300.4 L778.0,1300.9 L781.0,1301.3 L784.0,1301.7 L787.0,1302.2 L789.9,1302.6 L792.9,1303.0 L795.9,1303.4 L798.9,1303.9 L801.9,1304.3 L804.9,1304.7 L807.9,1305.1 L810.9,1305.5 L813.9,1305.9 L816.9,1306.2 L819.8,1306.6 L822.8,1307.0 L825.8,1307.4 L828.8,1307.8 L831.8,1308.1 L834.8,1308.5 L837.8,1308.9 L840.8,1309.2 L843.8,1309.6 L846.8,1309.9 L849.8,1310.3 L852.8,1310.6 L855.8,1310.9 L858.8,1311.3 L861.7,1311.6 L864.7,1311.9 L867.7,1312.3 L870.7,1312.6 L873.7,1312.9 L876.7,1313.2 L879.7,1313.5 L882.7,1313.8 L885.7,1314.1 L888.7,1314.4 L891.7,1314.7 L894.7,1315.0 L897.7,1315.3 L900.7,1315.6 L903.7,1315.9 L906.7,1316.2 L909.7,1316.5 L912.7,1316.8 L915.7,1317.1 L918.7,1317.4 L921.7,1317.6 L924.7,1317.9 L927.7,1318.2 L930.7,1318.5 L933.7,1318.7 L936.7,1319.0 L939.6,1319.3 L942.6,1319.5 L945.6,1319.8 L948.6,1320.1 L951.6,1320.3 L954.6,1320.6 L957.6,1320.8 L960.6,1321.1 L963.6,1321.4 L966.6,1321.6 L969.6,1321.9 L972.6,1322.1 L975.6,1322.4 L978.6,1322.6 L981.6,1322.9 L984.6,1323.1 L987.6,1323.3 L990.6,1323.6 L993.6,1323.8 L996.6,1324.0 L999.6,1324.3 L1002.5,1324.5 L1005.5,1324.7 L1008.5,1325.0 L1011.5,1325.2 L1014.5,1325.4 L1017.5,1325.7 L1020.5,1325.9 L1023.5,1326.1 L1026.5,1326.3 L1029.5,1326.5 L1032.5,1326.8 L1035.5,1327.0 L1038.5,1327.2 L1041.5,1327.4 L1044.5,1327.6 L1047.5,1327.8 L1050.5,1328.0 L1053.5,1328.2 L1056.5,1328.5 L1059.4,1328.7 L1062.4,1328.9 L1065.4,1329.1 L1068.4,1329.3 L1071.4,1329.5 L1074.4,1329.7 L1077.4,1329.9 L1080.4,1330.0 L1083.4,1330.2 L1086.4,1330.4 L1089.4,1330.6 L1092.4,1330.8 L1095.4,1331.0 L1098.4,1331.2 L1101.4,1331.4 L1104.4,1331.6 L1107.4,1331.7 L1110.4,1331.9 L1113.3,1332.1 L1116.3,1332.3 L1119.3,1332.5 L1122.3,1332.6 L1125.3,1332.8 L1128.3,1333.0 L1131.3,1333.2 L1134.3,1333.3 L1137.3,1333.5 L1140.3,1333.7 L1143.3,1333.8 L1146.3,1334.0 L1149.3,1334.2 L1152.3,1334.3 L1155.3,1334.5 L1158.3,1334.7 L1161.3,1334.8 L1164.3,1335.0 L1167.3,1335.1 L1170.3,1335.3 L1173.2,1335.5 L1176.2,1335.6 L1179.2,1335.8 L1182.2,1335.9 L1185.2,1336.1 L1188.2,1336.2 L1191.2,1336.4 L1194.2,1336.5 L1197.2,1336.7 L1200.2,1336.8 L1203.2,1337.0 L1206.2,1337.1 L1209.2,1337.3 L1212.2,1337.4 L1215.2,1337.6 L1218.2,1337.7 L1221.2,1337.8 L1224.2,1338.0 L1227.2,1338.1 L1230.2,1338.3 L1233.2,1338.4 L1236.2,1338.5 L1239.2,1338.7 L1242.2,1338.8 L1245.2,1338.9 L1248.2,1339.1 L1251.2,1339.2 L1254.2,1339.3 L1257.2,1339.5 L1260.2,1339.6 L1263.2,1339.7 L1266.2,1339.8 L1269.2,1340.0 L1272.2,1340.1 L1275.2,1340.2 L1278.2,1340.3 L1281.2,1340.5 L1284.2,1340.6 L1287.2,1340.7 L1290.2,1340.8 L1293.2,1341.0 L1296.2,1341.1 L1299.2,1341.2 L1302.2,1341.3 L1305.2,1341.4 L1308.2,1341.6 L1311.2,1341.7 L1314.2,1341.8 L1317.2,1341.9 L1320.2,1342.0 L1323.2,1342.1 L1326.2,1342.2 L1329.2,1342.4 L1332.2,1342.5 L1335.2,1342.6 L1338.2,1342.7 L1341.2,1342.8 L1344.2,1342.9 L1347.2,1343.0 L1350.2,1343.1 L1353.2,1343.2 L1356.2,1343.3 L1359.2,1343.4 L1362.2,1343.6 L1365.2,1343.7 L1368.2,1343.8 L1371.2,1343.9 L1374.2,1344.0 L1377.2,1344.1 L1380.2,1344.2 L1383.2,1344.3 L1386.2,1344.4 L1389.2,1344.5 L1392.2,1344.6 L1395.3,1344.7 L1398.3,1344.8 L1401.3,1344.9 L1404.3,1345.0 L1407.3,1345.1 L1410.3,1345.2 L1413.3,1345.3 L1416.3,1345.4 L1419.3,1345.5 L1422.3,1345.6 L1425.3,1345.7 L1428.3,1345.8 L1431.3,1345.9 L1434.3,1346.0 L1437.4,1346.1 L1440.4,1346.2 L1443.4,1346.3 L1446.4,1346.3 L1449.4,1346.4 L1452.4,1346.5 L1455.4,1346.6 L1458.4,1346.7 L1461.4,1346.8 L1464.4,1346.9 L1467.5,1347.0 L1470.5,1347.1 L1473.5,1347.2 L1476.5,1347.3 L1479.5,1347.4 L1482.5,1347.5 L1485.5,1347.6 L1488.5,1347.6 L1491.6,1347.7 L1494.6,1347.8 L1497.6,1347.9 L1500.6,1348.0 L1503.6,1348.1 L1506.6,1348.2 L1509.6,1348.3 L1512.7,1348.4 L1515.7,1348.5 L1518.7,1348.6 L1521.7,1348.6 L1524.7,1348.7 L1527.7,1348.8 L1530.8,1348.9 L1533.8,1349.0 L1536.8,1349.1 L1539.8,1349.2 L1542.8,1349.3 L1545.9,1349.4 L1548.9,1349.5 L1551.9,1349.5 L1554.9,1349.6 L1557.9,1349.7 L1560.9,1349.8 L1564.0,1349.9 L1567.0,1350.0 L1570.0,1350.1 L1573.0,1350.2 L1576.1,1350.3 L1579.1,1350.4 L1582.1,1350.5 L1585.1,1350.5 L1588.1,1350.6 L1591.2,1350.7 L1594.2,1350.8 L1597.2,1350.9 L1600.2,1351.0" stroke="#1a1a1a" stroke-width="3" fill="none" stroke-dasharray="8,12"/>
<path d="M1668.1,1321.4 L1666.9,1324.3 L1665.4,1327.0 L1663.6,1329.3 L1661.6,1331.5 L1659.4,1333.3 L1657.0,1335.0 L1654.5,1336.4 L1651.8,1337.7 L1649.0,1338.9 L1646.1,1339.9 L1643.2,1340.8 L1640.2,1341.6 L1637.1,1342.3 L1634.1,1343.0 L1631.0,1343.6 L1628.0,1344.2 L1624.9,1344.7 L1621.8,1345.2 L1618.7,1345.7 L1615.7,1346.1 L1612.6,1346.5 L1609.5,1346.9 L1606.4,1347.2 L1603.3,1347.5 L1600.2,1347.8 L1597.1,1348.1 L1594.0,1348.3 L1590.9,1348.5 L1587.8,1348.7 L1584.8,1348.9 L1581.7,1349.1 L1578.6,1349.2 L1575.5,1349.4 L1572.4,1349.6 L1569.4,1349.7 L1566.3,1349.9 L1563.2,1350.0 L1560.2,1350.2 L1557.2,1350.3 L1554.1,1350.5 L1551.1,1350.7 L1548.1,1350.9 L1545.1,1351.1" stroke="#111" stroke-width="2.6" fill="none"/>
<path d="M204.5,33.0 L221.0,190.0 L221.2,201.1 L221.8,204.0 L222.3,207.0 L222.8,209.9 L223.3,212.8 L223.9,215.8 L224.4,218.7 L224.9,221.7 L225.4,224.6 L225.9,227.6 L226.4,230.5 L226.9,233.5 L227.4,236.4 L227.9,239.4 L228.3,242.3 L228.8,245.3 L229.3,248.2 L229.8,251.2 L230.3,254.1 L230.7,257.1 L231.2,260.0 L231.7,263.0 L232.3,266.0 L232.8,268.9 L233.3,271.9 L233.8,274.8 L234.4,277.8 L234.9,280.8 L235.4,283.7 L235.9,286.7 L236.4,289.7 L236.9,292.6 L237.4,295.6 L238.0,298.6 L238.5,301.5 L239.0,304.5 L239.5,307.5 L240.0,310.4 L240.5,313.4 L241.0,316.4 L241.5,319.3 L242.0,322.3 L242.5,325.3 L243.0,328.2 L243.5,331.2 L244.0,334.2 L244.5,337.1 L245.0,340.1 L245.5,343.1 L246.0,346.1 L246.4,349.0 L246.9,352.0 L247.4,355.0 L247.9,357.9 L248.4,360.9 L248.9,363.9 L249.4,366.9 L249.9,369.8 L250.4,372.8 L250.9,375.8 L251.4,378.7 L251.9,381.7 L252.4,384.7 L252.9,387.7 L253.4,390.6 L253.9,393.6 L254.4,396.6 L254.9,399.5 L255.4,402.5 L255.9,405.5 L256.4,408.5 L256.9,411.4 L257.4,414.4 L257.9,417.4 L258.4,420.3 L259.0,423.3 L259.5,426.3 L260.0,429.2 L260.5,432.2 L261.0,435.2 L261.6,438.1 L262.1,441.1 L262.6,444.1 L263.2,447.0 L263.7,450.0 L264.2,452.9 L264.8,455.9 L265.3,458.9 L265.9,461.8 L266.4,464.8 L267.0,467.7 L267.5,470.7 L268.1,473.7 L268.6,476.6 L269.2,479.6 L269.8,482.5 L270.3,485.5 L270.9,488.4 L271.5,491.4 L272.1,494.3 L272.7,497.3 L273.2,500.2 L273.8,503.2 L274.4,506.1 L275.0,509.1 L275.6,512.0 L276.3,515.0 L276.9,517.9 L277.5,520.8 L278.1,523.8 L278.7,526.7 L279.4,529.7 L280.0,532.6 L280.7,535.5 L281.3,538.5 L282.0,541.4 L282.6,544.3 L283.3,547.3 L284.0,550.2 L284.6,553.1 L285.3,556.0 L286.0,559.0 L286.8,561.9 L287.7,564.8 L288.6,567.7 L289.5,570.6 L290.5,573.6 L291.4,576.5 L292.3,579.4 L293.3,582.3 L294.2,585.2 L295.2,588.1 L296.1,591.0 L297.1,593.9 L298.0,596.8 L299.0,599.7 L300.0,602.6 L301.0,605.5 L302.0,608.4 L303.0,611.3 L304.0,614.2 L305.0,617.1 L306.0,620.0 L307.1,622.9 L308.1,625.8 L309.2,628.6 L310.2,631.5 L311.3,634.4 L312.3,637.3 L313.4,640.2 L314.5,643.0 L315.6,645.9 L316.7,648.8 L317.8,651.6 L318.9,654.5 L320.0,657.4 L321.2,660.2 L322.3,663.1 L323.4,665.9 L324.6,668.8 L325.8,671.6 L326.9,674.5 L328.1,677.3 L329.3,680.2 L330.3,683.0 L331.3,685.8 L332.3,688.7 L333.3,691.5 L334.4,694.3 L335.4,697.1 L336.5,700.0 L337.5,702.8 L338.6,705.6 L339.7,708.4 L340.8,711.2 L341.9,714.0 L343.0,716.8 L344.1,719.6 L345.2,722.4 L346.3,725.2 L347.5,728.0 L348.6,730.8 L349.8,733.6 L351.0,736.4 L352.1,739.1 L353.3,741.9 L354.5,744.7 L355.7,747.4 L357.0,750.2 L358.2,752.9 L359.4,755.7 L360.7,758.4 L361.9,761.2 L363.2,763.9 L364.4,766.6 L365.7,769.4 L367.0,772.1 L368.3,774.8 L369.6,777.5 L371.0,780.2 L372.3,782.9 L373.6,785.6 L375.0,788.3 L376.3,791.0 L377.6,793.7 L378.8,796.3 L380.1,799.0 L381.4,801.7 L382.7,804.3 L384.0,807.0 L385.3,809.6 L386.6,812.3 L387.9,814.9 L389.3,817.5 L390.6,820.2 L392.0,822.8 L393.4,825.4 L394.8,828.0 L396.2,830.6 L397.6,833.2 L399.0,835.8 L400.4,838.3 L401.9,840.9 L403.3,843.5 L404.8,846.0 L406.2,848.6 L407.7,851.1 L409.2,853.7 L410.7,856.2 L412.2,858.7 L413.8,861.3 L415.3,863.8 L416.8,866.3 L418.4,868.8 L420.0,871.3 L421.5,873.7 L423.1,876.2 L424.7,878.7" stroke="#00ffff" stroke-width="3.6" fill="none"/>
<circle cx="152" cy="192.5" r="7" stroke="#ff00ff" stroke-width="2" fill="none"/>
<circle cx="146.5" cy="657.5" r="5.5" stroke="#ff00ff" stroke-width="2" fill="none"/>
<circle cx="769" cy="1329" r="4.5" stroke="#ff00ff" stroke-width="2" fill="none"/>
<path d="M151,660 L151,195 L224,195" stroke="#a8a8ff" stroke-width="7.199999999999999" fill="none" stroke-linejoin="round"/>
<path d="M223.2,195.2 L223.8,198.1 L224.4,201.1 L225.0,204.0 L225.6,207.0 L226.2,209.9 L226.8,212.8 L227.3,215.8 L227.9,218.7 L228.5,221.7 L229.1,224.6 L229.6,227.6 L230.2,230.5 L230.8,233.5 L231.3,236.4 L231.9,239.4 L232.4,242.3 L233.0,245.3 L233.5,248.2 L234.1,251.2 L234.6,254.1 L235.2,257.1 L235.7,260.0 L236.2,263.0 L236.8,266.0 L237.3,268.9 L237.8,271.9 L238.3,274.8 L238.9,277.8 L239.4,280.8 L239.9,283.7 L240.4,286.7 L240.9,289.7 L241.4,292.6 L241.9,295.6 L242.5,298.6 L243.0,301.5 L243.5,304.5 L244.0,307.5 L244.5,310.4 L245.0,313.4 L245.5,316.4 L246.0,319.3 L246.5,322.3 L247.0,325.3 L247.5,328.2 L248.0,331.2 L248.5,334.2 L249.0,337.1 L249.5,340.1 L250.0,343.1 L250.5,346.1 L250.9,349.0 L251.4,352.0 L251.9,355.0 L252.4,357.9 L252.9,360.9 L253.4,363.9 L253.9,366.9 L254.4,369.8 L254.9,372.8 L255.4,375.8 L255.9,378.7 L256.4,381.7 L256.9,384.7 L257.4,387.7 L257.9,390.6 L258.4,393.6 L258.9,396.6 L259.4,399.5 L259.9,402.5 L260.4,405.5 L260.9,408.5 L261.4,411.4 L261.9,414.4 L262.4,417.4 L262.9,420.3 L263.5,423.3 L264.0,426.3 L264.5,429.2 L265.0,432.2 L265.5,435.2 L266.1,438.1 L266.6,441.1 L267.1,444.1 L267.7,447.0 L268.2,450.0 L268.7,452.9 L269.3,455.9 L269.8,458.9 L270.4,461.8 L270.9,464.8 L271.5,467.7 L272.0,470.7 L272.6,473.7 L273.1,476.6 L273.7,479.6 L274.3,482.5 L274.8,485.5 L275.4,488.4 L276.0,491.4 L276.6,494.3 L277.2,497.3 L277.7,500.2 L278.3,503.2 L278.9,506.1 L279.5,509.1 L280.1,512.0 L280.8,515.0 L281.4,517.9 L282.0,520.8 L282.6,523.8 L283.2,526.7 L283.9,529.7 L284.5,532.6 L285.2,535.5 L285.8,538.5 L286.5,541.4 L287.1,544.3 L287.8,547.3 L288.5,550.2 L289.1,553.1 L289.8,556.0 L290.5,559.0 L291.2,561.9 L291.9,564.8 L292.6,567.7 L293.3,570.6 L294.0,573.6 L294.7,576.5 L295.4,579.4 L296.2,582.3 L296.9,585.2 L297.7,588.1 L298.4,591.0 L299.2,593.9 L299.9,596.8 L300.7,599.7 L301.5,602.6 L302.3,605.5 L303.1,608.4 L303.9,611.3 L304.7,614.2 L305.5,617.1 L306.3,620.0 L307.1,622.9 L308.0,625.8 L308.8,628.6 L309.6,631.5 L310.5,634.4 L311.4,637.3 L312.2,640.2 L313.1,643.0 L314.0,645.9 L314.9,648.8 L315.8,651.6 L316.7,654.5 L317.6,657.4 L318.6,660.2 L319.5,663.1 L320.4,665.9 L321.4,668.8 L322.4,671.6 L323.3,674.5 L324.3,677.3 L325.3,680.2 L326.3,683.0 L327.3,685.8 L328.3,688.7 L329.3,691.5 L330.4,694.3 L331.4,697.1 L332.5,700.0 L333.5,702.8 L334.6,705.6 L335.7,708.4 L336.8,711.2 L337.9,714.0 L339.0,716.8 L340.1,719.6 L341.2,722.4 L342.3,725.2 L343.5,728.0 L344.6,730.8 L345.8,733.6 L347.0,736.4 L348.1,739.1 L349.3,741.9 L350.5,744.7 L351.7,747.4 L353.0,750.2 L354.2,752.9 L355.4,755.7 L356.7,758.4 L357.9,761.2 L359.2,763.9 L360.4,766.6 L361.7,769.4 L363.0,772.1 L364.3,774.8 L365.6,777.5 L367.0,780.2 L368.3,782.9 L369.6,785.6 L371.0,788.3 L372.3,791.0 L373.7,793.7 L375.1,796.3 L376.5,799.0 L377.9,801.7 L379.3,804.3 L380.7,807.0 L382.2,809.6 L383.6,812.3 L385.0,814.9 L386.5,817.5 L388.0,820.2 L389.5,822.8 L391.0,825.4 L392.5,828.0 L394.0,830.6 L395.5,833.2 L397.0,835.8 L398.6,838.3 L400.1,840.9 L401.7,843.5 L403.3,846.0 L404.8,848.6 L406.4,851.1 L408.0,853.7 L409.7,856.2 L411.3,858.7 L412.9,861.3 L414.6,863.8 L416.2,866.3 L417.9,868.8 L419.6,871.3 L421.3,873.7 L423.0,876.2 L424.7,878.7 L426.4,881.1 L428.1,883.6 L429.9,886.0 L431.6,888.5 L433.4,890.9 L435.2,893.3 L437.0,895.7 L438.8,898.1 L440.6,900.5 L442.4,902.9 L444.2,905.3 L446.1,907.7 L447.9,910.0 L449.8,912.4 L451.7,914.7 L453.5,917.1 L455.4,919.4 L457.4,921.7 L459.3,924.0 L461.2,926.3 L463.2,928.6 L465.1,930.9 L467.1,933.2 L469.1,935.4 L471.0,937.7 L473.0,939.9 L475.1,942.1 L477.1,944.3 L479.1,946.5 L481.2,948.7 L483.2,950.9 L485.3,953.1 L487.4,955.2 L489.5,957.4 L491.6,959.5 L493.7,961.6 L495.8,963.8 L498.0,965.9 L500.1,967.9 L502.3,970.0 L504.5,972.1 L506.7,974.1 L508.9,976.2 L511.1,978.2 L513.3,980.2 L515.5,982.2 L517.8,984.2 L520.0,986.1 L522.3,988.1 L524.6,990.1 L526.9,992.0 L529.2,993.9 L531.5,995.8 L533.8,997.8 L536.1,999.6 L538.5,1001.5 L540.8,1003.4 L543.2,1005.3 L545.5,1007.1 L547.9,1009.0 L550.3,1010.8 L552.7,1012.6 L555.0,1014.4 L557.4,1016.2 L559.9,1018.0 L562.3,1019.8 L564.7,1021.5 L567.1,1023.3 L569.6,1025.0 L572.0,1026.8 L574.5,1028.5 L576.9,1030.2 L579.4,1032.0 L581.9,1033.7 L584.4,1035.3 L586.8,1037.0 L589.3,1038.7 L591.8,1040.4 L594.3,1042.0 L596.8,1043.7 L599.3,1045.3 L601.9,1047.0 L604.4,1048.6 L606.9,1050.2 L609.5,1051.8 L612.0,1053.4 L614.5,1055.0 L617.1,1056.6 L619.7,1058.1 L622.2,1059.7 L624.8,1061.2 L627.4,1062.8 L629.9,1064.3 L632.5,1065.8 L635.1,1067.4 L637.7,1068.9 L640.3,1070.4 L642.9,1071.9 L645.5,1073.4 L648.1,1074.8 L650.8,1076.3 L653.4,1077.8 L656.0,1079.2 L658.7,1080.7 L661.3,1082.1 L663.9,1083.5 L666.6,1084.9 L669.2,1086.3 L671.9,1087.7 L674.6,1089.1 L677.2,1090.5 L679.9,1091.9 L682.6,1093.3 L685.3,1094.6 L687.9,1096.0 L690.6,1097.3 L693.3,1098.7 L696.0,1100.0 L698.7,1101.3 L701.4,1102.6 L704.1,1103.9 L706.9,1105.2 L709.6,1106.5 L712.3,1107.8 L715.0,1109.1 L717.8,1110.4 L720.5,1111.6 L723.2,1112.9 L726.0,1114.1 L728.7,1115.4 L731.5,1116.6 L734.2,1117.8 L737.0,1119.0 L739.7,1120.2 L742.5,1121.4 L745.3,1122.6 L748.0,1123.8 L750.8,1125.0 L753.6,1126.2 L756.4,1127.3 L759.2,1128.5 L761.9,1129.6 L764.7,1130.8 L767.5,1131.9 L770.3,1133.0 L773.1,1134.1 L775.9,1135.3 L778.7,1136.4 L781.5,1137.5 L784.4,1138.5 L787.2,1139.6 L790.0,1140.7 L792.8,1141.8 L795.6,1142.8 L798.5,1143.9 L801.3,1144.9 L804.1,1146.0 L806.9,1147.0 L809.8,1148.1 L812.6,1149.1 L815.5,1150.1 L818.3,1151.1 L821.2,1152.1 L824.0,1153.1 L826.9,1154.1 L829.7,1155.1 L832.6,1156.0 L835.4,1157.0 L838.3,1158.0 L841.1,1158.9 L844.0,1159.9 L846.9,1160.8 L849.7,1161.7 L852.6,1162.7 L855.5,1163.6 L858.4,1164.5 L861.2,1165.4 L864.1,1166.3 L867.0,1167.2 L869.9,1168.1 L872.7,1169.0 L875.6,1169.9 L878.5,1170.7 L881.4,1171.6 L884.3,1172.5 L887.2,1173.3 L890.1,1174.2 L893.0,1175.0 L895.9,1175.8 L898.7,1176.7 L901.6,1177.5 L904.5,1178.3 L907.4,1179.1 L910.3,1179.9 L913.2,1180.7 L916.1,1181.5 L919.0,1182.3 L922.0,1183.1 L924.9,1183.9 L927.8,1184.6 L930.7,1185.4 L933.6,1186.2 L936.5,1186.9 L939.4,1187.7 L942.3,1188.4 L945.2,1189.1 L948.1,1189.9 L951.1,1190.6 L954.0,1191.3 L956.9,1192.0 L959.8,1192.7 L962.7,1193.4 L965.7,1194.1 L968.6,1194.8 L971.5,1195.5 L974.4,1196.2 L977.3,1196.9 L980.3,1197.6 L983.2,1198.2 L986.1,1198.9 L989.1,1199.6 L992.0,1200.2 L994.9,1200.9 L997.9,1201.5 L1000.8,1202.2 L1003.7,1202.8 L1006.7,1203.4 L1009.6,1204.0 L1012.5,1204.7 L1015.5,1205.3 L1018.4,1205.9 L1021.3,1206.5 L1024.3,1207.1 L1027.2,1207.7 L1030.2,1208.3 L1033.1,1208.9 L1036.1,1209.5 L1039.0,1210.1 L1041.9,1210.7 L1044.9,1211.2 L1047.8,1211.8 L1050.8,1212.4 L1053.7,1212.9 L1056.7,1213.5 L1059.6,1214.1 L1062.6,1214.6 L1065.5,1215.2 L1068.5,1215.7 L1071.4,1216.2 L1074.4,1216.8 L1077.3,1217.3 L1080.3,1217.8 L1083.3,1218.4 L1086.2,1218.9 L1089.2,1219.4 L1092.1,1219.9 L1095.1,1220.4 L1098.1,1220.9 L1101.0,1221.4 L1104.0,1221.9 L1106.9,1222.4 L1109.9,1222.9 L1112.9,1223.4 L1115.8,1223.9 L1118.8,1224.4 L1121.8,1224.9 L1124.7,1225.4 L1127.7,1225.9 L1130.7,1226.3 L1133.6,1226.8 L1136.6,1227.3 L1139.6,1227.7 L1142.5,1228.2 L1145.5,1228.7 L1148.5,1229.1 L1151.4,1229.6 L1154.4,1230.0 L1157.4,1230.5 L1160.4,1230.9 L1163.3,1231.4 L1166.3,1231.8 L1169.3,1232.2 L1172.2,1232.7 L1175.2,1233.1 L1178.2,1233.6 L1181.2,1234.0 L1184.2,1234.4 L1187.1,1234.8 L1190.1,1235.3 L1193.1,1235.7 L1196.1,1236.1 L1199.0,1236.5 L1202.0,1236.9 L1205.0,1237.3 L1208.0,1237.8 L1211.0,1238.2 L1213.9,1238.6 L1216.9,1239.0 L1219.9,1239.4 L1222.9,1239.8 L1225.9,1240.2 L1228.8,1240.6 L1231.8,1241.0 L1234.8,1241.4 L1237.8,1241.8 L1240.8,1242.2 L1243.8,1242.6 L1246.7,1243.0 L1249.7,1243.4 L1252.7,1243.7 L1255.7,1244.1 L1258.7,1244.5 L1261.7,1244.9 L1264.7,1245.3 L1267.6,1245.7 L1270.6,1246.0 L1273.6,1246.4 L1276.6,1246.8 L1279.6,1247.2 L1282.6,1247.6 L1285.6,1247.9 L1288.6,1248.3 L1291.5,1248.7 L1294.5,1249.1 L1297.5,1249.4 L1300.5,1249.8 L1303.5,1250.2 L1306.5,1250.5 L1309.5,1250.9 L1312.5,1251.3 L1315.4,1251.7 L1318.4,1252.0 L1321.4,1252.4 L1324.4,1252.8 L1327.4,1253.1 L1330.4,1253.5 L1333.4,1253.9 L1336.4,1254.2 L1339.4,1254.6 L1342.4,1254.9 L1345.3,1255.3 L1348.3,1255.7 L1351.3,1256.0 L1354.3,1256.4 L1357.3,1256.7 L1360.3,1257.1 L1363.3,1257.4 L1366.3,1257.8 L1369.3,1258.1 L1372.3,1258.5 L1375.3,1258.9 L1378.2,1259.2 L1381.2,1259.5 L1384.2,1259.9 L1387.2,1260.2 L1390.2,1260.6 L1393.2,1260.9 L1396.2,1261.3 L1399.2,1261.6 L1402.2,1261.9 L1405.2,1262.3 L1408.2,1262.6 L1411.2,1263.0 L1414.2,1263.3 L1417.1,1263.6 L1420.1,1263.9 L1423.1,1264.3 L1426.1,1264.6 L1429.1,1264.9 L1432.1,1265.3 L1435.1,1265.6 L1438.1,1265.9 L1441.1,1266.2 L1444.1,1266.5 L1447.1,1266.9 L1450.1,1267.2 L1453.1,1267.5 L1456.1,1267.8 L1459.1,1268.1 L1462.1,1268.4 L1465.1,1268.7 L1468.1,1269.0 L1471.0,1269.3 L1474.0,1269.6 L1477.0,1269.9 L1480.0,1270.2 L1483.0,1270.5 L1486.0,1270.8 L1489.0,1271.1 L1492.0,1271.4 L1495.0,1271.7 L1498.0,1271.9 L1501.0,1272.2 L1504.0,1272.5 L1507.0,1272.8 L1510.0,1273.1 L1513.0,1273.3 L1516.0,1273.6 L1519.0,1273.9 L1522.0,1274.2 L1525.0,1274.4 L1528.0,1274.7 L1531.0,1274.9 L1534.0,1275.2 L1537.0,1275.5 L1540.0,1275.7 L1543.0,1276.0 L1546.0,1276.2 L1549.0,1276.5 L1552.0,1276.7 L1555.0,1276.9 L1558.0,1277.2 L1561.0,1277.4 L1563.9,1277.7 L1566.9,1277.9 L1569.9,1278.1 L1572.9,1278.4 L1575.9,1278.6 L1578.9,1278.8 L1581.9,1279.0 L1584.9,1279.2 L1587.9,1279.4 L1590.9,1279.7 L1593.9,1279.9 L1596.9,1280.1 L1599.9,1280.3 L1602.9,1280.5 L1605.9,1280.7 L1608.9,1280.9 L1611.9,1281.1 L1614.9,1281.3 L1617.9,1281.4 L1620.9,1281.6 L1623.9,1281.8 L1626.9,1282.0 L1629.9,1282.2 L1632.9,1282.3 L1635.9,1282.5 L1638.9,1282.7 L1641.9,1282.8 L1644.9,1283.0 L1647.9,1283.1 L1650.9,1283.3 L1653.9,1283.5 L1656.9,1283.6 L1659.9,1283.7 L1662.9,1283.9 L1665.9,1284.0 L1668.9,1284.2 L1671.9,1284.3 L1674.9,1284.4" stroke="#a8a8ff" stroke-width="7.4" fill="none" stroke-linejoin="round"/>
<path d="M152.2,656.0 L152.7,659.0 L153.1,661.9 L153.6,664.9 L154.1,667.8 L154.5,670.8 L155.0,673.8 L155.4,676.7 L155.8,679.7 L156.2,682.7 L156.6,685.7 L157.0,688.6 L157.4,691.6 L157.8,694.6 L158.2,697.6 L158.6,700.6 L158.9,703.5 L159.3,706.5 L159.6,709.5 L160.0,712.5 L160.3,715.5 L160.7,718.5 L161.0,721.5 L161.3,724.5 L161.7,727.4 L162.0,730.4 L162.3,733.4 L162.7,736.4 L163.0,739.4 L163.3,742.4 L163.6,745.4 L164.0,748.4 L164.3,751.4 L164.6,754.3 L165.0,757.3 L165.3,760.3 L165.6,763.3 L166.0,766.3 L166.3,769.3 L166.7,772.3 L167.0,775.3 L167.4,778.2 L167.7,781.2 L168.1,784.2 L168.5,787.2 L168.8,790.2 L169.2,793.1 L169.6,796.1 L170.0,799.1 L170.4,802.1 L170.8,805.0 L171.3,808.0 L171.7,811.0 L172.1,814.0 L172.6,816.9 L173.0,819.9 L173.5,822.8 L174.0,825.8 L174.5,828.8 L175.0,831.7 L175.5,834.7 L176.1,837.6 L176.6,840.6 L177.2,843.5 L177.7,846.4 L178.3,849.4 L178.9,852.3 L179.5,855.3 L180.2,858.2 L180.8,861.1 L181.5,864.0 L182.2,867.0 L182.9,869.9 L183.6,872.8 L184.3,875.7 L185.1,878.6 L185.8,881.5 L186.6,884.4 L187.4,887.3 L188.2,890.2 L189.0,893.1 L189.8,896.0 L190.6,898.9 L191.4,901.8 L192.3,904.7 L193.1,907.6 L194.0,910.4 L194.9,913.3 L195.7,916.2 L196.6,919.1 L197.5,922.0 L198.4,924.8 L199.3,927.7 L200.2,930.6 L201.1,933.5 L202.0,936.3 L202.9,939.2 L203.8,942.1 L204.7,944.9 L205.6,947.8 L206.5,950.7 L207.4,953.5 L208.3,956.4 L209.2,959.3 L210.1,962.1 L211.0,965.0 L211.9,967.9 L212.8,970.7 L213.7,973.6 L214.6,976.5 L215.4,979.3 L216.3,982.2 L217.2,985.1 L218.0,988.0 L218.9,990.8 L219.7,993.7 L220.6,996.6 L221.4,999.4 L222.3,1002.3 L223.1,1005.2 L223.9,1008.1 L224.8,1011.0 L225.6,1013.8 L226.4,1016.7 L227.2,1019.6 L228.0,1022.5 L228.8,1025.4 L229.6,1028.3 L230.4,1031.2 L231.2,1034.1 L232.0,1037.0 L232.8,1039.9 L233.6,1042.8 L234.4,1045.7 L235.2,1048.6 L236.0,1051.5 L236.8,1054.4 L237.6,1057.3 L238.4,1060.2 L239.4,1063.1 L240.3,1065.9 L241.3,1068.7 L242.4,1071.5 L243.6,1074.2 L244.8,1076.9 L246.2,1079.5 L247.7,1082.1 L249.2,1084.6 L250.7,1087.2 L252.3,1089.7 L253.9,1092.2 L255.5,1094.7 L257.2,1097.2 L258.8,1099.8 L260.5,1102.3 L262.2,1104.8 L263.8,1107.3 L265.5,1109.8 L267.2,1112.2 L268.9,1114.7 L270.7,1117.2 L272.4,1119.7 L274.1,1122.2 L275.8,1124.6 L277.5,1127.1 L279.3,1129.5 L281.0,1132.0 L282.8,1134.4 L284.5,1136.8 L286.3,1139.2 L288.1,1141.6 L289.9,1144.0 L291.7,1146.4 L293.5,1148.7 L295.4,1151.1 L297.2,1153.4 L299.1,1155.7 L301.0,1158.0 L302.9,1160.3 L304.9,1162.5 L306.9,1164.8 L308.9,1167.0 L310.9,1169.2 L312.9,1171.4 L315.0,1173.5 L317.1,1175.6 L319.3,1177.7 L321.5,1179.8 L323.6,1181.9 L325.9,1183.9 L328.1,1185.9 L330.4,1187.9 L332.6,1189.9 L334.9,1191.9 L337.2,1193.9 L339.5,1195.9 L341.8,1197.8 L344.1,1199.8 L346.5,1201.7 L348.8,1203.7 L351.1,1205.6 L353.4,1207.5 L355.7,1209.5 L358.0,1211.4 L360.3,1213.3 L362.7,1215.2 L365.0,1217.1 L367.3,1219.0 L369.7,1220.8 L372.1,1222.7 L374.4,1224.5 L376.8,1226.3 L379.2,1228.0 L381.6,1229.8 L384.1,1231.5 L386.5,1233.1 L389.0,1234.8 L391.5,1236.4 L394.0,1238.0 L396.6,1239.5 L399.1,1241.0 L401.7,1242.4 L404.4,1243.8 L407.0,1245.2 L409.7,1246.5 L412.4,1247.8 L415.1,1249.1 L417.8,1250.3 L420.6,1251.5 L423.4,1252.6 L426.1,1253.8 L428.9,1254.9 L431.7,1256.0 L434.6,1257.1 L437.4,1258.1 L440.2,1259.2 L443.1,1260.2 L445.9,1261.3 L448.7,1262.3 L451.6,1263.3 L454.4,1264.3 L457.3,1265.4 L460.1,1266.4 L463.0,1267.4 L465.8,1268.4 L468.6,1269.4 L471.5,1270.4 L474.3,1271.4 L477.2,1272.4 L480.0,1273.4 L482.9,1274.4 L485.7,1275.4 L488.6,1276.3 L491.4,1277.3 L494.2,1278.3 L497.1,1279.2 L499.9,1280.2 L502.8,1281.1 L505.7,1282.1 L508.5,1283.0 L511.4,1283.9 L514.2,1284.8 L517.1,1285.7 L519.9,1286.6 L522.8,1287.5 L525.7,1288.4 L528.5,1289.3 L531.4,1290.2 L534.3,1291.0 L537.1,1291.9 L540.0,1292.8 L542.9,1293.6 L545.8,1294.4 L548.6,1295.2 L551.5,1296.1 L554.4,1296.9 L557.3,1297.6 L560.2,1298.4 L563.1,1299.2 L566.0,1300.0 L568.9,1300.7 L571.8,1301.5 L574.7,1302.2 L577.6,1302.9 L580.5,1303.6 L583.4,1304.3 L586.3,1305.0 L589.2,1305.7 L592.2,1306.3 L595.1,1307.0 L598.0,1307.6 L600.9,1308.2 L603.9,1308.8 L606.8,1309.4 L609.8,1310.0 L612.7,1310.6 L615.7,1311.1 L618.6,1311.7 L621.6,1312.2 L624.5,1312.7 L627.5,1313.2 L630.5,1313.7 L633.5,1314.2 L636.4,1314.7 L639.4,1315.2 L642.4,1315.6 L645.4,1316.1 L648.3,1316.5 L651.3,1316.9 L654.3,1317.4 L657.3,1317.8 L660.3,1318.2 L663.3,1318.6 L666.3,1318.9 L669.3,1319.3 L672.3,1319.7 L675.3,1320.0 L678.2,1320.4 L681.2,1320.7 L684.2,1321.1 L687.2,1321.4 L690.2,1321.7 L693.2,1322.0 L696.2,1322.3 L699.2,1322.7 L702.2,1323.0 L705.2,1323.2 L708.2,1323.5 L711.2,1323.8 L714.2,1324.1 L717.2,1324.4 L720.2,1324.6 L723.2,1324.9 L726.2,1325.2 L729.2,1325.4 L732.2,1325.7 L735.2,1325.9 L738.2,1326.2 L741.2,1326.4 L744.2,1326.6 L747.2,1326.9 L750.2,1327.1 L753.2,1327.3 L756.2,1327.5 L759.1,1327.8 L762.1,1328.0 L765.1,1328.2 L768.1,1328.4 L771.1,1328.6 L774.1,1328.8 L777.1,1329.0 L780.1,1329.2 L783.1,1329.4 L786.1,1329.6 L789.1,1329.7 L792.0,1329.9 L795.0,1330.1 L798.0,1330.3 L801.0,1330.5 L804.0,1330.6 L807.0,1330.8 L810.0,1331.0 L813.0,1331.1 L816.0,1331.3 L819.0,1331.5 L822.0,1331.6 L825.0,1331.8 L827.9,1331.9 L830.9,1332.1 L833.9,1332.2 L836.9,1332.4 L839.9,1332.5 L842.9,1332.7 L845.9,1332.8 L848.9,1333.0 L851.9,1333.1 L854.9,1333.3 L857.9,1333.4 L860.9,1333.6 L863.9,1333.7 L866.9,1333.8 L869.9,1334.0 L872.9,1334.1 L875.9,1334.3 L878.9,1334.4 L881.9,1334.5 L884.9,1334.7 L887.9,1334.8 L890.9,1334.9 L893.9,1335.1 L896.9,1335.2 L899.9,1335.3 L902.9,1335.5 L905.9,1335.6 L908.9,1335.7 L911.9,1335.9 L915.0,1336.0 L918.0,1336.1 L921.0,1336.2 L924.0,1336.4 L927.0,1336.5 L930.0,1336.6 L933.0,1336.8 L936.0,1336.9 L939.0,1337.0 L942.0,1337.1 L945.0,1337.3 L948.0,1337.4 L951.0,1337.5 L954.0,1337.6 L957.0,1337.8 L960.0,1337.9 L963.0,1338.0 L966.1,1338.1 L969.1,1338.3 L972.1,1338.4 L975.1,1338.5 L978.1,1338.6 L981.1,1338.8 L984.1,1338.9 L987.1,1339.0 L990.1,1339.2 L993.1,1339.3 L996.1,1339.4 L999.1,1339.5 L1002.1,1339.7 L1005.1,1339.8 L1008.1,1339.9 L1011.1,1340.0 L1014.1,1340.2 L1017.1,1340.3 L1020.1,1340.4 L1023.1,1340.5 L1026.1,1340.7 L1029.1,1340.8 L1032.2,1340.9 L1035.2,1341.1 L1038.2,1341.2 L1041.2,1341.3 L1044.2,1341.4 L1047.2,1341.6 L1050.2,1341.7 L1053.2,1341.8 L1056.2,1341.9 L1059.2,1342.0 L1062.2,1342.2 L1065.2,1342.3 L1068.2,1342.4 L1071.2,1342.5 L1074.2,1342.7 L1077.2,1342.8 L1080.2,1342.9 L1083.2,1343.0 L1086.2,1343.1 L1089.2,1343.3 L1092.2,1343.4 L1095.2,1343.5 L1098.2,1343.6 L1101.2,1343.7 L1104.2,1343.8 L1107.2,1343.9 L1110.2,1344.1 L1113.2,1344.2 L1116.2,1344.3 L1119.2,1344.4 L1122.2,1344.5 L1125.2,1344.6 L1128.2,1344.7 L1131.2,1344.8 L1134.2,1344.9 L1137.2,1345.0 L1140.2,1345.1 L1143.2,1345.2 L1146.2,1345.4 L1149.2,1345.5 L1152.2,1345.6 L1155.2,1345.7 L1158.2,1345.8 L1161.2,1345.8 L1164.2,1345.9 L1167.2,1346.0 L1170.3,1346.1 L1173.3,1346.2 L1176.3,1346.3 L1179.3,1346.4 L1182.3,1346.5 L1185.3,1346.6 L1188.3,1346.7 L1191.3,1346.8 L1194.3,1346.8 L1197.3,1346.9 L1200.3,1347.0 L1203.3,1347.1 L1206.3,1347.2 L1209.3,1347.3 L1212.3,1347.3 L1215.3,1347.4 L1218.3,1347.5 L1221.3,1347.6 L1224.3,1347.6 L1227.3,1347.7 L1230.3,1347.8 L1233.3,1347.9 L1236.3,1347.9 L1239.3,1348.0 L1242.3,1348.1 L1245.3,1348.1 L1248.3,1348.2 L1251.3,1348.3 L1254.3,1348.3 L1257.3,1348.4 L1260.3,1348.5 L1263.4,1348.5 L1266.4,1348.6 L1269.4,1348.7 L1272.4,1348.7 L1275.4,1348.8 L1278.4,1348.8 L1281.4,1348.9 L1284.4,1349.0 L1287.4,1349.0 L1290.4,1349.1 L1293.4,1349.1 L1296.4,1349.2 L1299.4,1349.2 L1302.4,1349.3 L1305.4,1349.3 L1308.4,1349.4 L1311.4,1349.5 L1314.4,1349.5 L1317.4,1349.6 L1320.4,1349.6 L1323.4,1349.7 L1326.4,1349.7 L1329.4,1349.8 L1332.5,1349.8 L1335.5,1349.9 L1338.5,1349.9 L1341.5,1350.0 L1344.5,1350.0 L1347.5,1350.0 L1350.5,1350.1 L1353.5,1350.1 L1356.5,1350.2 L1359.5,1350.2 L1362.5,1350.3 L1365.5,1350.3 L1368.5,1350.4 L1371.5,1350.4 L1374.5,1350.5 L1377.5,1350.5 L1380.5,1350.5 L1383.5,1350.6 L1386.5,1350.6 L1389.5,1350.7 L1392.6,1350.7 L1395.6,1350.7 L1398.6,1350.8 L1401.6,1350.8 L1404.6,1350.9 L1407.6,1350.9 L1410.6,1351.0 L1413.6,1351.0 L1416.6,1351.0 L1419.6,1351.1 L1422.6,1351.1 L1425.6,1351.2 L1428.6,1351.2 L1431.6,1351.2 L1434.6,1351.3 L1437.6,1351.3 L1440.6,1351.3 L1443.6,1351.4 L1446.6,1351.4 L1449.7,1351.5 L1452.7,1351.5 L1455.7,1351.5 L1458.7,1351.6 L1461.7,1351.6 L1464.7,1351.7 L1467.7,1351.7 L1470.7,1351.7 L1473.7,1351.8 L1476.7,1351.8 L1479.7,1351.9 L1482.7,1351.9 L1485.7,1351.9 L1488.7,1352.0 L1491.7,1352.0 L1494.7,1352.1 L1497.7,1352.1 L1500.7,1352.1 L1503.7,1352.2 L1506.7,1352.2 L1509.8,1352.3 L1512.8,1352.3 L1515.8,1352.3 L1518.8,1352.4 L1521.8,1352.4 L1524.8,1352.5 L1527.8,1352.5 L1530.8,1352.6 L1533.8,1352.6 L1536.8,1352.6 L1539.8,1352.7 L1542.8,1352.7 L1545.8,1352.8 L1548.8,1352.8 L1551.8,1352.9 L1554.8,1352.9 L1557.8,1353.0 L1560.8,1353.0 L1563.8,1353.1 L1566.8,1353.1 L1569.9,1353.2 L1572.9,1353.2 L1575.9,1353.2 L1578.9,1353.3 L1581.9,1353.3 L1584.9,1353.4 L1587.9,1353.5 L1590.9,1353.5 L1593.9,1353.6 L1596.9,1353.6 L1599.9,1353.7 L1602.9,1353.7 L1605.9,1353.8 L1608.9,1353.8 L1611.9,1353.9 L1614.9,1353.9 L1617.9,1354.0 L1620.9,1354.1 L1623.9,1354.1 L1626.9,1354.2 L1629.9,1354.2 L1632.9,1354.3 L1635.9,1354.4 L1638.9,1354.4 L1642.0,1354.5 L1645.0,1354.5 L1648.0,1354.6 L1651.0,1354.7 L1654.0,1354.7 L1657.0,1354.8 L1660.0,1354.9 L1663.0,1355.0 L1666.0,1355.0 L1669.0,1355.1 L1672.0,1355.2 L1675.0,1355.2" stroke="#a8a8ff" stroke-width="7.4" fill="none" stroke-linejoin="round"/>
<path d="M1674.5,1279 L1674.5,1363" stroke="#a8a8ff" stroke-width="8.6" fill="none" stroke-linejoin="round"/>
<path d="M151,660 L151,195 L224,195" stroke="#0000ff" stroke-width="4.6" fill="none" stroke-linejoin="miter"/>
<path d="M223.2,195.2 L223.8,198.1 L224.4,201.1 L225.0,204.0 L225.6,207.0 L226.2,209.9 L226.8,212.8 L227.3,215.8 L227.9,218.7 L228.5,221.7 L229.1,224.6 L229.6,227.6 L230.2,230.5 L230.8,233.5 L231.3,236.4 L231.9,239.4 L232.4,242.3 L233.0,245.3 L233.5,248.2 L234.1,251.2 L234.6,254.1 L235.2,257.1 L235.7,260.0 L236.2,263.0 L236.8,266.0 L237.3,268.9 L237.8,271.9 L238.3,274.8 L238.9,277.8 L239.4,280.8 L239.9,283.7 L240.4,286.7 L240.9,289.7 L241.4,292.6 L241.9,295.6 L242.5,298.6 L243.0,301.5 L243.5,304.5 L244.0,307.5 L244.5,310.4 L245.0,313.4 L245.5,316.4 L246.0,319.3 L246.5,322.3 L247.0,325.3 L247.5,328.2 L248.0,331.2 L248.5,334.2 L249.0,337.1 L249.5,340.1 L250.0,343.1 L250.5,346.1 L250.9,349.0 L251.4,352.0 L251.9,355.0 L252.4,357.9 L252.9,360.9 L253.4,363.9 L253.9,366.9 L254.4,369.8 L254.9,372.8 L255.4,375.8 L255.9,378.7 L256.4,381.7 L256.9,384.7 L257.4,387.7 L257.9,390.6 L258.4,393.6 L258.9,396.6 L259.4,399.5 L259.9,402.5 L260.4,405.5 L260.9,408.5 L261.4,411.4 L261.9,414.4 L262.4,417.4 L262.9,420.3 L263.5,423.3 L264.0,426.3 L264.5,429.2 L265.0,432.2 L265.5,435.2 L266.1,438.1 L266.6,441.1 L267.1,444.1 L267.7,447.0 L268.2,450.0 L268.7,452.9 L269.3,455.9 L269.8,458.9 L270.4,461.8 L270.9,464.8 L271.5,467.7 L272.0,470.7 L272.6,473.7 L273.1,476.6 L273.7,479.6 L274.3,482.5 L274.8,485.5 L275.4,488.4 L276.0,491.4 L276.6,494.3 L277.2,497.3 L277.7,500.2 L278.3,503.2 L278.9,506.1 L279.5,509.1 L280.1,512.0 L280.8,515.0 L281.4,517.9 L282.0,520.8 L282.6,523.8 L283.2,526.7 L283.9,529.7 L284.5,532.6 L285.2,535.5 L285.8,538.5 L286.5,541.4 L287.1,544.3 L287.8,547.3 L288.5,550.2 L289.1,553.1 L289.8,556.0 L290.5,559.0 L291.2,561.9 L291.9,564.8 L292.6,567.7 L293.3,570.6 L294.0,573.6 L294.7,576.5 L295.4,579.4 L296.2,582.3 L296.9,585.2 L297.7,588.1 L298.4,591.0 L299.2,593.9 L299.9,596.8 L300.7,599.7 L301.5,602.6 L302.3,605.5 L303.1,608.4 L303.9,611.3 L304.7,614.2 L305.5,617.1 L306.3,620.0 L307.1,622.9 L308.0,625.8 L308.8,628.6 L309.6,631.5 L310.5,634.4 L311.4,637.3 L312.2,640.2 L313.1,643.0 L314.0,645.9 L314.9,648.8 L315.8,651.6 L316.7,654.5 L317.6,657.4 L318.6,660.2 L319.5,663.1 L320.4,665.9 L321.4,668.8 L322.4,671.6 L323.3,674.5 L324.3,677.3 L325.3,680.2 L326.3,683.0 L327.3,685.8 L328.3,688.7 L329.3,691.5 L330.4,694.3 L331.4,697.1 L332.5,700.0 L333.5,702.8 L334.6,705.6 L335.7,708.4 L336.8,711.2 L337.9,714.0 L339.0,716.8 L340.1,719.6 L341.2,722.4 L342.3,725.2 L343.5,728.0 L344.6,730.8 L345.8,733.6 L347.0,736.4 L348.1,739.1 L349.3,741.9 L350.5,744.7 L351.7,747.4 L353.0,750.2 L354.2,752.9 L355.4,755.7 L356.7,758.4 L357.9,761.2 L359.2,763.9 L360.4,766.6 L361.7,769.4 L363.0,772.1 L364.3,774.8 L365.6,777.5 L367.0,780.2 L368.3,782.9 L369.6,785.6 L371.0,788.3 L372.3,791.0 L373.7,793.7 L375.1,796.3 L376.5,799.0 L377.9,801.7 L379.3,804.3 L380.7,807.0 L382.2,809.6 L383.6,812.3 L385.0,814.9 L386.5,817.5 L388.0,820.2 L389.5,822.8 L391.0,825.4 L392.5,828.0 L394.0,830.6 L395.5,833.2 L397.0,835.8 L398.6,838.3 L400.1,840.9 L401.7,843.5 L403.3,846.0 L404.8,848.6 L406.4,851.1 L408.0,853.7 L409.7,856.2 L411.3,858.7 L412.9,861.3 L414.6,863.8 L416.2,866.3 L417.9,868.8 L419.6,871.3 L421.3,873.7 L423.0,876.2 L424.7,878.7 L426.4,881.1 L428.1,883.6 L429.9,886.0 L431.6,888.5 L433.4,890.9 L435.2,893.3 L437.0,895.7 L438.8,898.1 L440.6,900.5 L442.4,902.9 L444.2,905.3 L446.1,907.7 L447.9,910.0 L449.8,912.4 L451.7,914.7 L453.5,917.1 L455.4,919.4 L457.4,921.7 L459.3,924.0 L461.2,926.3 L463.2,928.6 L465.1,930.9 L467.1,933.2 L469.1,935.4 L471.0,937.7 L473.0,939.9 L475.1,942.1 L477.1,944.3 L479.1,946.5 L481.2,948.7 L483.2,950.9 L485.3,953.1 L487.4,955.2 L489.5,957.4 L491.6,959.5 L493.7,961.6 L495.8,963.8 L498.0,965.9 L500.1,967.9 L502.3,970.0 L504.5,972.1 L506.7,974.1 L508.9,976.2 L511.1,978.2 L513.3,980.2 L515.5,982.2 L517.8,984.2 L520.0,986.1 L522.3,988.1 L524.6,990.1 L526.9,992.0 L529.2,993.9 L531.5,995.8 L533.8,997.8 L536.1,999.6 L538.5,1001.5 L540.8,1003.4 L543.2,1005.3 L545.5,1007.1 L547.9,1009.0 L550.3,1010.8 L552.7,1012.6 L555.0,1014.4 L557.4,1016.2 L559.9,1018.0 L562.3,1019.8 L564.7,1021.5 L567.1,1023.3 L569.6,1025.0 L572.0,1026.8 L574.5,1028.5 L576.9,1030.2 L579.4,1032.0 L581.9,1033.7 L584.4,1035.3 L586.8,1037.0 L589.3,1038.7 L591.8,1040.4 L594.3,1042.0 L596.8,1043.7 L599.3,1045.3 L601.9,1047.0 L604.4,1048.6 L606.9,1050.2 L609.5,1051.8 L612.0,1053.4 L614.5,1055.0 L617.1,1056.6 L619.7,1058.1 L622.2,1059.7 L624.8,1061.2 L627.4,1062.8 L629.9,1064.3 L632.5,1065.8 L635.1,1067.4 L637.7,1068.9 L640.3,1070.4 L642.9,1071.9 L645.5,1073.4 L648.1,1074.8 L650.8,1076.3 L653.4,1077.8 L656.0,1079.2 L658.7,1080.7 L661.3,1082.1 L663.9,1083.5 L666.6,1084.9 L669.2,1086.3 L671.9,1087.7 L674.6,1089.1 L677.2,1090.5 L679.9,1091.9 L682.6,1093.3 L685.3,1094.6 L687.9,1096.0 L690.6,1097.3 L693.3,1098.7 L696.0,1100.0 L698.7,1101.3 L701.4,1102.6 L704.1,1103.9 L706.9,1105.2 L709.6,1106.5 L712.3,1107.8 L715.0,1109.1 L717.8,1110.4 L720.5,1111.6 L723.2,1112.9 L726.0,1114.1 L728.7,1115.4 L731.5,1116.6 L734.2,1117.8 L737.0,1119.0 L739.7,1120.2 L742.5,1121.4 L745.3,1122.6 L748.0,1123.8 L750.8,1125.0 L753.6,1126.2 L756.4,1127.3 L759.2,1128.5 L761.9,1129.6 L764.7,1130.8 L767.5,1131.9 L770.3,1133.0 L773.1,1134.1 L775.9,1135.3 L778.7,1136.4 L781.5,1137.5 L784.4,1138.5 L787.2,1139.6 L790.0,1140.7 L792.8,1141.8 L795.6,1142.8 L798.5,1143.9 L801.3,1144.9 L804.1,1146.0 L806.9,1147.0 L809.8,1148.1 L812.6,1149.1 L815.5,1150.1 L818.3,1151.1 L821.2,1152.1 L824.0,1153.1 L826.9,1154.1 L829.7,1155.1 L832.6,1156.0 L835.4,1157.0 L838.3,1158.0 L841.1,1158.9 L844.0,1159.9 L846.9,1160.8 L849.7,1161.7 L852.6,1162.7 L855.5,1163.6 L858.4,1164.5 L861.2,1165.4 L864.1,1166.3 L867.0,1167.2 L869.9,1168.1 L872.7,1169.0 L875.6,1169.9 L878.5,1170.7 L881.4,1171.6 L884.3,1172.5 L887.2,1173.3 L890.1,1174.2 L893.0,1175.0 L895.9,1175.8 L898.7,1176.7 L901.6,1177.5 L904.5,1178.3 L907.4,1179.1 L910.3,1179.9 L913.2,1180.7 L916.1,1181.5 L919.0,1182.3 L922.0,1183.1 L924.9,1183.9 L927.8,1184.6 L930.7,1185.4 L933.6,1186.2 L936.5,1186.9 L939.4,1187.7 L942.3,1188.4 L945.2,1189.1 L948.1,1189.9 L951.1,1190.6 L954.0,1191.3 L956.9,1192.0 L959.8,1192.7 L962.7,1193.4 L965.7,1194.1 L968.6,1194.8 L971.5,1195.5 L974.4,1196.2 L977.3,1196.9 L980.3,1197.6 L983.2,1198.2 L986.1,1198.9 L989.1,1199.6 L992.0,1200.2 L994.9,1200.9 L997.9,1201.5 L1000.8,1202.2 L1003.7,1202.8 L1006.7,1203.4 L1009.6,1204.0 L1012.5,1204.7 L1015.5,1205.3 L1018.4,1205.9 L1021.3,1206.5 L1024.3,1207.1 L1027.2,1207.7 L1030.2,1208.3 L1033.1,1208.9 L1036.1,1209.5 L1039.0,1210.1 L1041.9,1210.7 L1044.9,1211.2 L1047.8,1211.8 L1050.8,1212.4 L1053.7,1212.9 L1056.7,1213.5 L1059.6,1214.1 L1062.6,1214.6 L1065.5,1215.2 L1068.5,1215.7 L1071.4,1216.2 L1074.4,1216.8 L1077.3,1217.3 L1080.3,1217.8 L1083.3,1218.4 L1086.2,1218.9 L1089.2,1219.4 L1092.1,1219.9 L1095.1,1220.4 L1098.1,1220.9 L1101.0,1221.4 L1104.0,1221.9 L1106.9,1222.4 L1109.9,1222.9 L1112.9,1223.4 L1115.8,1223.9 L1118.8,1224.4 L1121.8,1224.9 L1124.7,1225.4 L1127.7,1225.9 L1130.7,1226.3 L1133.6,1226.8 L1136.6,1227.3 L1139.6,1227.7 L1142.5,1228.2 L1145.5,1228.7 L1148.5,1229.1 L1151.4,1229.6 L1154.4,1230.0 L1157.4,1230.5 L1160.4,1230.9 L1163.3,1231.4 L1166.3,1231.8 L1169.3,1232.2 L1172.2,1232.7 L1175.2,1233.1 L1178.2,1233.6 L1181.2,1234.0 L1184.2,1234.4 L1187.1,1234.8 L1190.1,1235.3 L1193.1,1235.7 L1196.1,1236.1 L1199.0,1236.5 L1202.0,1236.9 L1205.0,1237.3 L1208.0,1237.8 L1211.0,1238.2 L1213.9,1238.6 L1216.9,1239.0 L1219.9,1239.4 L1222.9,1239.8 L1225.9,1240.2 L1228.8,1240.6 L1231.8,1241.0 L1234.8,1241.4 L1237.8,1241.8 L1240.8,1242.2 L1243.8,1242.6 L1246.7,1243.0 L1249.7,1243.4 L1252.7,1243.7 L1255.7,1244.1 L1258.7,1244.5 L1261.7,1244.9 L1264.7,1245.3 L1267.6,1245.7 L1270.6,1246.0 L1273.6,1246.4 L1276.6,1246.8 L1279.6,1247.2 L1282.6,1247.6 L1285.6,1247.9 L1288.6,1248.3 L1291.5,1248.7 L1294.5,1249.1 L1297.5,1249.4 L1300.5,1249.8 L1303.5,1250.2 L1306.5,1250.5 L1309.5,1250.9 L1312.5,1251.3 L1315.4,1251.7 L1318.4,1252.0 L1321.4,1252.4 L1324.4,1252.8 L1327.4,1253.1 L1330.4,1253.5 L1333.4,1253.9 L1336.4,1254.2 L1339.4,1254.6 L1342.4,1254.9 L1345.3,1255.3 L1348.3,1255.7 L1351.3,1256.0 L1354.3,1256.4 L1357.3,1256.7 L1360.3,1257.1 L1363.3,1257.4 L1366.3,1257.8 L1369.3,1258.1 L1372.3,1258.5 L1375.3,1258.9 L1378.2,1259.2 L1381.2,1259.5 L1384.2,1259.9 L1387.2,1260.2 L1390.2,1260.6 L1393.2,1260.9 L1396.2,1261.3 L1399.2,1261.6 L1402.2,1261.9 L1405.2,1262.3 L1408.2,1262.6 L1411.2,1263.0 L1414.2,1263.3 L1417.1,1263.6 L1420.1,1263.9 L1423.1,1264.3 L1426.1,1264.6 L1429.1,1264.9 L1432.1,1265.3 L1435.1,1265.6 L1438.1,1265.9 L1441.1,1266.2 L1444.1,1266.5 L1447.1,1266.9 L1450.1,1267.2 L1453.1,1267.5 L1456.1,1267.8 L1459.1,1268.1 L1462.1,1268.4 L1465.1,1268.7 L1468.1,1269.0 L1471.0,1269.3 L1474.0,1269.6 L1477.0,1269.9 L1480.0,1270.2 L1483.0,1270.5 L1486.0,1270.8 L1489.0,1271.1 L1492.0,1271.4 L1495.0,1271.7 L1498.0,1271.9 L1501.0,1272.2 L1504.0,1272.5 L1507.0,1272.8 L1510.0,1273.1 L1513.0,1273.3 L1516.0,1273.6 L1519.0,1273.9 L1522.0,1274.2 L1525.0,1274.4 L1528.0,1274.7 L1531.0,1274.9 L1534.0,1275.2 L1537.0,1275.5 L1540.0,1275.7 L1543.0,1276.0 L1546.0,1276.2 L1549.0,1276.5 L1552.0,1276.7 L1555.0,1276.9 L1558.0,1277.2 L1561.0,1277.4 L1563.9,1277.7 L1566.9,1277.9 L1569.9,1278.1 L1572.9,1278.4 L1575.9,1278.6 L1578.9,1278.8 L1581.9,1279.0 L1584.9,1279.2 L1587.9,1279.4 L1590.9,1279.7 L1593.9,1279.9 L1596.9,1280.1 L1599.9,1280.3 L1602.9,1280.5 L1605.9,1280.7 L1608.9,1280.9 L1611.9,1281.1 L1614.9,1281.3 L1617.9,1281.4 L1620.9,1281.6 L1623.9,1281.8 L1626.9,1282.0 L1629.9,1282.2 L1632.9,1282.3 L1635.9,1282.5 L1638.9,1282.7 L1641.9,1282.8 L1644.9,1283.0 L1647.9,1283.1 L1650.9,1283.3 L1653.9,1283.5 L1656.9,1283.6 L1659.9,1283.7 L1662.9,1283.9 L1665.9,1284.0 L1668.9,1284.2 L1671.9,1284.3 L1674.9,1284.4" stroke="#0000ff" stroke-width="4.8" fill="none" stroke-linejoin="miter"/>
<path d="M152.2,656.0 L152.7,659.0 L153.1,661.9 L153.6,664.9 L154.1,667.8 L154.5,670.8 L155.0,673.8 L155.4,676.7 L155.8,679.7 L156.2,682.7 L156.6,685.7 L157.0,688.6 L157.4,691.6 L157.8,694.6 L158.2,697.6 L158.6,700.6 L158.9,703.5 L159.3,706.5 L159.6,709.5 L160.0,712.5 L160.3,715.5 L160.7,718.5 L161.0,721.5 L161.3,724.5 L161.7,727.4 L162.0,730.4 L162.3,733.4 L162.7,736.4 L163.0,739.4 L163.3,742.4 L163.6,745.4 L164.0,748.4 L164.3,751.4 L164.6,754.3 L165.0,757.3 L165.3,760.3 L165.6,763.3 L166.0,766.3 L166.3,769.3 L166.7,772.3 L167.0,775.3 L167.4,778.2 L167.7,781.2 L168.1,784.2 L168.5,787.2 L168.8,790.2 L169.2,793.1 L169.6,796.1 L170.0,799.1 L170.4,802.1 L170.8,805.0 L171.3,808.0 L171.7,811.0 L172.1,814.0 L172.6,816.9 L173.0,819.9 L173.5,822.8 L174.0,825.8 L174.5,828.8 L175.0,831.7 L175.5,834.7 L176.1,837.6 L176.6,840.6 L177.2,843.5 L177.7,846.4 L178.3,849.4 L178.9,852.3 L179.5,855.3 L180.2,858.2 L180.8,861.1 L181.5,864.0 L182.2,867.0 L182.9,869.9 L183.6,872.8 L184.3,875.7 L185.1,878.6 L185.8,881.5 L186.6,884.4 L187.4,887.3 L188.2,890.2 L189.0,893.1 L189.8,896.0 L190.6,898.9 L191.4,901.8 L192.3,904.7 L193.1,907.6 L194.0,910.4 L194.9,913.3 L195.7,916.2 L196.6,919.1 L197.5,922.0 L198.4,924.8 L199.3,927.7 L200.2,930.6 L201.1,933.5 L202.0,936.3 L202.9,939.2 L203.8,942.1 L204.7,944.9 L205.6,947.8 L206.5,950.7 L207.4,953.5 L208.3,956.4 L209.2,959.3 L210.1,962.1 L211.0,965.0 L211.9,967.9 L212.8,970.7 L213.7,973.6 L214.6,976.5 L215.4,979.3 L216.3,982.2 L217.2,985.1 L218.0,988.0 L218.9,990.8 L219.7,993.7 L220.6,996.6 L221.4,999.4 L222.3,1002.3 L223.1,1005.2 L223.9,1008.1 L224.8,1011.0 L225.6,1013.8 L226.4,1016.7 L227.2,1019.6 L228.0,1022.5 L228.8,1025.4 L229.6,1028.3 L230.4,1031.2 L231.2,1034.1 L232.0,1037.0 L232.8,1039.9 L233.6,1042.8 L234.4,1045.7 L235.2,1048.6 L236.0,1051.5 L236.8,1054.4 L237.6,1057.3 L238.4,1060.2 L239.4,1063.1 L240.3,1065.9 L241.3,1068.7 L242.4,1071.5 L243.6,1074.2 L244.8,1076.9 L246.2,1079.5 L247.7,1082.1 L249.2,1084.6 L250.7,1087.2 L252.3,1089.7 L253.9,1092.2 L255.5,1094.7 L257.2,1097.2 L258.8,1099.8 L260.5,1102.3 L262.2,1104.8 L263.8,1107.3 L265.5,1109.8 L267.2,1112.2 L268.9,1114.7 L270.7,1117.2 L272.4,1119.7 L274.1,1122.2 L275.8,1124.6 L277.5,1127.1 L279.3,1129.5 L281.0,1132.0 L282.8,1134.4 L284.5,1136.8 L286.3,1139.2 L288.1,1141.6 L289.9,1144.0 L291.7,1146.4 L293.5,1148.7 L295.4,1151.1 L297.2,1153.4 L299.1,1155.7 L301.0,1158.0 L302.9,1160.3 L304.9,1162.5 L306.9,1164.8 L308.9,1167.0 L310.9,1169.2 L312.9,1171.4 L315.0,1173.5 L317.1,1175.6 L319.3,1177.7 L321.5,1179.8 L323.6,1181.9 L325.9,1183.9 L328.1,1185.9 L330.4,1187.9 L332.6,1189.9 L334.9,1191.9 L337.2,1193.9 L339.5,1195.9 L341.8,1197.8 L344.1,1199.8 L346.5,1201.7 L348.8,1203.7 L351.1,1205.6 L353.4,1207.5 L355.7,1209.5 L358.0,1211.4 L360.3,1213.3 L362.7,1215.2 L365.0,1217.1 L367.3,1219.0 L369.7,1220.8 L372.1,1222.7 L374.4,1224.5 L376.8,1226.3 L379.2,1228.0 L381.6,1229.8 L384.1,1231.5 L386.5,1233.1 L389.0,1234.8 L391.5,1236.4 L394.0,1238.0 L396.6,1239.5 L399.1,1241.0 L401.7,1242.4 L404.4,1243.8 L407.0,1245.2 L409.7,1246.5 L412.4,1247.8 L415.1,1249.1 L417.8,1250.3 L420.6,1251.5 L423.4,1252.6 L426.1,1253.8 L428.9,1254.9 L431.7,1256.0 L434.6,1257.1 L437.4,1258.1 L440.2,1259.2 L443.1,1260.2 L445.9,1261.3 L448.7,1262.3 L451.6,1263.3 L454.4,1264.3 L457.3,1265.4 L460.1,1266.4 L463.0,1267.4 L465.8,1268.4 L468.6,1269.4 L471.5,1270.4 L474.3,1271.4 L477.2,1272.4 L480.0,1273.4 L482.9,1274.4 L485.7,1275.4 L488.6,1276.3 L491.4,1277.3 L494.2,1278.3 L497.1,1279.2 L499.9,1280.2 L502.8,1281.1 L505.7,1282.1 L508.5,1283.0 L511.4,1283.9 L514.2,1284.8 L517.1,1285.7 L519.9,1286.6 L522.8,1287.5 L525.7,1288.4 L528.5,1289.3 L531.4,1290.2 L534.3,1291.0 L537.1,1291.9 L540.0,1292.8 L542.9,1293.6 L545.8,1294.4 L548.6,1295.2 L551.5,1296.1 L554.4,1296.9 L557.3,1297.6 L560.2,1298.4 L563.1,1299.2 L566.0,1300.0 L568.9,1300.7 L571.8,1301.5 L574.7,1302.2 L577.6,1302.9 L580.5,1303.6 L583.4,1304.3 L586.3,1305.0 L589.2,1305.7 L592.2,1306.3 L595.1,1307.0 L598.0,1307.6 L600.9,1308.2 L603.9,1308.8 L606.8,1309.4 L609.8,1310.0 L612.7,1310.6 L615.7,1311.1 L618.6,1311.7 L621.6,1312.2 L624.5,1312.7 L627.5,1313.2 L630.5,1313.7 L633.5,1314.2 L636.4,1314.7 L639.4,1315.2 L642.4,1315.6 L645.4,1316.1 L648.3,1316.5 L651.3,1316.9 L654.3,1317.4 L657.3,1317.8 L660.3,1318.2 L663.3,1318.6 L666.3,1318.9 L669.3,1319.3 L672.3,1319.7 L675.3,1320.0 L678.2,1320.4 L681.2,1320.7 L684.2,1321.1 L687.2,1321.4 L690.2,1321.7 L693.2,1322.0 L696.2,1322.3 L699.2,1322.7 L702.2,1323.0 L705.2,1323.2 L708.2,1323.5 L711.2,1323.8 L714.2,1324.1 L717.2,1324.4 L720.2,1324.6 L723.2,1324.9 L726.2,1325.2 L729.2,1325.4 L732.2,1325.7 L735.2,1325.9 L738.2,1326.2 L741.2,1326.4 L744.2,1326.6 L747.2,1326.9 L750.2,1327.1 L753.2,1327.3 L756.2,1327.5 L759.1,1327.8 L762.1,1328.0 L765.1,1328.2 L768.1,1328.4 L771.1,1328.6 L774.1,1328.8 L777.1,1329.0 L780.1,1329.2 L783.1,1329.4 L786.1,1329.6 L789.1,1329.7 L792.0,1329.9 L795.0,1330.1 L798.0,1330.3 L801.0,1330.5 L804.0,1330.6 L807.0,1330.8 L810.0,1331.0 L813.0,1331.1 L816.0,1331.3 L819.0,1331.5 L822.0,1331.6 L825.0,1331.8 L827.9,1331.9 L830.9,1332.1 L833.9,1332.2 L836.9,1332.4 L839.9,1332.5 L842.9,1332.7 L845.9,1332.8 L848.9,1333.0 L851.9,1333.1 L854.9,1333.3 L857.9,1333.4 L860.9,1333.6 L863.9,1333.7 L866.9,1333.8 L869.9,1334.0 L872.9,1334.1 L875.9,1334.3 L878.9,1334.4 L881.9,1334.5 L884.9,1334.7 L887.9,1334.8 L890.9,1334.9 L893.9,1335.1 L896.9,1335.2 L899.9,1335.3 L902.9,1335.5 L905.9,1335.6 L908.9,1335.7 L911.9,1335.9 L915.0,1336.0 L918.0,1336.1 L921.0,1336.2 L924.0,1336.4 L927.0,1336.5 L930.0,1336.6 L933.0,1336.8 L936.0,1336.9 L939.0,1337.0 L942.0,1337.1 L945.0,1337.3 L948.0,1337.4 L951.0,1337.5 L954.0,1337.6 L957.0,1337.8 L960.0,1337.9 L963.0,1338.0 L966.1,1338.1 L969.1,1338.3 L972.1,1338.4 L975.1,1338.5 L978.1,1338.6 L981.1,1338.8 L984.1,1338.9 L987.1,1339.0 L990.1,1339.2 L993.1,1339.3 L996.1,1339.4 L999.1,1339.5 L1002.1,1339.7 L1005.1,1339.8 L1008.1,1339.9 L1011.1,1340.0 L1014.1,1340.2 L1017.1,1340.3 L1020.1,1340.4 L1023.1,1340.5 L1026.1,1340.7 L1029.1,1340.8 L1032.2,1340.9 L1035.2,1341.1 L1038.2,1341.2 L1041.2,1341.3 L1044.2,1341.4 L1047.2,1341.6 L1050.2,1341.7 L1053.2,1341.8 L1056.2,1341.9 L1059.2,1342.0 L1062.2,1342.2 L1065.2,1342.3 L1068.2,1342.4 L1071.2,1342.5 L1074.2,1342.7 L1077.2,1342.8 L1080.2,1342.9 L1083.2,1343.0 L1086.2,1343.1 L1089.2,1343.3 L1092.2,1343.4 L1095.2,1343.5 L1098.2,1343.6 L1101.2,1343.7 L1104.2,1343.8 L1107.2,1343.9 L1110.2,1344.1 L1113.2,1344.2 L1116.2,1344.3 L1119.2,1344.4 L1122.2,1344.5 L1125.2,1344.6 L1128.2,1344.7 L1131.2,1344.8 L1134.2,1344.9 L1137.2,1345.0 L1140.2,1345.1 L1143.2,1345.2 L1146.2,1345.4 L1149.2,1345.5 L1152.2,1345.6 L1155.2,1345.7 L1158.2,1345.8 L1161.2,1345.8 L1164.2,1345.9 L1167.2,1346.0 L1170.3,1346.1 L1173.3,1346.2 L1176.3,1346.3 L1179.3,1346.4 L1182.3,1346.5 L1185.3,1346.6 L1188.3,1346.7 L1191.3,1346.8 L1194.3,1346.8 L1197.3,1346.9 L1200.3,1347.0 L1203.3,1347.1 L1206.3,1347.2 L1209.3,1347.3 L1212.3,1347.3 L1215.3,1347.4 L1218.3,1347.5 L1221.3,1347.6 L1224.3,1347.6 L1227.3,1347.7 L1230.3,1347.8 L1233.3,1347.9 L1236.3,1347.9 L1239.3,1348.0 L1242.3,1348.1 L1245.3,1348.1 L1248.3,1348.2 L1251.3,1348.3 L1254.3,1348.3 L1257.3,1348.4 L1260.3,1348.5 L1263.4,1348.5 L1266.4,1348.6 L1269.4,1348.7 L1272.4,1348.7 L1275.4,1348.8 L1278.4,1348.8 L1281.4,1348.9 L1284.4,1349.0 L1287.4,1349.0 L1290.4,1349.1 L1293.4,1349.1 L1296.4,1349.2 L1299.4,1349.2 L1302.4,1349.3 L1305.4,1349.3 L1308.4,1349.4 L1311.4,1349.5 L1314.4,1349.5 L1317.4,1349.6 L1320.4,1349.6 L1323.4,1349.7 L1326.4,1349.7 L1329.4,1349.8 L1332.5,1349.8 L1335.5,1349.9 L1338.5,1349.9 L1341.5,1350.0 L1344.5,1350.0 L1347.5,1350.0 L1350.5,1350.1 L1353.5,1350.1 L1356.5,1350.2 L1359.5,1350.2 L1362.5,1350.3 L1365.5,1350.3 L1368.5,1350.4 L1371.5,1350.4 L1374.5,1350.5 L1377.5,1350.5 L1380.5,1350.5 L1383.5,1350.6 L1386.5,1350.6 L1389.5,1350.7 L1392.6,1350.7 L1395.6,1350.7 L1398.6,1350.8 L1401.6,1350.8 L1404.6,1350.9 L1407.6,1350.9 L1410.6,1351.0 L1413.6,1351.0 L1416.6,1351.0 L1419.6,1351.1 L1422.6,1351.1 L1425.6,1351.2 L1428.6,1351.2 L1431.6,1351.2 L1434.6,1351.3 L1437.6,1351.3 L1440.6,1351.3 L1443.6,1351.4 L1446.6,1351.4 L1449.7,1351.5 L1452.7,1351.5 L1455.7,1351.5 L1458.7,1351.6 L1461.7,1351.6 L1464.7,1351.7 L1467.7,1351.7 L1470.7,1351.7 L1473.7,1351.8 L1476.7,1351.8 L1479.7,1351.9 L1482.7,1351.9 L1485.7,1351.9 L1488.7,1352.0 L1491.7,1352.0 L1494.7,1352.1 L1497.7,1352.1 L1500.7,1352.1 L1503.7,1352.2 L1506.7,1352.2 L1509.8,1352.3 L1512.8,1352.3 L1515.8,1352.3 L1518.8,1352.4 L1521.8,1352.4 L1524.8,1352.5 L1527.8,1352.5 L1530.8,1352.6 L1533.8,1352.6 L1536.8,1352.6 L1539.8,1352.7 L1542.8,1352.7 L1545.8,1352.8 L1548.8,1352.8 L1551.8,1352.9 L1554.8,1352.9 L1557.8,1353.0 L1560.8,1353.0 L1563.8,1353.1 L1566.8,1353.1 L1569.9,1353.2 L1572.9,1353.2 L1575.9,1353.2 L1578.9,1353.3 L1581.9,1353.3 L1584.9,1353.4 L1587.9,1353.5 L1590.9,1353.5 L1593.9,1353.6 L1596.9,1353.6 L1599.9,1353.7 L1602.9,1353.7 L1605.9,1353.8 L1608.9,1353.8 L1611.9,1353.9 L1614.9,1353.9 L1617.9,1354.0 L1620.9,1354.1 L1623.9,1354.1 L1626.9,1354.2 L1629.9,1354.2 L1632.9,1354.3 L1635.9,1354.4 L1638.9,1354.4 L1642.0,1354.5 L1645.0,1354.5 L1648.0,1354.6 L1651.0,1354.7 L1654.0,1354.7 L1657.0,1354.8 L1660.0,1354.9 L1663.0,1355.0 L1666.0,1355.0 L1669.0,1355.1 L1672.0,1355.2 L1675.0,1355.2" stroke="#0000ff" stroke-width="4.8" fill="none" stroke-linejoin="miter"/>
<path d="M1674.5,1279 L1674.5,1363" stroke="#0000ff" stroke-width="6.0" fill="none" stroke-linejoin="miter"/>
<path d="M1667,1278 L1672,1273 L1677,1278 L1672,1283 Z" stroke="#0000ff" stroke-width="2" fill="none"/>
<path d="M1675,1287 L1680,1282 L1685,1287 L1680,1292 Z" stroke="#0000ff" stroke-width="2" fill="none"/>
<path d="M1665,1353 L1670,1348 L1675,1353 L1670,1358 Z" stroke="#0000ff" stroke-width="2" fill="none"/>
<path d="M1676,1358 L1681,1353 L1686,1358 L1681,1363 Z" stroke="#0000ff" stroke-width="2" fill="none"/>
<path d="M1666,1368 L1671,1363 L1676,1368 L1671,1373 Z" stroke="#0000ff" stroke-width="2" fill="none"/>
<path d="M360.5,556.5 L190,636" stroke="#222" stroke-width="2.6" fill="none"/>
<path d="M164,648 L184,619.5 L197.5,636 L197,644.5 Z" fill="#000"/>
<path d="M112.3,33 L1782,33 L1782,1395 M112.3,1395 L112.3,33 M107,33 L112,33 M112.3,1383 L1784.5,1383" stroke="#d4d4d4" stroke-width="9" fill="none"/>
<path d="M112.3,33 L1782,33 L1782,1395 M112.3,1395 L112.3,33 M107,33 L112,33 M112.3,1383 L1784.5,1383" stroke="#000" stroke-width="5" fill="none"/>
<rect x="107.2" y="1326.6" width="3" height="5.2" fill="#000"/>
<rect x="107.2" y="1272.6" width="3" height="5.2" fill="#000"/>
<rect x="107.2" y="1218.5" width="3" height="5.2" fill="#000"/>
<rect x="107.2" y="1164.5" width="3" height="5.2" fill="#000"/>
<rect x="107.2" y="1110.5" width="3" height="5.2" fill="#000"/>
<rect x="107.2" y="1056.5" width="3" height="5.2" fill="#000"/>
<rect x="107.2" y="1002.5" width="3" height="5.2" fill="#000"/>
<rect x="107.2" y="948.4" width="3" height="5.2" fill="#000"/>
<rect x="107.2" y="894.4" width="3" height="5.2" fill="#000"/>
<rect x="107.2" y="840.4" width="3" height="5.2" fill="#000"/>
<rect x="107.2" y="786.4" width="3" height="5.2" fill="#000"/>
<rect x="107.2" y="732.4" width="3" height="5.2" fill="#000"/>
<rect x="107.2" y="678.3" width="3" height="5.2" fill="#000"/>
<rect x="107.2" y="624.3" width="3" height="5.2" fill="#000"/>
<rect x="107.2" y="570.3" width="3" height="5.2" fill="#000"/>
<rect x="107.2" y="516.3" width="3" height="5.2" fill="#000"/>
<rect x="107.2" y="462.3" width="3" height="5.2" fill="#000"/>
<rect x="107.2" y="408.2" width="3" height="5.2" fill="#000"/>
<rect x="107.2" y="354.2" width="3" height="5.2" fill="#000"/>
<rect x="107.2" y="300.2" width="3" height="5.2" fill="#000"/>
<rect x="107.2" y="246.2" width="3" height="5.2" fill="#000"/>
<rect x="107.2" y="192.2" width="3" height="5.2" fill="#000"/>
<rect x="107.2" y="138.1" width="3" height="5.2" fill="#000"/>
<rect x="107.2" y="84.1" width="3" height="5.2" fill="#000"/>
<rect x="182.9" y="1383" width="4" height="12" fill="#000"/>
<rect x="255.5" y="1383" width="4" height="12" fill="#000"/>
<rect x="328.1" y="1383" width="4" height="12" fill="#000"/>
<rect x="400.7" y="1383" width="4" height="12" fill="#000"/>
<rect x="473.3" y="1383" width="4" height="12" fill="#000"/>
<rect x="545.9" y="1383" width="4" height="12" fill="#000"/>
<rect x="618.5" y="1383" width="4" height="12" fill="#000"/>
<rect x="691.1" y="1383" width="4" height="12" fill="#000"/>
<rect x="763.7" y="1383" width="4" height="12" fill="#000"/>
<rect x="836.3" y="1383" width="4" height="12" fill="#000"/>
<rect x="908.9" y="1383" width="4" height="12" fill="#000"/>
<rect x="981.5" y="1383" width="4" height="12" fill="#000"/>
<rect x="1054.1" y="1383" width="4" height="12" fill="#000"/>
<rect x="1126.7" y="1383" width="4" height="12" fill="#000"/>
<rect x="1199.3" y="1383" width="4" height="12" fill="#000"/>
<rect x="1271.9" y="1383" width="4" height="12" fill="#000"/>
<rect x="1344.5" y="1383" width="4" height="12" fill="#000"/>
<rect x="1417.1" y="1383" width="4" height="12" fill="#000"/>
<rect x="1489.7" y="1383" width="4" height="12" fill="#000"/>
<rect x="1562.3" y="1383" width="4" height="12" fill="#000"/>
<rect x="1634.9" y="1383" width="4" height="12" fill="#000"/>
<rect x="1707.5" y="1383" width="4" height="12" fill="#000"/>
<rect x="105.5" y="1380" width="5" height="6" fill="#000"/>
<text x="25.82" y="104.90" font-family="Liberation Sans, Arial, sans-serif" font-size="66.9" fill="#000" textLength="34.84" lengthAdjust="spacingAndGlyphs" stroke="#fff" stroke-width="1.2">P</text>
<text x="1654.03" y="1508.10" font-family="Liberation Sans, Arial, sans-serif" font-size="66.9" fill="#000" textLength="40.74" lengthAdjust="spacingAndGlyphs" stroke="#fff" stroke-width="1.2">V</text>
<text x="265.08" y="250.40" font-family="Liberation Sans, Arial, sans-serif" font-size="47.2" fill="#0000ff" textLength="181.00" lengthAdjust="spacingAndGlyphs" stroke="#fff" stroke-width="0.7">Working</text>
<text x="450.79" y="250.40" font-family="Liberation Sans, Arial, sans-serif" font-size="47.2" fill="#0000ff" textLength="102.61" lengthAdjust="spacingAndGlyphs" stroke="#fff" stroke-width="0.7">cycle</text>
<text x="264.19" y="311.80" font-family="Liberation Sans, Arial, sans-serif" font-size="47.2" fill="#0000ff" textLength="43.83" lengthAdjust="spacingAndGlyphs" stroke="#fff" stroke-width="0.7">of</text>
<text x="316.24" y="311.80" font-family="Liberation Sans, Arial, sans-serif" font-size="47.2" fill="#0000ff" textLength="96.82" lengthAdjust="spacingAndGlyphs" stroke="#fff" stroke-width="0.7">High</text>
<text x="423.27" y="311.80" font-family="Liberation Sans, Arial, sans-serif" font-size="47.2" fill="#0000ff" textLength="199.43" lengthAdjust="spacingAndGlyphs" stroke="#fff" stroke-width="0.7">efficiency</text>
<text x="363.21" y="571.30" font-family="Liberation Sans, Arial, sans-serif" font-size="51.6" fill="#ff00ff" textLength="139.09" lengthAdjust="spacingAndGlyphs" stroke="#fff" stroke-width="0.5">T=740</text>
<text x="515.45" y="571.30" font-family="Liberation Sans, Arial, sans-serif" font-size="51.6" fill="#ff00ff" textLength="32.90" lengthAdjust="spacingAndGlyphs" stroke="#fff" stroke-width="0.5">K</text>
<g transform="rotate(44.0)">
<text x="876.99" y="411.71" font-family="Liberation Sans, Arial, sans-serif" font-size="46.5" fill="#000" textLength="286.50" lengthAdjust="spacingAndGlyphs" stroke="#fff" stroke-width="0.7">Working cycle</text>
<text x="873.11" y="471.82" font-family="Liberation Sans, Arial, sans-serif" font-size="46.5" fill="#000" textLength="235.55" lengthAdjust="spacingAndGlyphs" stroke="#fff" stroke-width="0.7">of Baseline</text>
</g>
<g transform="rotate(69.0)">
<text x="948.25" y="191.87" font-family="Liberation Sans, Arial, sans-serif" font-size="46.5" fill="#ff00ff" textLength="123.12" lengthAdjust="spacingAndGlyphs" stroke="#fff" stroke-width="0.7">K=1.4</text>
</g>
<g transform="rotate(16.3)">
<text x="1022.16" y="755.41" font-family="Liberation Sans, Arial, sans-serif" font-size="45.5" fill="#ff0000" textLength="228.80" lengthAdjust="spacingAndGlyphs" stroke="#fff" stroke-width="0.7">Isothermal</text>
<text x="1259.80" y="755.41" font-family="Liberation Sans, Arial, sans-serif" font-size="45.5" fill="#ff0000" textLength="102.07" lengthAdjust="spacingAndGlyphs" stroke="#fff" stroke-width="0.7">of T1</text>
</g>
<g transform="rotate(37.5)">
<text x="821.46" y="838.00" font-family="Liberation Sans, Arial, sans-serif" font-size="46.8" fill="#ff0000" textLength="229.84" lengthAdjust="spacingAndGlyphs" stroke="#fff" stroke-width="0.7">Isothermal</text>
<text x="886.55" y="899.00" font-family="Liberation Sans, Arial, sans-serif" font-size="46.8" fill="#ff0000" textLength="105.71" lengthAdjust="spacingAndGlyphs" stroke="#fff" stroke-width="0.7">of T1</text>
</g>
</svg></body></html>
